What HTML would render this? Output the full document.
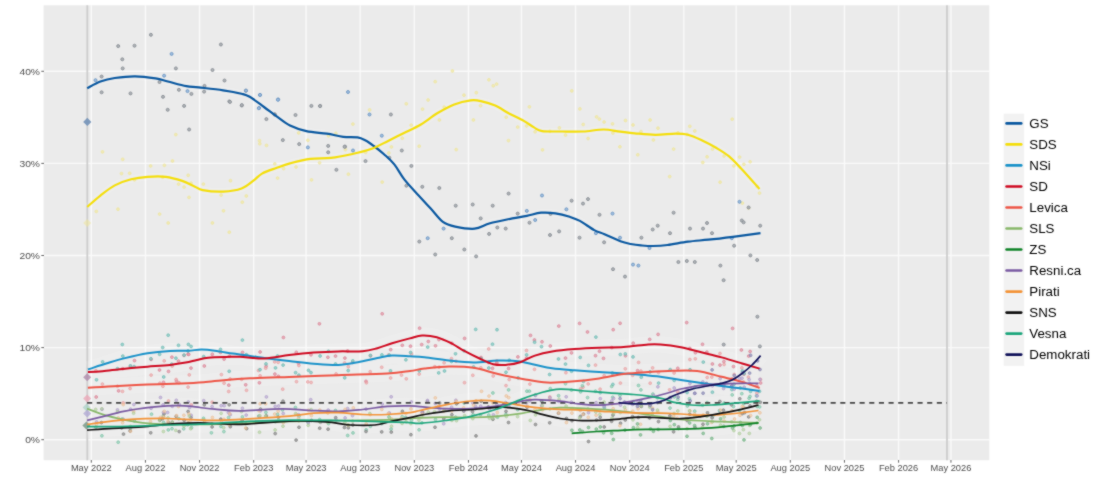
<!DOCTYPE html><html><head><meta charset="utf-8"><style>html,body{margin:0;padding:0;background:#fff;width:1100px;height:489px;overflow:hidden}svg{display:block}text{font-family:"Liberation Sans",sans-serif}</style></head><body>
<div id="w">
<svg width="1100" height="489" viewBox="0 0 1100 489">
<defs><filter id="bl" x="0" y="0" width="1" height="1" filterUnits="objectBoundingBox" color-interpolation-filters="sRGB"><feConvolveMatrix order="3" kernelMatrix="1 2 1 2 16 2 1 2 1" edgeMode="duplicate" preserveAlpha="true"/></filter></defs>
<g filter="url(#bl)">
<rect x="0" y="0" width="1100" height="489" fill="#fff"/>
<rect x="43.6" y="5.3" width="945.7" height="454.9" fill="#ebebeb"/>
<line x1="43.6" x2="989.3" y1="439.70" y2="439.70" stroke="#fafafa" stroke-width="1.4"/>
<line x1="43.6" x2="989.3" y1="347.60" y2="347.60" stroke="#fafafa" stroke-width="1.4"/>
<line x1="43.6" x2="989.3" y1="255.50" y2="255.50" stroke="#fafafa" stroke-width="1.4"/>
<line x1="43.6" x2="989.3" y1="163.40" y2="163.40" stroke="#fafafa" stroke-width="1.4"/>
<line x1="43.6" x2="989.3" y1="71.30" y2="71.30" stroke="#fafafa" stroke-width="1.4"/>
<line x1="91.30" x2="91.30" y1="5.3" y2="460.2" stroke="#fafafa" stroke-width="1.4"/>
<line x1="145.43" x2="145.43" y1="5.3" y2="460.2" stroke="#fafafa" stroke-width="1.4"/>
<line x1="199.57" x2="199.57" y1="5.3" y2="460.2" stroke="#fafafa" stroke-width="1.4"/>
<line x1="253.70" x2="253.70" y1="5.3" y2="460.2" stroke="#fafafa" stroke-width="1.4"/>
<line x1="306.07" x2="306.07" y1="5.3" y2="460.2" stroke="#fafafa" stroke-width="1.4"/>
<line x1="360.20" x2="360.20" y1="5.3" y2="460.2" stroke="#fafafa" stroke-width="1.4"/>
<line x1="414.33" x2="414.33" y1="5.3" y2="460.2" stroke="#fafafa" stroke-width="1.4"/>
<line x1="468.46" x2="468.46" y1="5.3" y2="460.2" stroke="#fafafa" stroke-width="1.4"/>
<line x1="521.42" x2="521.42" y1="5.3" y2="460.2" stroke="#fafafa" stroke-width="1.4"/>
<line x1="575.55" x2="575.55" y1="5.3" y2="460.2" stroke="#fafafa" stroke-width="1.4"/>
<line x1="629.69" x2="629.69" y1="5.3" y2="460.2" stroke="#fafafa" stroke-width="1.4"/>
<line x1="683.82" x2="683.82" y1="5.3" y2="460.2" stroke="#fafafa" stroke-width="1.4"/>
<line x1="736.19" x2="736.19" y1="5.3" y2="460.2" stroke="#fafafa" stroke-width="1.4"/>
<line x1="790.32" x2="790.32" y1="5.3" y2="460.2" stroke="#fafafa" stroke-width="1.4"/>
<line x1="844.45" x2="844.45" y1="5.3" y2="460.2" stroke="#fafafa" stroke-width="1.4"/>
<line x1="898.58" x2="898.58" y1="5.3" y2="460.2" stroke="#fafafa" stroke-width="1.4"/>
<line x1="950.95" x2="950.95" y1="5.3" y2="460.2" stroke="#fafafa" stroke-width="1.4"/>
<line x1="87.30" x2="87.30" y1="5.3" y2="460.2" stroke="#cdcdcd" stroke-width="1.8"/>
<line x1="947.00" x2="947.00" y1="5.3" y2="460.2" stroke="#cdcdcd" stroke-width="1.8"/>
<g opacity="0.13"><path d="M87.2,88.2 C89.4,87.1 95.8,83.2 100.4,81.5 C105.0,79.8 109.0,78.8 114.8,78.0 C120.6,77.2 128.4,76.3 135.2,76.4 C142.0,76.5 150.1,77.6 155.6,78.4 C161.1,79.2 162.8,80.2 167.9,81.5 C173.0,82.8 181.2,85.2 186.3,86.2 C191.4,87.2 192.5,86.7 198.6,87.4 C204.7,88.1 215.9,89.2 223.1,90.3 C230.2,91.3 237.1,92.6 241.5,93.7 C245.9,94.8 245.9,94.6 249.7,96.8 C253.4,99.0 259.6,103.8 264.0,107.0 C268.4,110.2 272.0,113.1 276.3,116.2 C280.6,119.3 285.0,123.1 290.0,125.6 C295.0,128.1 300.3,129.8 306.4,131.1 C312.5,132.4 320.7,132.8 326.8,133.7 C332.9,134.6 338.1,136.2 343.2,136.8 C348.3,137.4 353.8,136.8 357.5,137.4 C361.2,138.0 362.9,139.1 365.6,140.5 C368.3,141.9 370.7,143.7 373.8,146.0 C376.9,148.3 380.6,151.1 384.0,154.2 C387.4,157.3 390.9,160.2 394.3,164.4 C397.7,168.7 400.5,174.5 404.5,179.7 C408.5,184.8 414.0,190.5 418.4,195.3 C422.8,200.1 426.6,204.2 430.7,208.6 C434.8,213.0 438.8,218.9 442.9,221.9 C447.0,224.9 449.9,225.5 455.2,226.6 C460.5,227.7 468.8,229.2 474.6,228.7 C480.4,228.1 483.7,225.0 490.0,223.3 C496.3,221.6 506.3,219.7 512.4,218.4 C518.5,217.2 522.0,216.8 526.8,215.8 C531.6,214.9 536.3,213.1 541.1,212.7 C545.9,212.3 550.6,212.6 555.4,213.3 C560.2,214.0 565.6,215.5 569.7,216.8 C573.8,218.1 575.8,218.7 579.9,220.9 C584.0,223.1 590.1,227.9 594.2,230.1 C598.3,232.3 600.1,232.3 604.5,234.2 C608.9,236.1 616.0,239.7 620.4,241.3 C624.8,242.9 627.3,243.3 630.7,244.0 C634.1,244.7 637.1,245.1 640.9,245.4 C644.6,245.7 648.8,246.1 653.2,246.0 C657.6,245.9 661.7,245.7 667.5,245.0 C673.3,244.3 681.1,242.6 687.9,241.7 C694.7,240.8 700.9,240.5 708.4,239.7 C715.9,238.9 724.2,237.9 732.9,236.8 C741.6,235.7 755.9,233.8 760.5,233.2" fill="none" stroke="#ffffff" stroke-width="7" stroke-linecap="butt" stroke-linejoin="round"/><path d="M87.2,206.9 C89.4,205.0 95.8,199.2 100.4,195.6 C105.0,192.0 109.7,188.1 114.8,185.4 C119.9,182.7 125.6,180.7 131.1,179.3 C136.5,177.9 141.7,177.2 147.5,176.8 C153.3,176.4 160.1,176.1 165.9,176.8 C171.7,177.5 177.4,179.3 182.2,180.9 C187.0,182.5 191.1,184.9 194.5,186.4 C197.9,187.9 197.9,189.2 202.7,190.1 C207.5,191.0 216.6,191.9 223.1,191.6 C229.6,191.3 236.4,190.4 241.5,188.5 C246.6,186.6 250.4,182.8 253.8,180.3 C257.2,177.8 258.2,175.7 262.0,173.6 C265.8,171.5 271.6,169.7 276.3,168.0 C281.0,166.3 284.3,164.9 290.0,163.4 C295.7,161.9 303.6,159.8 310.4,158.9 C317.2,158.0 324.1,158.7 330.9,157.9 C337.7,157.1 344.5,155.7 351.3,154.2 C358.1,152.7 365.7,150.9 371.8,148.7 C377.9,146.5 382.7,143.6 388.1,140.9 C393.6,138.2 399.0,135.4 404.5,132.7 C410.0,130.0 415.4,127.7 420.9,124.5 C426.3,121.3 431.6,116.6 437.2,113.3 C442.8,110.0 448.7,106.7 454.3,104.5 C459.9,102.3 466.3,101.0 470.7,100.4 C475.1,99.8 476.8,100.2 480.9,101.1 C485.0,102.0 490.4,103.5 495.2,105.6 C500.0,107.7 504.7,111.2 509.5,113.7 C514.3,116.2 519.7,118.6 523.8,120.9 C527.9,123.2 530.9,125.7 534.0,127.4 C537.1,129.1 537.4,130.4 542.2,131.1 C547.0,131.8 555.9,131.4 562.7,131.5 C569.5,131.6 576.3,131.8 583.1,131.5 C589.9,131.2 597.4,129.5 603.6,129.5 C609.8,129.5 615.2,131.1 620.4,131.7 C625.6,132.3 629.0,132.8 634.8,133.3 C640.6,133.8 648.4,134.7 655.2,134.8 C662.0,134.9 670.2,133.7 675.6,133.7 C681.0,133.7 683.5,133.7 687.9,134.8 C692.3,135.9 697.4,138.3 702.2,140.5 C707.0,142.7 712.1,145.4 716.5,148.0 C720.9,150.6 724.7,152.8 728.8,156.2 C732.9,159.6 737.4,164.6 741.1,168.5 C744.9,172.4 748.2,176.3 751.3,179.7 C754.4,183.1 758.1,187.4 759.5,188.9" fill="none" stroke="#ffffff" stroke-width="7" stroke-linecap="butt" stroke-linejoin="round"/><path d="M87.9,369.4 C91.1,368.4 100.8,365.2 107.0,363.3 C113.2,361.4 118.2,359.8 125.0,358.1 C131.8,356.4 140.0,354.4 147.5,353.2 C155.0,352.0 163.2,351.3 170.0,350.9 C176.8,350.5 182.8,350.9 188.0,350.7 C193.2,350.5 196.9,349.6 201.4,349.6 C205.9,349.6 209.7,350.0 214.9,350.7 C220.2,351.4 227.1,352.7 232.9,353.6 C238.8,354.5 244.7,355.2 250.0,355.9 C255.3,356.6 258.0,357.1 264.5,358.0 C271.0,358.9 280.9,360.1 289.1,361.0 C297.3,361.9 305.4,363.1 313.6,363.7 C321.8,364.3 330.7,365.1 338.1,364.9 C345.5,364.6 351.2,363.3 357.8,362.2 C364.4,361.1 371.7,359.1 377.4,358.0 C383.1,356.9 386.7,355.9 392.1,355.6 C397.5,355.3 404.6,356.0 410.0,356.3 C415.4,356.6 418.0,356.6 424.5,357.3 C431.0,358.0 440.9,359.6 449.1,360.5 C457.3,361.4 465.4,362.4 473.6,362.4 C481.8,362.4 490.7,360.7 498.1,360.5 C505.5,360.3 511.7,360.5 517.8,361.2 C523.9,361.9 529.2,363.5 534.9,364.7 C540.6,365.9 545.5,367.4 552.1,368.3 C558.7,369.2 566.7,369.7 574.5,370.3 C582.3,370.9 590.9,371.5 599.1,372.0 C607.3,372.5 615.4,372.9 623.6,373.5 C631.8,374.1 642.0,374.8 648.1,375.4 C654.2,375.9 654.9,376.1 660.4,376.8 C665.9,377.6 674.1,378.9 680.9,379.9 C687.7,380.9 694.5,381.9 701.3,382.9 C708.1,383.9 714.9,385.1 721.7,386.0 C728.5,386.9 735.9,387.8 742.2,388.6 C748.5,389.5 756.7,390.7 759.6,391.1" fill="none" stroke="#ffffff" stroke-width="16" stroke-linecap="butt" stroke-linejoin="round"/><path d="M87.9,372.1 C90.3,372.0 96.3,371.8 102.5,371.2 C108.7,370.6 117.5,369.4 125.0,368.7 C132.5,367.9 140.0,367.3 147.5,366.7 C155.0,366.1 163.6,365.6 170.0,364.9 C176.4,364.2 181.2,363.4 185.7,362.6 C190.2,361.8 193.2,360.7 196.9,359.9 C200.7,359.1 203.3,358.2 208.2,357.7 C213.1,357.2 220.9,357.1 226.2,357.0 C231.5,356.9 233.6,356.6 240.0,356.8 C246.4,357.1 256.3,358.8 264.5,358.5 C272.7,358.2 280.9,356.1 289.1,355.1 C297.3,354.1 305.4,353.2 313.6,352.6 C321.8,352.0 329.9,351.6 338.1,351.4 C346.3,351.2 356.1,351.7 362.7,351.2 C369.2,350.7 372.5,349.5 377.4,348.2 C382.3,346.9 386.7,344.9 392.1,343.3 C397.5,341.7 404.8,339.7 409.8,338.4 C414.8,337.1 417.6,335.7 422.1,335.5 C426.6,335.3 431.9,335.9 436.8,337.2 C441.7,338.5 447.0,341.1 451.5,343.3 C456.0,345.6 459.3,348.2 463.8,350.7 C468.3,353.1 473.6,355.8 478.5,358.0 C483.4,360.2 488.7,363.1 493.2,364.2 C497.7,365.3 501.0,365.2 505.5,364.9 C510.0,364.6 515.3,363.8 520.2,362.2 C525.1,360.6 529.6,357.4 534.9,355.6 C540.2,353.8 545.5,352.5 552.1,351.4 C558.7,350.3 566.7,349.6 574.5,349.0 C582.3,348.4 590.9,348.0 599.1,347.7 C607.3,347.4 615.4,347.5 623.6,347.0 C631.8,346.5 642.0,344.9 648.1,344.5 C654.2,344.1 654.9,344.1 660.4,344.5 C665.9,344.9 674.1,345.9 680.9,347.2 C687.7,348.5 694.5,350.6 701.3,352.3 C708.1,354.0 714.9,355.5 721.7,357.4 C728.5,359.3 735.9,361.6 742.2,363.5 C748.5,365.4 756.7,367.8 759.6,368.6" fill="none" stroke="#ffffff" stroke-width="16" stroke-linecap="butt" stroke-linejoin="round"/><path d="M87.9,387.8 C92.2,387.5 103.8,386.7 113.7,386.2 C123.6,385.7 136.2,385.1 147.5,384.6 C158.8,384.2 171.8,383.9 181.2,383.5 C190.6,383.1 196.2,382.8 203.7,382.2 C211.2,381.6 218.5,380.5 226.2,379.9 C233.9,379.2 239.5,378.8 250.0,378.3 C260.5,377.8 274.4,377.4 289.1,376.9 C303.8,376.4 321.8,375.8 338.1,375.2 C354.5,374.6 375.2,374.2 387.2,373.5 C399.2,372.8 403.8,371.8 410.0,371.0 C416.2,370.2 418.0,369.3 424.5,368.6 C431.0,367.9 440.9,366.7 449.1,366.6 C457.3,366.5 465.4,366.6 473.6,367.8 C481.8,369.0 489.9,372.1 498.1,374.0 C506.3,375.9 514.5,377.5 522.7,378.9 C530.9,380.3 538.6,382.2 547.2,382.6 C555.8,383.0 565.9,382.0 574.5,381.3 C583.1,380.6 590.9,379.6 599.1,378.4 C607.3,377.2 615.4,375.1 623.6,374.0 C631.8,372.9 639.9,372.5 648.1,372.0 C656.3,371.5 664.5,371.0 672.7,370.8 C680.9,370.6 689.0,370.0 697.2,371.0 C705.4,372.0 714.2,375.0 721.7,376.8 C729.2,378.6 735.9,380.0 742.2,381.9 C748.5,383.8 756.7,387.0 759.6,388.0" fill="none" stroke="#ffffff" stroke-width="16" stroke-linecap="butt" stroke-linejoin="round"/><path d="M87.1,408.6 C89.5,409.5 96.6,412.5 101.8,414.1 C107.0,415.8 112.8,417.2 118.2,418.5 C123.7,419.8 129.1,420.8 134.5,421.7 C139.9,422.6 145.0,423.2 150.9,423.6 C156.8,424.0 161.8,424.2 170.0,424.3 C178.2,424.4 188.3,424.6 200.0,424.5 C211.7,424.4 225.2,424.0 240.0,423.5 C254.8,423.0 272.7,422.0 289.0,421.5 C305.3,421.0 321.7,420.8 338.0,420.5 C354.3,420.2 373.3,420.2 387.0,419.8 C400.7,419.4 410.2,418.3 420.0,417.9 C429.8,417.5 437.0,417.3 445.5,417.2 C454.0,417.1 462.4,417.6 470.9,417.5 C479.4,417.4 487.9,417.0 496.4,416.3 C504.9,415.6 514.4,414.4 521.8,413.3 C529.2,412.2 534.5,410.8 540.9,409.9 C547.3,408.9 552.7,407.9 560.0,407.6 C567.3,407.4 574.5,407.8 584.5,408.4 C594.5,409.0 609.1,409.9 620.0,411.0 C630.9,412.1 639.9,413.6 650.0,415.0 C660.1,416.4 668.9,418.4 680.9,419.5 C692.9,420.6 708.8,421.1 721.7,421.7 C734.6,422.2 752.4,422.6 758.5,422.8" fill="none" stroke="#ffffff" stroke-width="16" stroke-linecap="butt" stroke-linejoin="round"/><path d="M571.7,433.4 C575.9,433.1 588.5,432.0 596.8,431.5 C605.1,431.0 613.1,430.7 621.3,430.3 C629.5,429.9 636.1,429.6 645.9,429.4 C655.7,429.2 669.1,429.4 680.0,429.2 C690.9,428.9 702.8,428.5 711.5,427.9 C720.2,427.3 724.2,426.6 732.0,425.8 C739.8,425.0 754.1,423.3 758.5,422.8" fill="none" stroke="#ffffff" stroke-width="16" stroke-linecap="butt" stroke-linejoin="round"/><path d="M87.1,420.3 C89.5,419.7 95.7,418.3 101.8,416.8 C107.9,415.3 116.3,412.9 123.6,411.4 C130.9,409.9 138.2,408.8 145.5,407.9 C152.8,407.0 161.9,406.3 167.3,405.9 C172.8,405.5 174.6,405.6 178.2,405.7 C181.8,405.8 185.5,405.9 189.1,406.2 C192.7,406.5 195.7,407.0 200.0,407.5 C204.3,408.0 208.2,408.6 214.9,409.2 C221.6,409.8 228.9,410.9 240.0,410.8 C251.1,410.7 270.2,408.9 281.7,408.8 C293.1,408.7 299.3,409.9 308.7,410.3 C318.1,410.7 329.1,411.4 338.1,411.3 C347.1,411.2 354.5,410.3 362.7,409.5 C370.9,408.7 379.3,407.0 387.2,406.4 C395.1,405.8 404.5,405.8 410.0,405.9 C415.5,405.9 414.1,406.2 420.0,406.7 C425.9,407.1 437.0,408.3 445.5,408.6 C454.0,408.9 462.4,409.0 470.9,408.6 C479.4,408.2 489.0,407.2 496.4,406.1 C503.8,405.1 509.1,403.4 515.5,402.3 C521.9,401.2 527.1,399.9 534.5,399.7 C541.9,399.5 552.7,400.5 560.0,401.2 C567.3,401.9 572.3,403.2 578.4,403.9 C584.5,404.6 590.7,405.2 596.8,405.2 C602.9,405.2 609.1,404.6 615.2,403.9 C621.3,403.2 627.5,402.0 633.6,400.9 C639.7,399.8 645.9,398.6 652.0,397.2 C658.1,395.8 665.6,393.7 670.4,392.3 C675.2,390.9 675.8,390.1 680.9,389.0 C686.0,387.9 694.5,386.2 701.3,385.4 C708.1,384.5 714.9,384.2 721.7,383.9 C728.5,383.5 736.1,383.4 742.2,383.3 C748.3,383.2 755.8,383.3 758.5,383.3" fill="none" stroke="#ffffff" stroke-width="16" stroke-linecap="butt" stroke-linejoin="round"/><path d="M87.1,424.5 C89.5,424.1 95.7,423.1 101.8,422.3 C107.9,421.5 116.3,420.5 123.6,419.9 C130.9,419.3 138.2,418.9 145.5,418.7 C152.8,418.5 160.0,418.4 167.3,418.5 C174.6,418.6 181.2,419.2 189.1,419.5 C197.0,419.8 206.4,420.4 214.9,420.4 C223.4,420.4 227.6,420.1 240.0,419.4 C252.4,418.7 276.8,417.2 289.1,416.2 C301.4,415.2 305.4,413.8 313.6,413.2 C321.8,412.6 329.9,412.5 338.1,412.7 C346.3,412.9 354.5,414.2 362.7,414.5 C370.9,414.8 379.3,414.8 387.2,414.5 C395.1,414.2 404.5,413.4 410.0,412.7 C415.5,412.0 414.1,411.8 420.0,410.5 C425.9,409.2 437.0,406.4 445.5,404.8 C454.0,403.2 463.5,401.7 470.9,401.0 C478.3,400.3 483.6,400.3 490.0,400.7 C496.4,401.1 502.7,402.5 509.1,403.5 C515.5,404.5 521.8,405.8 528.2,406.7 C534.6,407.6 542.0,408.2 547.3,408.6 C552.6,409.0 553.8,409.1 560.0,409.3 C566.2,409.6 576.3,409.7 584.5,410.1 C592.7,410.5 600.9,411.2 609.1,411.7 C617.3,412.2 625.1,412.6 633.6,412.9 C642.1,413.1 652.5,413.0 660.4,413.2 C668.3,413.4 674.1,413.7 680.9,414.0 C687.7,414.3 694.5,415.1 701.3,415.2 C708.1,415.3 714.9,415.0 721.7,414.6 C728.5,414.2 736.1,413.3 742.2,412.6 C748.3,411.9 755.8,410.9 758.5,410.5" fill="none" stroke="#ffffff" stroke-width="16" stroke-linecap="butt" stroke-linejoin="round"/><path d="M87.1,430.1 C91.4,429.8 103.0,428.9 112.7,428.3 C122.4,427.7 135.5,427.3 145.5,426.6 C155.5,425.9 163.6,424.5 172.7,423.9 C181.8,423.3 188.8,422.7 200.0,422.8 C211.2,422.9 225.2,424.6 240.0,424.3 C254.8,424.0 274.8,421.5 289.1,421.1 C303.4,420.7 315.7,421.2 325.9,421.8 C336.1,422.4 342.2,424.5 350.4,425.0 C358.6,425.5 367.9,425.6 374.9,425.0 C381.8,424.4 386.2,422.3 392.1,421.1 C398.0,419.9 404.6,418.7 410.0,417.6 C415.4,416.5 418.0,415.6 424.5,414.5 C431.0,413.4 440.9,411.6 449.1,410.8 C457.3,410.0 465.4,410.1 473.6,409.5 C481.8,408.9 492.2,407.4 498.1,407.1 C504.0,406.8 504.1,407.1 509.1,407.7 C514.1,408.3 522.9,409.4 528.2,410.5 C533.5,411.6 535.6,412.8 540.9,414.1 C546.2,415.4 553.8,417.4 560.0,418.5 C566.2,419.6 572.3,420.2 578.4,420.5 C584.5,420.8 590.7,420.7 596.8,420.5 C602.9,420.3 609.1,419.8 615.2,419.3 C621.3,418.8 628.5,417.8 633.6,417.4 C638.7,417.0 641.4,417.0 645.9,417.1 C650.4,417.2 654.6,417.6 660.4,417.9 C666.2,418.2 674.1,418.9 680.9,418.7 C687.7,418.5 694.5,417.5 701.3,416.6 C708.1,415.7 714.9,414.4 721.7,413.2 C728.5,411.9 736.1,410.5 742.2,409.1 C748.3,407.7 755.8,405.7 758.5,405.0" fill="none" stroke="#ffffff" stroke-width="16" stroke-linecap="butt" stroke-linejoin="round"/><path d="M87.1,426.6 C91.4,426.6 103.0,426.7 112.7,426.6 C122.4,426.5 136.4,426.1 145.5,425.8 C154.6,425.5 158.2,425.3 167.3,425.0 C176.4,424.7 187.9,424.7 200.0,424.2 C212.1,423.7 225.2,422.5 240.0,421.8 C254.8,421.1 272.8,420.3 289.1,420.1 C305.5,419.9 321.8,420.3 338.1,420.6 C354.5,420.9 375.2,421.5 387.2,421.8 C399.2,422.1 404.5,422.4 410.0,422.6 C415.5,422.9 414.1,423.7 420.0,423.3 C425.9,422.9 437.0,421.7 445.5,420.5 C454.0,419.3 462.4,418.2 470.9,416.3 C479.4,414.4 487.9,412.2 496.4,409.3 C504.9,406.4 514.4,401.9 521.8,399.1 C529.2,396.3 534.5,394.4 540.9,392.7 C547.3,391.0 552.7,389.5 560.0,389.2 C567.3,388.9 576.3,390.4 584.5,391.0 C592.7,391.6 600.9,392.3 609.1,392.9 C617.3,393.5 626.5,393.9 633.6,394.5 C640.8,395.1 646.9,395.9 652.0,396.6 C657.1,397.4 660.8,398.1 664.3,399.0 C667.8,399.9 668.4,401.1 672.9,402.1 C677.4,403.1 684.7,404.5 691.1,405.0 C697.5,405.5 704.7,405.3 711.5,405.0 C718.3,404.7 724.0,404.1 732.0,403.4 C740.0,402.7 755.0,401.3 759.6,400.9" fill="none" stroke="#ffffff" stroke-width="16" stroke-linecap="butt" stroke-linejoin="round"/><path d="M618.9,402.7 C621.4,402.9 628.1,403.8 633.6,403.9 C639.1,404.0 646.9,403.9 652.0,403.3 C657.1,402.7 660.6,401.5 664.3,400.2 C668.0,398.9 669.5,397.3 674.0,395.5 C678.5,393.7 685.5,391.0 691.1,389.4 C696.7,387.8 702.3,387.0 707.4,386.0 C712.5,385.0 717.6,384.3 721.7,383.3 C725.8,382.3 728.6,381.6 732.0,380.0 C735.4,378.4 738.7,376.0 742.0,373.5 C745.3,371.0 748.9,368.0 752.0,365.0 C755.1,362.0 759.2,357.2 760.6,355.6" fill="none" stroke="#ffffff" stroke-width="16" stroke-linecap="butt" stroke-linejoin="round"/></g>
<g><circle cx="96.3" cy="211.4" r="1.4" fill="#f2eba8" stroke="#ede290" stroke-width="0.8" opacity="0.80"/><circle cx="102.5" cy="151.9" r="1.4" fill="#f2eba8" stroke="#ede290" stroke-width="0.8" opacity="0.80"/><circle cx="118.0" cy="209.2" r="1.4" fill="#f2eba8" stroke="#ede290" stroke-width="0.8" opacity="0.80"/><circle cx="121.5" cy="173.6" r="1.4" fill="#f2eba8" stroke="#ede290" stroke-width="0.8" opacity="0.80"/><circle cx="122.7" cy="159.3" r="1.4" fill="#f2eba8" stroke="#ede290" stroke-width="0.8" opacity="0.80"/><circle cx="129.7" cy="173.3" r="1.4" fill="#f2eba8" stroke="#ede290" stroke-width="0.8" opacity="0.80"/><circle cx="134.5" cy="179.9" r="1.4" fill="#f2eba8" stroke="#ede290" stroke-width="0.8" opacity="0.80"/><circle cx="150.6" cy="166.0" r="1.4" fill="#f2eba8" stroke="#ede290" stroke-width="0.8" opacity="0.80"/><circle cx="159.6" cy="214.1" r="1.4" fill="#f2eba8" stroke="#ede290" stroke-width="0.8" opacity="0.80"/><circle cx="162.7" cy="177.2" r="1.4" fill="#f2eba8" stroke="#ede290" stroke-width="0.8" opacity="0.80"/><circle cx="164.4" cy="165.3" r="1.4" fill="#f2eba8" stroke="#ede290" stroke-width="0.8" opacity="0.80"/><circle cx="168.2" cy="223.0" r="1.4" fill="#f2eba8" stroke="#ede290" stroke-width="0.8" opacity="0.80"/><circle cx="172.5" cy="161.0" r="1.4" fill="#f2eba8" stroke="#ede290" stroke-width="0.8" opacity="0.80"/><circle cx="175.8" cy="134.6" r="1.4" fill="#f2eba8" stroke="#ede290" stroke-width="0.8" opacity="0.80"/><circle cx="178.6" cy="184.1" r="1.4" fill="#f2eba8" stroke="#ede290" stroke-width="0.8" opacity="0.80"/><circle cx="184.1" cy="187.1" r="1.4" fill="#f2eba8" stroke="#ede290" stroke-width="0.8" opacity="0.80"/><circle cx="188.2" cy="175.3" r="1.4" fill="#f2eba8" stroke="#ede290" stroke-width="0.8" opacity="0.80"/><circle cx="189.0" cy="197.4" r="1.4" fill="#f2eba8" stroke="#ede290" stroke-width="0.8" opacity="0.80"/><circle cx="191.0" cy="183.1" r="1.4" fill="#f2eba8" stroke="#ede290" stroke-width="0.8" opacity="0.80"/><circle cx="203.4" cy="184.1" r="1.4" fill="#f2eba8" stroke="#ede290" stroke-width="0.8" opacity="0.80"/><circle cx="212.4" cy="223.0" r="1.4" fill="#f2eba8" stroke="#ede290" stroke-width="0.8" opacity="0.80"/><circle cx="221.1" cy="195.1" r="1.4" fill="#f2eba8" stroke="#ede290" stroke-width="0.8" opacity="0.80"/><circle cx="223.5" cy="210.8" r="1.4" fill="#f2eba8" stroke="#ede290" stroke-width="0.8" opacity="0.80"/><circle cx="229.3" cy="232.2" r="1.4" fill="#f2eba8" stroke="#ede290" stroke-width="0.8" opacity="0.80"/><circle cx="230.5" cy="180.7" r="1.4" fill="#f2eba8" stroke="#ede290" stroke-width="0.8" opacity="0.80"/><circle cx="242.3" cy="202.2" r="1.4" fill="#f2eba8" stroke="#ede290" stroke-width="0.8" opacity="0.80"/><circle cx="246.3" cy="196.0" r="1.4" fill="#f2eba8" stroke="#ede290" stroke-width="0.8" opacity="0.80"/><circle cx="259.5" cy="140.7" r="1.4" fill="#f2eba8" stroke="#ede290" stroke-width="0.8" opacity="0.80"/><circle cx="259.8" cy="143.8" r="1.4" fill="#f2eba8" stroke="#ede290" stroke-width="0.8" opacity="0.80"/><circle cx="266.5" cy="145.4" r="1.4" fill="#f2eba8" stroke="#ede290" stroke-width="0.8" opacity="0.80"/><circle cx="274.8" cy="163.9" r="1.4" fill="#f2eba8" stroke="#ede290" stroke-width="0.8" opacity="0.80"/><circle cx="277.6" cy="178.1" r="1.4" fill="#f2eba8" stroke="#ede290" stroke-width="0.8" opacity="0.80"/><circle cx="283.6" cy="168.6" r="1.4" fill="#f2eba8" stroke="#ede290" stroke-width="0.8" opacity="0.80"/><circle cx="296.0" cy="167.0" r="1.4" fill="#f2eba8" stroke="#ede290" stroke-width="0.8" opacity="0.80"/><circle cx="298.7" cy="132.9" r="1.4" fill="#f2eba8" stroke="#ede290" stroke-width="0.8" opacity="0.80"/><circle cx="307.9" cy="140.3" r="1.4" fill="#f2eba8" stroke="#ede290" stroke-width="0.8" opacity="0.80"/><circle cx="311.5" cy="179.9" r="1.4" fill="#f2eba8" stroke="#ede290" stroke-width="0.8" opacity="0.80"/><circle cx="319.6" cy="162.8" r="1.4" fill="#f2eba8" stroke="#ede290" stroke-width="0.8" opacity="0.80"/><circle cx="328.5" cy="135.9" r="1.4" fill="#f2eba8" stroke="#ede290" stroke-width="0.8" opacity="0.80"/><circle cx="335.9" cy="133.3" r="1.4" fill="#f2eba8" stroke="#ede290" stroke-width="0.8" opacity="0.80"/><circle cx="345.4" cy="149.6" r="1.4" fill="#f2eba8" stroke="#ede290" stroke-width="0.8" opacity="0.80"/><circle cx="348.4" cy="174.2" r="1.4" fill="#f2eba8" stroke="#ede290" stroke-width="0.8" opacity="0.80"/><circle cx="352.9" cy="124.1" r="1.4" fill="#f2eba8" stroke="#ede290" stroke-width="0.8" opacity="0.80"/><circle cx="365.7" cy="152.5" r="1.4" fill="#f2eba8" stroke="#ede290" stroke-width="0.8" opacity="0.80"/><circle cx="369.6" cy="109.9" r="1.4" fill="#f2eba8" stroke="#ede290" stroke-width="0.8" opacity="0.80"/><circle cx="382.2" cy="182.1" r="1.4" fill="#f2eba8" stroke="#ede290" stroke-width="0.8" opacity="0.80"/><circle cx="388.8" cy="153.0" r="1.4" fill="#f2eba8" stroke="#ede290" stroke-width="0.8" opacity="0.80"/><circle cx="391.4" cy="147.0" r="1.4" fill="#f2eba8" stroke="#ede290" stroke-width="0.8" opacity="0.80"/><circle cx="402.3" cy="138.2" r="1.4" fill="#f2eba8" stroke="#ede290" stroke-width="0.8" opacity="0.80"/><circle cx="406.3" cy="103.8" r="1.4" fill="#f2eba8" stroke="#ede290" stroke-width="0.8" opacity="0.80"/><circle cx="411.2" cy="125.2" r="1.4" fill="#f2eba8" stroke="#ede290" stroke-width="0.8" opacity="0.80"/><circle cx="419.2" cy="146.2" r="1.4" fill="#f2eba8" stroke="#ede290" stroke-width="0.8" opacity="0.80"/><circle cx="422.5" cy="109.1" r="1.4" fill="#f2eba8" stroke="#ede290" stroke-width="0.8" opacity="0.80"/><circle cx="428.1" cy="100.0" r="1.4" fill="#f2eba8" stroke="#ede290" stroke-width="0.8" opacity="0.80"/><circle cx="435.2" cy="81.7" r="1.4" fill="#f2eba8" stroke="#ede290" stroke-width="0.8" opacity="0.80"/><circle cx="439.4" cy="120.0" r="1.4" fill="#f2eba8" stroke="#ede290" stroke-width="0.8" opacity="0.80"/><circle cx="444.2" cy="107.1" r="1.4" fill="#f2eba8" stroke="#ede290" stroke-width="0.8" opacity="0.80"/><circle cx="452.4" cy="71.0" r="1.4" fill="#f2eba8" stroke="#ede290" stroke-width="0.8" opacity="0.80"/><circle cx="456.2" cy="149.6" r="1.4" fill="#f2eba8" stroke="#ede290" stroke-width="0.8" opacity="0.80"/><circle cx="464.0" cy="95.2" r="1.4" fill="#f2eba8" stroke="#ede290" stroke-width="0.8" opacity="0.80"/><circle cx="473.4" cy="120.0" r="1.4" fill="#f2eba8" stroke="#ede290" stroke-width="0.8" opacity="0.80"/><circle cx="476.3" cy="92.7" r="1.4" fill="#f2eba8" stroke="#ede290" stroke-width="0.8" opacity="0.80"/><circle cx="480.6" cy="105.7" r="1.4" fill="#f2eba8" stroke="#ede290" stroke-width="0.8" opacity="0.80"/><circle cx="488.9" cy="79.8" r="1.4" fill="#f2eba8" stroke="#ede290" stroke-width="0.8" opacity="0.80"/><circle cx="493.3" cy="85.8" r="1.4" fill="#f2eba8" stroke="#ede290" stroke-width="0.8" opacity="0.80"/><circle cx="496.6" cy="84.1" r="1.4" fill="#f2eba8" stroke="#ede290" stroke-width="0.8" opacity="0.80"/><circle cx="506.2" cy="117.2" r="1.4" fill="#f2eba8" stroke="#ede290" stroke-width="0.8" opacity="0.80"/><circle cx="508.5" cy="140.6" r="1.4" fill="#f2eba8" stroke="#ede290" stroke-width="0.8" opacity="0.80"/><circle cx="517.7" cy="127.1" r="1.4" fill="#f2eba8" stroke="#ede290" stroke-width="0.8" opacity="0.80"/><circle cx="526.6" cy="126.0" r="1.4" fill="#f2eba8" stroke="#ede290" stroke-width="0.8" opacity="0.80"/><circle cx="529.4" cy="106.9" r="1.4" fill="#f2eba8" stroke="#ede290" stroke-width="0.8" opacity="0.80"/><circle cx="535.1" cy="131.8" r="1.4" fill="#f2eba8" stroke="#ede290" stroke-width="0.8" opacity="0.80"/><circle cx="542.5" cy="149.9" r="1.4" fill="#f2eba8" stroke="#ede290" stroke-width="0.8" opacity="0.80"/><circle cx="549.9" cy="131.3" r="1.4" fill="#f2eba8" stroke="#ede290" stroke-width="0.8" opacity="0.80"/><circle cx="559.4" cy="127.9" r="1.4" fill="#f2eba8" stroke="#ede290" stroke-width="0.8" opacity="0.80"/><circle cx="565.5" cy="135.1" r="1.4" fill="#f2eba8" stroke="#ede290" stroke-width="0.8" opacity="0.80"/><circle cx="571.8" cy="90.9" r="1.4" fill="#f2eba8" stroke="#ede290" stroke-width="0.8" opacity="0.80"/><circle cx="579.9" cy="108.9" r="1.4" fill="#f2eba8" stroke="#ede290" stroke-width="0.8" opacity="0.80"/><circle cx="583.2" cy="124.5" r="1.4" fill="#f2eba8" stroke="#ede290" stroke-width="0.8" opacity="0.80"/><circle cx="588.1" cy="138.5" r="1.4" fill="#f2eba8" stroke="#ede290" stroke-width="0.8" opacity="0.80"/><circle cx="596.6" cy="116.9" r="1.4" fill="#f2eba8" stroke="#ede290" stroke-width="0.8" opacity="0.80"/><circle cx="599.4" cy="119.1" r="1.4" fill="#f2eba8" stroke="#ede290" stroke-width="0.8" opacity="0.80"/><circle cx="604.1" cy="122.0" r="1.4" fill="#f2eba8" stroke="#ede290" stroke-width="0.8" opacity="0.80"/><circle cx="612.5" cy="123.9" r="1.4" fill="#f2eba8" stroke="#ede290" stroke-width="0.8" opacity="0.80"/><circle cx="612.9" cy="133.0" r="1.4" fill="#f2eba8" stroke="#ede290" stroke-width="0.8" opacity="0.80"/><circle cx="619.9" cy="146.8" r="1.4" fill="#f2eba8" stroke="#ede290" stroke-width="0.8" opacity="0.80"/><circle cx="625.5" cy="120.5" r="1.4" fill="#f2eba8" stroke="#ede290" stroke-width="0.8" opacity="0.80"/><circle cx="633.0" cy="125.0" r="1.4" fill="#f2eba8" stroke="#ede290" stroke-width="0.8" opacity="0.80"/><circle cx="637.8" cy="154.8" r="1.4" fill="#f2eba8" stroke="#ede290" stroke-width="0.8" opacity="0.80"/><circle cx="641.0" cy="131.6" r="1.4" fill="#f2eba8" stroke="#ede290" stroke-width="0.8" opacity="0.80"/><circle cx="650.1" cy="120.0" r="1.4" fill="#f2eba8" stroke="#ede290" stroke-width="0.8" opacity="0.80"/><circle cx="653.4" cy="140.0" r="1.4" fill="#f2eba8" stroke="#ede290" stroke-width="0.8" opacity="0.80"/><circle cx="658.0" cy="128.2" r="1.4" fill="#f2eba8" stroke="#ede290" stroke-width="0.8" opacity="0.80"/><circle cx="669.7" cy="176.6" r="1.4" fill="#f2eba8" stroke="#ede290" stroke-width="0.8" opacity="0.80"/><circle cx="673.6" cy="149.1" r="1.4" fill="#f2eba8" stroke="#ede290" stroke-width="0.8" opacity="0.80"/><circle cx="678.0" cy="132.8" r="1.4" fill="#f2eba8" stroke="#ede290" stroke-width="0.8" opacity="0.80"/><circle cx="687.1" cy="134.4" r="1.4" fill="#f2eba8" stroke="#ede290" stroke-width="0.8" opacity="0.80"/><circle cx="689.8" cy="126.3" r="1.4" fill="#f2eba8" stroke="#ede290" stroke-width="0.8" opacity="0.80"/><circle cx="694.8" cy="131.0" r="1.4" fill="#f2eba8" stroke="#ede290" stroke-width="0.8" opacity="0.80"/><circle cx="702.8" cy="162.5" r="1.4" fill="#f2eba8" stroke="#ede290" stroke-width="0.8" opacity="0.80"/><circle cx="707.1" cy="156.8" r="1.4" fill="#f2eba8" stroke="#ede290" stroke-width="0.8" opacity="0.80"/><circle cx="712.5" cy="149.1" r="1.4" fill="#f2eba8" stroke="#ede290" stroke-width="0.8" opacity="0.80"/><circle cx="720.1" cy="182.2" r="1.4" fill="#f2eba8" stroke="#ede290" stroke-width="0.8" opacity="0.80"/><circle cx="724.1" cy="156.0" r="1.4" fill="#f2eba8" stroke="#ede290" stroke-width="0.8" opacity="0.80"/><circle cx="732.2" cy="119.2" r="1.4" fill="#f2eba8" stroke="#ede290" stroke-width="0.8" opacity="0.80"/><circle cx="733.9" cy="165.9" r="1.4" fill="#f2eba8" stroke="#ede290" stroke-width="0.8" opacity="0.80"/><circle cx="739.6" cy="157.1" r="1.4" fill="#f2eba8" stroke="#ede290" stroke-width="0.8" opacity="0.80"/><circle cx="742.4" cy="203.1" r="1.4" fill="#f2eba8" stroke="#ede290" stroke-width="0.8" opacity="0.80"/><circle cx="743.9" cy="164.3" r="1.4" fill="#f2eba8" stroke="#ede290" stroke-width="0.8" opacity="0.80"/><circle cx="748.6" cy="208.0" r="1.4" fill="#f2eba8" stroke="#ede290" stroke-width="0.8" opacity="0.80"/><circle cx="750.1" cy="161.8" r="1.4" fill="#f2eba8" stroke="#ede290" stroke-width="0.8" opacity="0.80"/><circle cx="757.1" cy="186.5" r="1.4" fill="#f2eba8" stroke="#ede290" stroke-width="0.8" opacity="0.80"/><circle cx="759.5" cy="193.1" r="1.4" fill="#f2eba8" stroke="#ede290" stroke-width="0.8" opacity="0.80"/><circle cx="96.2" cy="397.0" r="1.4" fill="#e7a3b0" stroke="#d67a8e" stroke-width="0.8" opacity="0.85"/><circle cx="118.6" cy="390.9" r="1.4" fill="#e7a3b0" stroke="#d67a8e" stroke-width="0.8" opacity="0.85"/><circle cx="122.7" cy="368.7" r="1.4" fill="#e7a3b0" stroke="#d67a8e" stroke-width="0.8" opacity="0.85"/><circle cx="130.5" cy="366.5" r="1.4" fill="#e7a3b0" stroke="#d67a8e" stroke-width="0.8" opacity="0.85"/><circle cx="134.5" cy="360.6" r="1.4" fill="#e7a3b0" stroke="#d67a8e" stroke-width="0.8" opacity="0.85"/><circle cx="151.1" cy="359.4" r="1.4" fill="#e7a3b0" stroke="#d67a8e" stroke-width="0.8" opacity="0.85"/><circle cx="159.5" cy="370.0" r="1.4" fill="#e7a3b0" stroke="#d67a8e" stroke-width="0.8" opacity="0.85"/><circle cx="163.5" cy="382.3" r="1.4" fill="#e7a3b0" stroke="#d67a8e" stroke-width="0.8" opacity="0.85"/><circle cx="168.5" cy="371.4" r="1.4" fill="#e7a3b0" stroke="#d67a8e" stroke-width="0.8" opacity="0.85"/><circle cx="171.9" cy="357.2" r="1.4" fill="#e7a3b0" stroke="#d67a8e" stroke-width="0.8" opacity="0.85"/><circle cx="176.5" cy="381.1" r="1.4" fill="#e7a3b0" stroke="#d67a8e" stroke-width="0.8" opacity="0.85"/><circle cx="178.5" cy="361.1" r="1.4" fill="#e7a3b0" stroke="#d67a8e" stroke-width="0.8" opacity="0.85"/><circle cx="184.0" cy="355.4" r="1.4" fill="#e7a3b0" stroke="#d67a8e" stroke-width="0.8" opacity="0.85"/><circle cx="188.1" cy="354.2" r="1.4" fill="#e7a3b0" stroke="#d67a8e" stroke-width="0.8" opacity="0.85"/><circle cx="188.7" cy="354.4" r="1.4" fill="#e7a3b0" stroke="#d67a8e" stroke-width="0.8" opacity="0.85"/><circle cx="191.0" cy="368.1" r="1.4" fill="#e7a3b0" stroke="#d67a8e" stroke-width="0.8" opacity="0.85"/><circle cx="204.3" cy="366.0" r="1.4" fill="#e7a3b0" stroke="#d67a8e" stroke-width="0.8" opacity="0.85"/><circle cx="212.3" cy="354.3" r="1.4" fill="#e7a3b0" stroke="#d67a8e" stroke-width="0.8" opacity="0.85"/><circle cx="220.5" cy="352.4" r="1.4" fill="#e7a3b0" stroke="#d67a8e" stroke-width="0.8" opacity="0.85"/><circle cx="224.1" cy="359.1" r="1.4" fill="#e7a3b0" stroke="#d67a8e" stroke-width="0.8" opacity="0.85"/><circle cx="228.8" cy="385.2" r="1.4" fill="#e7a3b0" stroke="#d67a8e" stroke-width="0.8" opacity="0.85"/><circle cx="229.4" cy="356.2" r="1.4" fill="#e7a3b0" stroke="#d67a8e" stroke-width="0.8" opacity="0.85"/><circle cx="242.5" cy="352.4" r="1.4" fill="#e7a3b0" stroke="#d67a8e" stroke-width="0.8" opacity="0.85"/><circle cx="245.7" cy="384.8" r="1.4" fill="#e7a3b0" stroke="#d67a8e" stroke-width="0.8" opacity="0.85"/><circle cx="259.4" cy="382.8" r="1.4" fill="#e7a3b0" stroke="#d67a8e" stroke-width="0.8" opacity="0.85"/><circle cx="260.1" cy="352.0" r="1.4" fill="#e7a3b0" stroke="#d67a8e" stroke-width="0.8" opacity="0.85"/><circle cx="266.1" cy="366.3" r="1.4" fill="#e7a3b0" stroke="#d67a8e" stroke-width="0.8" opacity="0.85"/><circle cx="274.9" cy="374.1" r="1.4" fill="#e7a3b0" stroke="#d67a8e" stroke-width="0.8" opacity="0.85"/><circle cx="278.4" cy="376.3" r="1.4" fill="#e7a3b0" stroke="#d67a8e" stroke-width="0.8" opacity="0.85"/><circle cx="283.4" cy="337.5" r="1.4" fill="#e7a3b0" stroke="#d67a8e" stroke-width="0.8" opacity="0.85"/><circle cx="296.3" cy="352.3" r="1.4" fill="#e7a3b0" stroke="#d67a8e" stroke-width="0.8" opacity="0.85"/><circle cx="298.5" cy="363.2" r="1.4" fill="#e7a3b0" stroke="#d67a8e" stroke-width="0.8" opacity="0.85"/><circle cx="311.0" cy="354.8" r="1.4" fill="#e7a3b0" stroke="#d67a8e" stroke-width="0.8" opacity="0.85"/><circle cx="319.4" cy="323.8" r="1.4" fill="#e7a3b0" stroke="#d67a8e" stroke-width="0.8" opacity="0.85"/><circle cx="327.9" cy="357.3" r="1.4" fill="#e7a3b0" stroke="#d67a8e" stroke-width="0.8" opacity="0.85"/><circle cx="335.5" cy="356.1" r="1.4" fill="#e7a3b0" stroke="#d67a8e" stroke-width="0.8" opacity="0.85"/><circle cx="344.9" cy="358.1" r="1.4" fill="#e7a3b0" stroke="#d67a8e" stroke-width="0.8" opacity="0.85"/><circle cx="347.6" cy="351.0" r="1.4" fill="#e7a3b0" stroke="#d67a8e" stroke-width="0.8" opacity="0.85"/><circle cx="352.7" cy="362.4" r="1.4" fill="#e7a3b0" stroke="#d67a8e" stroke-width="0.8" opacity="0.85"/><circle cx="366.0" cy="381.3" r="1.4" fill="#e7a3b0" stroke="#d67a8e" stroke-width="0.8" opacity="0.85"/><circle cx="370.5" cy="355.9" r="1.4" fill="#e7a3b0" stroke="#d67a8e" stroke-width="0.8" opacity="0.85"/><circle cx="382.2" cy="313.8" r="1.4" fill="#e7a3b0" stroke="#d67a8e" stroke-width="0.8" opacity="0.85"/><circle cx="390.7" cy="349.6" r="1.4" fill="#e7a3b0" stroke="#d67a8e" stroke-width="0.8" opacity="0.85"/><circle cx="402.3" cy="345.3" r="1.4" fill="#e7a3b0" stroke="#d67a8e" stroke-width="0.8" opacity="0.85"/><circle cx="410.5" cy="346.2" r="1.4" fill="#e7a3b0" stroke="#d67a8e" stroke-width="0.8" opacity="0.85"/><circle cx="419.6" cy="328.2" r="1.4" fill="#e7a3b0" stroke="#d67a8e" stroke-width="0.8" opacity="0.85"/><circle cx="421.7" cy="344.6" r="1.4" fill="#e7a3b0" stroke="#d67a8e" stroke-width="0.8" opacity="0.85"/><circle cx="428.3" cy="341.5" r="1.4" fill="#e7a3b0" stroke="#d67a8e" stroke-width="0.8" opacity="0.85"/><circle cx="435.5" cy="345.8" r="1.4" fill="#e7a3b0" stroke="#d67a8e" stroke-width="0.8" opacity="0.85"/><circle cx="438.9" cy="339.6" r="1.4" fill="#e7a3b0" stroke="#d67a8e" stroke-width="0.8" opacity="0.85"/><circle cx="451.9" cy="343.3" r="1.4" fill="#e7a3b0" stroke="#d67a8e" stroke-width="0.8" opacity="0.85"/><circle cx="464.6" cy="338.4" r="1.4" fill="#e7a3b0" stroke="#d67a8e" stroke-width="0.8" opacity="0.85"/><circle cx="481.0" cy="357.5" r="1.4" fill="#e7a3b0" stroke="#d67a8e" stroke-width="0.8" opacity="0.85"/><circle cx="488.5" cy="362.4" r="1.4" fill="#e7a3b0" stroke="#d67a8e" stroke-width="0.8" opacity="0.85"/><circle cx="492.5" cy="368.3" r="1.4" fill="#e7a3b0" stroke="#d67a8e" stroke-width="0.8" opacity="0.85"/><circle cx="496.9" cy="362.9" r="1.4" fill="#e7a3b0" stroke="#d67a8e" stroke-width="0.8" opacity="0.85"/><circle cx="508.6" cy="368.5" r="1.4" fill="#e7a3b0" stroke="#d67a8e" stroke-width="0.8" opacity="0.85"/><circle cx="517.9" cy="356.9" r="1.4" fill="#e7a3b0" stroke="#d67a8e" stroke-width="0.8" opacity="0.85"/><circle cx="526.5" cy="358.2" r="1.4" fill="#e7a3b0" stroke="#d67a8e" stroke-width="0.8" opacity="0.85"/><circle cx="530.5" cy="335.4" r="1.4" fill="#e7a3b0" stroke="#d67a8e" stroke-width="0.8" opacity="0.85"/><circle cx="534.4" cy="340.0" r="1.4" fill="#e7a3b0" stroke="#d67a8e" stroke-width="0.8" opacity="0.85"/><circle cx="542.0" cy="341.8" r="1.4" fill="#e7a3b0" stroke="#d67a8e" stroke-width="0.8" opacity="0.85"/><circle cx="550.3" cy="346.0" r="1.4" fill="#e7a3b0" stroke="#d67a8e" stroke-width="0.8" opacity="0.85"/><circle cx="558.8" cy="326.1" r="1.4" fill="#e7a3b0" stroke="#d67a8e" stroke-width="0.8" opacity="0.85"/><circle cx="565.5" cy="358.1" r="1.4" fill="#e7a3b0" stroke="#d67a8e" stroke-width="0.8" opacity="0.85"/><circle cx="571.5" cy="352.9" r="1.4" fill="#e7a3b0" stroke="#d67a8e" stroke-width="0.8" opacity="0.85"/><circle cx="579.6" cy="323.4" r="1.4" fill="#e7a3b0" stroke="#d67a8e" stroke-width="0.8" opacity="0.85"/><circle cx="587.5" cy="332.0" r="1.4" fill="#e7a3b0" stroke="#d67a8e" stroke-width="0.8" opacity="0.85"/><circle cx="595.5" cy="355.7" r="1.4" fill="#e7a3b0" stroke="#d67a8e" stroke-width="0.8" opacity="0.85"/><circle cx="599.5" cy="351.2" r="1.4" fill="#e7a3b0" stroke="#d67a8e" stroke-width="0.8" opacity="0.85"/><circle cx="603.5" cy="358.4" r="1.4" fill="#e7a3b0" stroke="#d67a8e" stroke-width="0.8" opacity="0.85"/><circle cx="611.8" cy="347.6" r="1.4" fill="#e7a3b0" stroke="#d67a8e" stroke-width="0.8" opacity="0.85"/><circle cx="613.2" cy="329.7" r="1.4" fill="#e7a3b0" stroke="#d67a8e" stroke-width="0.8" opacity="0.85"/><circle cx="620.1" cy="323.3" r="1.4" fill="#e7a3b0" stroke="#d67a8e" stroke-width="0.8" opacity="0.85"/><circle cx="625.5" cy="355.8" r="1.4" fill="#e7a3b0" stroke="#d67a8e" stroke-width="0.8" opacity="0.85"/><circle cx="633.2" cy="343.2" r="1.4" fill="#e7a3b0" stroke="#d67a8e" stroke-width="0.8" opacity="0.85"/><circle cx="637.6" cy="370.7" r="1.4" fill="#e7a3b0" stroke="#d67a8e" stroke-width="0.8" opacity="0.85"/><circle cx="649.7" cy="339.4" r="1.4" fill="#e7a3b0" stroke="#d67a8e" stroke-width="0.8" opacity="0.85"/><circle cx="658.1" cy="334.4" r="1.4" fill="#e7a3b0" stroke="#d67a8e" stroke-width="0.8" opacity="0.85"/><circle cx="677.8" cy="368.3" r="1.4" fill="#e7a3b0" stroke="#d67a8e" stroke-width="0.8" opacity="0.85"/><circle cx="686.7" cy="322.6" r="1.4" fill="#e7a3b0" stroke="#d67a8e" stroke-width="0.8" opacity="0.85"/><circle cx="689.8" cy="348.4" r="1.4" fill="#e7a3b0" stroke="#d67a8e" stroke-width="0.8" opacity="0.85"/><circle cx="695.4" cy="352.7" r="1.4" fill="#e7a3b0" stroke="#d67a8e" stroke-width="0.8" opacity="0.85"/><circle cx="702.5" cy="344.3" r="1.4" fill="#e7a3b0" stroke="#d67a8e" stroke-width="0.8" opacity="0.85"/><circle cx="706.9" cy="352.1" r="1.4" fill="#e7a3b0" stroke="#d67a8e" stroke-width="0.8" opacity="0.85"/><circle cx="712.4" cy="364.0" r="1.4" fill="#e7a3b0" stroke="#d67a8e" stroke-width="0.8" opacity="0.85"/><circle cx="720.0" cy="365.1" r="1.4" fill="#e7a3b0" stroke="#d67a8e" stroke-width="0.8" opacity="0.85"/><circle cx="723.9" cy="361.6" r="1.4" fill="#e7a3b0" stroke="#d67a8e" stroke-width="0.8" opacity="0.85"/><circle cx="732.6" cy="328.4" r="1.4" fill="#e7a3b0" stroke="#d67a8e" stroke-width="0.8" opacity="0.85"/><circle cx="733.5" cy="366.6" r="1.4" fill="#e7a3b0" stroke="#d67a8e" stroke-width="0.8" opacity="0.85"/><circle cx="741.4" cy="350.0" r="1.4" fill="#e7a3b0" stroke="#d67a8e" stroke-width="0.8" opacity="0.85"/><circle cx="744.0" cy="374.2" r="1.4" fill="#e7a3b0" stroke="#d67a8e" stroke-width="0.8" opacity="0.85"/><circle cx="748.7" cy="356.1" r="1.4" fill="#e7a3b0" stroke="#d67a8e" stroke-width="0.8" opacity="0.85"/><circle cx="750.1" cy="351.5" r="1.4" fill="#e7a3b0" stroke="#d67a8e" stroke-width="0.8" opacity="0.85"/><circle cx="756.8" cy="385.8" r="1.4" fill="#e7a3b0" stroke="#d67a8e" stroke-width="0.8" opacity="0.85"/><circle cx="760.6" cy="383.0" r="1.4" fill="#e7a3b0" stroke="#d67a8e" stroke-width="0.8" opacity="0.85"/><circle cx="95.9" cy="370.7" r="1.4" fill="#f0b0b0" stroke="#e48e92" stroke-width="0.8" opacity="0.75"/><circle cx="102.4" cy="384.1" r="1.4" fill="#f0b0b0" stroke="#e48e92" stroke-width="0.8" opacity="0.75"/><circle cx="117.5" cy="386.2" r="1.4" fill="#f0b0b0" stroke="#e48e92" stroke-width="0.8" opacity="0.75"/><circle cx="122.5" cy="391.4" r="1.4" fill="#f0b0b0" stroke="#e48e92" stroke-width="0.8" opacity="0.75"/><circle cx="123.2" cy="402.9" r="1.4" fill="#f0b0b0" stroke="#e48e92" stroke-width="0.8" opacity="0.75"/><circle cx="130.1" cy="388.5" r="1.4" fill="#f0b0b0" stroke="#e48e92" stroke-width="0.8" opacity="0.75"/><circle cx="151.1" cy="375.1" r="1.4" fill="#f0b0b0" stroke="#e48e92" stroke-width="0.8" opacity="0.75"/><circle cx="159.9" cy="383.2" r="1.4" fill="#f0b0b0" stroke="#e48e92" stroke-width="0.8" opacity="0.75"/><circle cx="162.9" cy="386.3" r="1.4" fill="#f0b0b0" stroke="#e48e92" stroke-width="0.8" opacity="0.75"/><circle cx="164.2" cy="360.9" r="1.4" fill="#f0b0b0" stroke="#e48e92" stroke-width="0.8" opacity="0.75"/><circle cx="168.5" cy="401.0" r="1.4" fill="#f0b0b0" stroke="#e48e92" stroke-width="0.8" opacity="0.75"/><circle cx="172.2" cy="366.1" r="1.4" fill="#f0b0b0" stroke="#e48e92" stroke-width="0.8" opacity="0.75"/><circle cx="176.1" cy="379.5" r="1.4" fill="#f0b0b0" stroke="#e48e92" stroke-width="0.8" opacity="0.75"/><circle cx="179.0" cy="382.7" r="1.4" fill="#f0b0b0" stroke="#e48e92" stroke-width="0.8" opacity="0.75"/><circle cx="188.1" cy="387.1" r="1.4" fill="#f0b0b0" stroke="#e48e92" stroke-width="0.8" opacity="0.75"/><circle cx="189.3" cy="374.9" r="1.4" fill="#f0b0b0" stroke="#e48e92" stroke-width="0.8" opacity="0.75"/><circle cx="191.3" cy="404.8" r="1.4" fill="#f0b0b0" stroke="#e48e92" stroke-width="0.8" opacity="0.75"/><circle cx="212.2" cy="402.2" r="1.4" fill="#f0b0b0" stroke="#e48e92" stroke-width="0.8" opacity="0.75"/><circle cx="221.4" cy="374.6" r="1.4" fill="#f0b0b0" stroke="#e48e92" stroke-width="0.8" opacity="0.75"/><circle cx="224.1" cy="383.2" r="1.4" fill="#f0b0b0" stroke="#e48e92" stroke-width="0.8" opacity="0.75"/><circle cx="228.7" cy="391.5" r="1.4" fill="#f0b0b0" stroke="#e48e92" stroke-width="0.8" opacity="0.75"/><circle cx="230.1" cy="379.0" r="1.4" fill="#f0b0b0" stroke="#e48e92" stroke-width="0.8" opacity="0.75"/><circle cx="241.6" cy="379.3" r="1.4" fill="#f0b0b0" stroke="#e48e92" stroke-width="0.8" opacity="0.75"/><circle cx="246.5" cy="390.3" r="1.4" fill="#f0b0b0" stroke="#e48e92" stroke-width="0.8" opacity="0.75"/><circle cx="258.5" cy="370.5" r="1.4" fill="#f0b0b0" stroke="#e48e92" stroke-width="0.8" opacity="0.75"/><circle cx="260.1" cy="375.8" r="1.4" fill="#f0b0b0" stroke="#e48e92" stroke-width="0.8" opacity="0.75"/><circle cx="265.7" cy="368.2" r="1.4" fill="#f0b0b0" stroke="#e48e92" stroke-width="0.8" opacity="0.75"/><circle cx="274.7" cy="361.9" r="1.4" fill="#f0b0b0" stroke="#e48e92" stroke-width="0.8" opacity="0.75"/><circle cx="278.2" cy="362.3" r="1.4" fill="#f0b0b0" stroke="#e48e92" stroke-width="0.8" opacity="0.75"/><circle cx="282.7" cy="389.2" r="1.4" fill="#f0b0b0" stroke="#e48e92" stroke-width="0.8" opacity="0.75"/><circle cx="296.5" cy="381.7" r="1.4" fill="#f0b0b0" stroke="#e48e92" stroke-width="0.8" opacity="0.75"/><circle cx="298.9" cy="365.5" r="1.4" fill="#f0b0b0" stroke="#e48e92" stroke-width="0.8" opacity="0.75"/><circle cx="307.8" cy="381.9" r="1.4" fill="#f0b0b0" stroke="#e48e92" stroke-width="0.8" opacity="0.75"/><circle cx="311.1" cy="382.5" r="1.4" fill="#f0b0b0" stroke="#e48e92" stroke-width="0.8" opacity="0.75"/><circle cx="336.1" cy="373.9" r="1.4" fill="#f0b0b0" stroke="#e48e92" stroke-width="0.8" opacity="0.75"/><circle cx="344.6" cy="362.9" r="1.4" fill="#f0b0b0" stroke="#e48e92" stroke-width="0.8" opacity="0.75"/><circle cx="348.3" cy="366.7" r="1.4" fill="#f0b0b0" stroke="#e48e92" stroke-width="0.8" opacity="0.75"/><circle cx="366.4" cy="382.8" r="1.4" fill="#f0b0b0" stroke="#e48e92" stroke-width="0.8" opacity="0.75"/><circle cx="370.2" cy="371.7" r="1.4" fill="#f0b0b0" stroke="#e48e92" stroke-width="0.8" opacity="0.75"/><circle cx="381.7" cy="367.3" r="1.4" fill="#f0b0b0" stroke="#e48e92" stroke-width="0.8" opacity="0.75"/><circle cx="388.5" cy="355.0" r="1.4" fill="#f0b0b0" stroke="#e48e92" stroke-width="0.8" opacity="0.75"/><circle cx="390.6" cy="378.0" r="1.4" fill="#f0b0b0" stroke="#e48e92" stroke-width="0.8" opacity="0.75"/><circle cx="401.5" cy="375.1" r="1.4" fill="#f0b0b0" stroke="#e48e92" stroke-width="0.8" opacity="0.75"/><circle cx="406.3" cy="378.8" r="1.4" fill="#f0b0b0" stroke="#e48e92" stroke-width="0.8" opacity="0.75"/><circle cx="411.5" cy="354.0" r="1.4" fill="#f0b0b0" stroke="#e48e92" stroke-width="0.8" opacity="0.75"/><circle cx="419.2" cy="374.1" r="1.4" fill="#f0b0b0" stroke="#e48e92" stroke-width="0.8" opacity="0.75"/><circle cx="434.8" cy="366.7" r="1.4" fill="#f0b0b0" stroke="#e48e92" stroke-width="0.8" opacity="0.75"/><circle cx="439.2" cy="367.2" r="1.4" fill="#f0b0b0" stroke="#e48e92" stroke-width="0.8" opacity="0.75"/><circle cx="444.1" cy="362.8" r="1.4" fill="#f0b0b0" stroke="#e48e92" stroke-width="0.8" opacity="0.75"/><circle cx="451.5" cy="358.7" r="1.4" fill="#f0b0b0" stroke="#e48e92" stroke-width="0.8" opacity="0.75"/><circle cx="456.0" cy="361.3" r="1.4" fill="#f0b0b0" stroke="#e48e92" stroke-width="0.8" opacity="0.75"/><circle cx="464.5" cy="382.7" r="1.4" fill="#f0b0b0" stroke="#e48e92" stroke-width="0.8" opacity="0.75"/><circle cx="472.8" cy="375.3" r="1.4" fill="#f0b0b0" stroke="#e48e92" stroke-width="0.8" opacity="0.75"/><circle cx="480.8" cy="367.8" r="1.4" fill="#f0b0b0" stroke="#e48e92" stroke-width="0.8" opacity="0.75"/><circle cx="488.7" cy="349.0" r="1.4" fill="#f0b0b0" stroke="#e48e92" stroke-width="0.8" opacity="0.75"/><circle cx="493.2" cy="376.0" r="1.4" fill="#f0b0b0" stroke="#e48e92" stroke-width="0.8" opacity="0.75"/><circle cx="496.8" cy="360.8" r="1.4" fill="#f0b0b0" stroke="#e48e92" stroke-width="0.8" opacity="0.75"/><circle cx="506.0" cy="385.6" r="1.4" fill="#f0b0b0" stroke="#e48e92" stroke-width="0.8" opacity="0.75"/><circle cx="509.2" cy="379.5" r="1.4" fill="#f0b0b0" stroke="#e48e92" stroke-width="0.8" opacity="0.75"/><circle cx="526.5" cy="350.5" r="1.4" fill="#f0b0b0" stroke="#e48e92" stroke-width="0.8" opacity="0.75"/><circle cx="529.9" cy="384.1" r="1.4" fill="#f0b0b0" stroke="#e48e92" stroke-width="0.8" opacity="0.75"/><circle cx="534.5" cy="369.3" r="1.4" fill="#f0b0b0" stroke="#e48e92" stroke-width="0.8" opacity="0.75"/><circle cx="549.8" cy="397.0" r="1.4" fill="#f0b0b0" stroke="#e48e92" stroke-width="0.8" opacity="0.75"/><circle cx="565.9" cy="372.7" r="1.4" fill="#f0b0b0" stroke="#e48e92" stroke-width="0.8" opacity="0.75"/><circle cx="580.6" cy="388.8" r="1.4" fill="#f0b0b0" stroke="#e48e92" stroke-width="0.8" opacity="0.75"/><circle cx="583.0" cy="387.3" r="1.4" fill="#f0b0b0" stroke="#e48e92" stroke-width="0.8" opacity="0.75"/><circle cx="588.2" cy="383.9" r="1.4" fill="#f0b0b0" stroke="#e48e92" stroke-width="0.8" opacity="0.75"/><circle cx="595.5" cy="365.1" r="1.4" fill="#f0b0b0" stroke="#e48e92" stroke-width="0.8" opacity="0.75"/><circle cx="600.1" cy="389.2" r="1.4" fill="#f0b0b0" stroke="#e48e92" stroke-width="0.8" opacity="0.75"/><circle cx="604.2" cy="375.7" r="1.4" fill="#f0b0b0" stroke="#e48e92" stroke-width="0.8" opacity="0.75"/><circle cx="612.9" cy="373.9" r="1.4" fill="#f0b0b0" stroke="#e48e92" stroke-width="0.8" opacity="0.75"/><circle cx="620.4" cy="383.1" r="1.4" fill="#f0b0b0" stroke="#e48e92" stroke-width="0.8" opacity="0.75"/><circle cx="625.3" cy="368.8" r="1.4" fill="#f0b0b0" stroke="#e48e92" stroke-width="0.8" opacity="0.75"/><circle cx="632.6" cy="375.3" r="1.4" fill="#f0b0b0" stroke="#e48e92" stroke-width="0.8" opacity="0.75"/><circle cx="638.6" cy="362.4" r="1.4" fill="#f0b0b0" stroke="#e48e92" stroke-width="0.8" opacity="0.75"/><circle cx="640.9" cy="371.1" r="1.4" fill="#f0b0b0" stroke="#e48e92" stroke-width="0.8" opacity="0.75"/><circle cx="650.2" cy="383.2" r="1.4" fill="#f0b0b0" stroke="#e48e92" stroke-width="0.8" opacity="0.75"/><circle cx="652.6" cy="367.9" r="1.4" fill="#f0b0b0" stroke="#e48e92" stroke-width="0.8" opacity="0.75"/><circle cx="658.5" cy="372.5" r="1.4" fill="#f0b0b0" stroke="#e48e92" stroke-width="0.8" opacity="0.75"/><circle cx="669.6" cy="389.8" r="1.4" fill="#f0b0b0" stroke="#e48e92" stroke-width="0.8" opacity="0.75"/><circle cx="674.1" cy="373.0" r="1.4" fill="#f0b0b0" stroke="#e48e92" stroke-width="0.8" opacity="0.75"/><circle cx="677.7" cy="391.8" r="1.4" fill="#f0b0b0" stroke="#e48e92" stroke-width="0.8" opacity="0.75"/><circle cx="689.9" cy="359.5" r="1.4" fill="#f0b0b0" stroke="#e48e92" stroke-width="0.8" opacity="0.75"/><circle cx="695.3" cy="358.8" r="1.4" fill="#f0b0b0" stroke="#e48e92" stroke-width="0.8" opacity="0.75"/><circle cx="703.0" cy="384.9" r="1.4" fill="#f0b0b0" stroke="#e48e92" stroke-width="0.8" opacity="0.75"/><circle cx="707.2" cy="377.5" r="1.4" fill="#f0b0b0" stroke="#e48e92" stroke-width="0.8" opacity="0.75"/><circle cx="711.8" cy="377.1" r="1.4" fill="#f0b0b0" stroke="#e48e92" stroke-width="0.8" opacity="0.75"/><circle cx="720.0" cy="353.5" r="1.4" fill="#f0b0b0" stroke="#e48e92" stroke-width="0.8" opacity="0.75"/><circle cx="724.1" cy="364.5" r="1.4" fill="#f0b0b0" stroke="#e48e92" stroke-width="0.8" opacity="0.75"/><circle cx="732.1" cy="378.7" r="1.4" fill="#f0b0b0" stroke="#e48e92" stroke-width="0.8" opacity="0.75"/><circle cx="734.2" cy="374.5" r="1.4" fill="#f0b0b0" stroke="#e48e92" stroke-width="0.8" opacity="0.75"/><circle cx="741.9" cy="367.9" r="1.4" fill="#f0b0b0" stroke="#e48e92" stroke-width="0.8" opacity="0.75"/><circle cx="743.5" cy="382.0" r="1.4" fill="#f0b0b0" stroke="#e48e92" stroke-width="0.8" opacity="0.75"/><circle cx="748.4" cy="377.1" r="1.4" fill="#f0b0b0" stroke="#e48e92" stroke-width="0.8" opacity="0.75"/><circle cx="756.9" cy="393.2" r="1.4" fill="#f0b0b0" stroke="#e48e92" stroke-width="0.8" opacity="0.75"/><circle cx="760.5" cy="379.5" r="1.4" fill="#f0b0b0" stroke="#e48e92" stroke-width="0.8" opacity="0.75"/><circle cx="96.5" cy="379.8" r="1.4" fill="#8fcfc8" stroke="#62b4ad" stroke-width="0.8" opacity="0.85"/><circle cx="102.6" cy="361.9" r="1.4" fill="#8fcfc8" stroke="#62b4ad" stroke-width="0.8" opacity="0.85"/><circle cx="117.5" cy="368.7" r="1.4" fill="#8fcfc8" stroke="#62b4ad" stroke-width="0.8" opacity="0.85"/><circle cx="122.3" cy="344.5" r="1.4" fill="#8fcfc8" stroke="#62b4ad" stroke-width="0.8" opacity="0.85"/><circle cx="122.8" cy="356.1" r="1.4" fill="#8fcfc8" stroke="#62b4ad" stroke-width="0.8" opacity="0.85"/><circle cx="130.4" cy="365.8" r="1.4" fill="#8fcfc8" stroke="#62b4ad" stroke-width="0.8" opacity="0.85"/><circle cx="134.1" cy="366.6" r="1.4" fill="#8fcfc8" stroke="#62b4ad" stroke-width="0.8" opacity="0.85"/><circle cx="150.9" cy="358.7" r="1.4" fill="#8fcfc8" stroke="#62b4ad" stroke-width="0.8" opacity="0.85"/><circle cx="159.6" cy="354.3" r="1.4" fill="#8fcfc8" stroke="#62b4ad" stroke-width="0.8" opacity="0.85"/><circle cx="162.7" cy="347.5" r="1.4" fill="#8fcfc8" stroke="#62b4ad" stroke-width="0.8" opacity="0.85"/><circle cx="163.7" cy="377.0" r="1.4" fill="#8fcfc8" stroke="#62b4ad" stroke-width="0.8" opacity="0.85"/><circle cx="168.2" cy="335.2" r="1.4" fill="#8fcfc8" stroke="#62b4ad" stroke-width="0.8" opacity="0.85"/><circle cx="171.7" cy="364.2" r="1.4" fill="#8fcfc8" stroke="#62b4ad" stroke-width="0.8" opacity="0.85"/><circle cx="175.9" cy="358.2" r="1.4" fill="#8fcfc8" stroke="#62b4ad" stroke-width="0.8" opacity="0.85"/><circle cx="178.5" cy="345.3" r="1.4" fill="#8fcfc8" stroke="#62b4ad" stroke-width="0.8" opacity="0.85"/><circle cx="184.1" cy="355.1" r="1.4" fill="#8fcfc8" stroke="#62b4ad" stroke-width="0.8" opacity="0.85"/><circle cx="188.0" cy="351.0" r="1.4" fill="#8fcfc8" stroke="#62b4ad" stroke-width="0.8" opacity="0.85"/><circle cx="188.4" cy="344.4" r="1.4" fill="#8fcfc8" stroke="#62b4ad" stroke-width="0.8" opacity="0.85"/><circle cx="191.1" cy="346.5" r="1.4" fill="#8fcfc8" stroke="#62b4ad" stroke-width="0.8" opacity="0.85"/><circle cx="203.7" cy="356.6" r="1.4" fill="#8fcfc8" stroke="#62b4ad" stroke-width="0.8" opacity="0.85"/><circle cx="220.5" cy="349.4" r="1.4" fill="#8fcfc8" stroke="#62b4ad" stroke-width="0.8" opacity="0.85"/><circle cx="229.2" cy="371.3" r="1.4" fill="#8fcfc8" stroke="#62b4ad" stroke-width="0.8" opacity="0.85"/><circle cx="242.4" cy="340.1" r="1.4" fill="#8fcfc8" stroke="#62b4ad" stroke-width="0.8" opacity="0.85"/><circle cx="246.3" cy="354.7" r="1.4" fill="#8fcfc8" stroke="#62b4ad" stroke-width="0.8" opacity="0.85"/><circle cx="260.0" cy="369.7" r="1.4" fill="#8fcfc8" stroke="#62b4ad" stroke-width="0.8" opacity="0.85"/><circle cx="266.0" cy="363.9" r="1.4" fill="#8fcfc8" stroke="#62b4ad" stroke-width="0.8" opacity="0.85"/><circle cx="275.5" cy="367.9" r="1.4" fill="#8fcfc8" stroke="#62b4ad" stroke-width="0.8" opacity="0.85"/><circle cx="277.5" cy="356.0" r="1.4" fill="#8fcfc8" stroke="#62b4ad" stroke-width="0.8" opacity="0.85"/><circle cx="283.1" cy="365.1" r="1.4" fill="#8fcfc8" stroke="#62b4ad" stroke-width="0.8" opacity="0.85"/><circle cx="295.6" cy="372.7" r="1.4" fill="#8fcfc8" stroke="#62b4ad" stroke-width="0.8" opacity="0.85"/><circle cx="298.9" cy="375.2" r="1.4" fill="#8fcfc8" stroke="#62b4ad" stroke-width="0.8" opacity="0.85"/><circle cx="308.5" cy="370.3" r="1.4" fill="#8fcfc8" stroke="#62b4ad" stroke-width="0.8" opacity="0.85"/><circle cx="311.0" cy="372.6" r="1.4" fill="#8fcfc8" stroke="#62b4ad" stroke-width="0.8" opacity="0.85"/><circle cx="320.1" cy="356.0" r="1.4" fill="#8fcfc8" stroke="#62b4ad" stroke-width="0.8" opacity="0.85"/><circle cx="328.4" cy="351.3" r="1.4" fill="#8fcfc8" stroke="#62b4ad" stroke-width="0.8" opacity="0.85"/><circle cx="335.5" cy="364.0" r="1.4" fill="#8fcfc8" stroke="#62b4ad" stroke-width="0.8" opacity="0.85"/><circle cx="344.7" cy="377.8" r="1.4" fill="#8fcfc8" stroke="#62b4ad" stroke-width="0.8" opacity="0.85"/><circle cx="348.2" cy="370.6" r="1.4" fill="#8fcfc8" stroke="#62b4ad" stroke-width="0.8" opacity="0.85"/><circle cx="352.8" cy="360.9" r="1.4" fill="#8fcfc8" stroke="#62b4ad" stroke-width="0.8" opacity="0.85"/><circle cx="370.4" cy="355.4" r="1.4" fill="#8fcfc8" stroke="#62b4ad" stroke-width="0.8" opacity="0.85"/><circle cx="381.9" cy="354.9" r="1.4" fill="#8fcfc8" stroke="#62b4ad" stroke-width="0.8" opacity="0.85"/><circle cx="389.3" cy="355.1" r="1.4" fill="#8fcfc8" stroke="#62b4ad" stroke-width="0.8" opacity="0.85"/><circle cx="390.5" cy="370.9" r="1.4" fill="#8fcfc8" stroke="#62b4ad" stroke-width="0.8" opacity="0.85"/><circle cx="405.9" cy="359.8" r="1.4" fill="#8fcfc8" stroke="#62b4ad" stroke-width="0.8" opacity="0.85"/><circle cx="410.6" cy="352.5" r="1.4" fill="#8fcfc8" stroke="#62b4ad" stroke-width="0.8" opacity="0.85"/><circle cx="419.3" cy="370.9" r="1.4" fill="#8fcfc8" stroke="#62b4ad" stroke-width="0.8" opacity="0.85"/><circle cx="427.7" cy="347.1" r="1.4" fill="#8fcfc8" stroke="#62b4ad" stroke-width="0.8" opacity="0.85"/><circle cx="438.7" cy="372.9" r="1.4" fill="#8fcfc8" stroke="#62b4ad" stroke-width="0.8" opacity="0.85"/><circle cx="444.5" cy="371.0" r="1.4" fill="#8fcfc8" stroke="#62b4ad" stroke-width="0.8" opacity="0.85"/><circle cx="451.5" cy="361.5" r="1.4" fill="#8fcfc8" stroke="#62b4ad" stroke-width="0.8" opacity="0.85"/><circle cx="455.5" cy="353.8" r="1.4" fill="#8fcfc8" stroke="#62b4ad" stroke-width="0.8" opacity="0.85"/><circle cx="464.1" cy="350.8" r="1.4" fill="#8fcfc8" stroke="#62b4ad" stroke-width="0.8" opacity="0.85"/><circle cx="473.6" cy="366.9" r="1.4" fill="#8fcfc8" stroke="#62b4ad" stroke-width="0.8" opacity="0.85"/><circle cx="475.7" cy="329.4" r="1.4" fill="#8fcfc8" stroke="#62b4ad" stroke-width="0.8" opacity="0.85"/><circle cx="481.2" cy="358.8" r="1.4" fill="#8fcfc8" stroke="#62b4ad" stroke-width="0.8" opacity="0.85"/><circle cx="488.8" cy="368.0" r="1.4" fill="#8fcfc8" stroke="#62b4ad" stroke-width="0.8" opacity="0.85"/><circle cx="492.5" cy="344.2" r="1.4" fill="#8fcfc8" stroke="#62b4ad" stroke-width="0.8" opacity="0.85"/><circle cx="497.0" cy="329.7" r="1.4" fill="#8fcfc8" stroke="#62b4ad" stroke-width="0.8" opacity="0.85"/><circle cx="506.0" cy="372.3" r="1.4" fill="#8fcfc8" stroke="#62b4ad" stroke-width="0.8" opacity="0.85"/><circle cx="509.3" cy="360.2" r="1.4" fill="#8fcfc8" stroke="#62b4ad" stroke-width="0.8" opacity="0.85"/><circle cx="518.1" cy="377.9" r="1.4" fill="#8fcfc8" stroke="#62b4ad" stroke-width="0.8" opacity="0.85"/><circle cx="526.6" cy="354.9" r="1.4" fill="#8fcfc8" stroke="#62b4ad" stroke-width="0.8" opacity="0.85"/><circle cx="534.6" cy="342.2" r="1.4" fill="#8fcfc8" stroke="#62b4ad" stroke-width="0.8" opacity="0.85"/><circle cx="541.5" cy="346.7" r="1.4" fill="#8fcfc8" stroke="#62b4ad" stroke-width="0.8" opacity="0.85"/><circle cx="549.6" cy="374.5" r="1.4" fill="#8fcfc8" stroke="#62b4ad" stroke-width="0.8" opacity="0.85"/><circle cx="558.5" cy="359.0" r="1.4" fill="#8fcfc8" stroke="#62b4ad" stroke-width="0.8" opacity="0.85"/><circle cx="565.5" cy="364.1" r="1.4" fill="#8fcfc8" stroke="#62b4ad" stroke-width="0.8" opacity="0.85"/><circle cx="571.5" cy="371.2" r="1.4" fill="#8fcfc8" stroke="#62b4ad" stroke-width="0.8" opacity="0.85"/><circle cx="580.2" cy="357.4" r="1.4" fill="#8fcfc8" stroke="#62b4ad" stroke-width="0.8" opacity="0.85"/><circle cx="583.4" cy="381.4" r="1.4" fill="#8fcfc8" stroke="#62b4ad" stroke-width="0.8" opacity="0.85"/><circle cx="588.5" cy="365.4" r="1.4" fill="#8fcfc8" stroke="#62b4ad" stroke-width="0.8" opacity="0.85"/><circle cx="595.9" cy="337.1" r="1.4" fill="#8fcfc8" stroke="#62b4ad" stroke-width="0.8" opacity="0.85"/><circle cx="600.2" cy="392.7" r="1.4" fill="#8fcfc8" stroke="#62b4ad" stroke-width="0.8" opacity="0.85"/><circle cx="604.3" cy="407.7" r="1.4" fill="#8fcfc8" stroke="#62b4ad" stroke-width="0.8" opacity="0.85"/><circle cx="612.4" cy="373.0" r="1.4" fill="#8fcfc8" stroke="#62b4ad" stroke-width="0.8" opacity="0.85"/><circle cx="612.9" cy="384.4" r="1.4" fill="#8fcfc8" stroke="#62b4ad" stroke-width="0.8" opacity="0.85"/><circle cx="620.3" cy="354.5" r="1.4" fill="#8fcfc8" stroke="#62b4ad" stroke-width="0.8" opacity="0.85"/><circle cx="625.3" cy="353.9" r="1.4" fill="#8fcfc8" stroke="#62b4ad" stroke-width="0.8" opacity="0.85"/><circle cx="633.0" cy="356.9" r="1.4" fill="#8fcfc8" stroke="#62b4ad" stroke-width="0.8" opacity="0.85"/><circle cx="641.3" cy="377.2" r="1.4" fill="#8fcfc8" stroke="#62b4ad" stroke-width="0.8" opacity="0.85"/><circle cx="650.0" cy="371.9" r="1.4" fill="#8fcfc8" stroke="#62b4ad" stroke-width="0.8" opacity="0.85"/><circle cx="658.6" cy="383.1" r="1.4" fill="#8fcfc8" stroke="#62b4ad" stroke-width="0.8" opacity="0.85"/><circle cx="670.2" cy="369.6" r="1.4" fill="#8fcfc8" stroke="#62b4ad" stroke-width="0.8" opacity="0.85"/><circle cx="674.2" cy="380.4" r="1.4" fill="#8fcfc8" stroke="#62b4ad" stroke-width="0.8" opacity="0.85"/><circle cx="687.1" cy="392.5" r="1.4" fill="#8fcfc8" stroke="#62b4ad" stroke-width="0.8" opacity="0.85"/><circle cx="690.0" cy="369.7" r="1.4" fill="#8fcfc8" stroke="#62b4ad" stroke-width="0.8" opacity="0.85"/><circle cx="694.8" cy="387.0" r="1.4" fill="#8fcfc8" stroke="#62b4ad" stroke-width="0.8" opacity="0.85"/><circle cx="703.3" cy="362.1" r="1.4" fill="#8fcfc8" stroke="#62b4ad" stroke-width="0.8" opacity="0.85"/><circle cx="712.4" cy="392.2" r="1.4" fill="#8fcfc8" stroke="#62b4ad" stroke-width="0.8" opacity="0.85"/><circle cx="719.5" cy="410.7" r="1.4" fill="#8fcfc8" stroke="#62b4ad" stroke-width="0.8" opacity="0.85"/><circle cx="731.9" cy="389.6" r="1.4" fill="#8fcfc8" stroke="#62b4ad" stroke-width="0.8" opacity="0.85"/><circle cx="734.0" cy="384.3" r="1.4" fill="#8fcfc8" stroke="#62b4ad" stroke-width="0.8" opacity="0.85"/><circle cx="740.3" cy="387.9" r="1.4" fill="#8fcfc8" stroke="#62b4ad" stroke-width="0.8" opacity="0.85"/><circle cx="742.4" cy="371.0" r="1.4" fill="#8fcfc8" stroke="#62b4ad" stroke-width="0.8" opacity="0.85"/><circle cx="744.1" cy="373.5" r="1.4" fill="#8fcfc8" stroke="#62b4ad" stroke-width="0.8" opacity="0.85"/><circle cx="750.6" cy="391.4" r="1.4" fill="#8fcfc8" stroke="#62b4ad" stroke-width="0.8" opacity="0.85"/><circle cx="756.5" cy="395.9" r="1.4" fill="#8fcfc8" stroke="#62b4ad" stroke-width="0.8" opacity="0.85"/><circle cx="759.5" cy="391.3" r="1.4" fill="#8fcfc8" stroke="#62b4ad" stroke-width="0.8" opacity="0.85"/><circle cx="95.8" cy="427.2" r="1.4" fill="#96d4bc" stroke="#62b896" stroke-width="0.8" opacity="0.75"/><circle cx="101.9" cy="435.8" r="1.4" fill="#96d4bc" stroke="#62b896" stroke-width="0.8" opacity="0.75"/><circle cx="118.2" cy="442.2" r="1.4" fill="#96d4bc" stroke="#62b896" stroke-width="0.8" opacity="0.75"/><circle cx="121.9" cy="419.2" r="1.4" fill="#96d4bc" stroke="#62b896" stroke-width="0.8" opacity="0.75"/><circle cx="130.3" cy="428.5" r="1.4" fill="#96d4bc" stroke="#62b896" stroke-width="0.8" opacity="0.75"/><circle cx="134.4" cy="421.0" r="1.4" fill="#96d4bc" stroke="#62b896" stroke-width="0.8" opacity="0.75"/><circle cx="151.5" cy="414.2" r="1.4" fill="#96d4bc" stroke="#62b896" stroke-width="0.8" opacity="0.75"/><circle cx="159.9" cy="419.5" r="1.4" fill="#96d4bc" stroke="#62b896" stroke-width="0.8" opacity="0.75"/><circle cx="163.3" cy="416.0" r="1.4" fill="#96d4bc" stroke="#62b896" stroke-width="0.8" opacity="0.75"/><circle cx="163.6" cy="422.5" r="1.4" fill="#96d4bc" stroke="#62b896" stroke-width="0.8" opacity="0.75"/><circle cx="168.3" cy="429.9" r="1.4" fill="#96d4bc" stroke="#62b896" stroke-width="0.8" opacity="0.75"/><circle cx="172.0" cy="428.7" r="1.4" fill="#96d4bc" stroke="#62b896" stroke-width="0.8" opacity="0.75"/><circle cx="178.8" cy="418.8" r="1.4" fill="#96d4bc" stroke="#62b896" stroke-width="0.8" opacity="0.75"/><circle cx="183.7" cy="428.8" r="1.4" fill="#96d4bc" stroke="#62b896" stroke-width="0.8" opacity="0.75"/><circle cx="187.5" cy="424.7" r="1.4" fill="#96d4bc" stroke="#62b896" stroke-width="0.8" opacity="0.75"/><circle cx="191.5" cy="427.7" r="1.4" fill="#96d4bc" stroke="#62b896" stroke-width="0.8" opacity="0.75"/><circle cx="203.5" cy="418.3" r="1.4" fill="#96d4bc" stroke="#62b896" stroke-width="0.8" opacity="0.75"/><circle cx="211.4" cy="432.8" r="1.4" fill="#96d4bc" stroke="#62b896" stroke-width="0.8" opacity="0.75"/><circle cx="221.0" cy="426.5" r="1.4" fill="#96d4bc" stroke="#62b896" stroke-width="0.8" opacity="0.75"/><circle cx="223.9" cy="431.6" r="1.4" fill="#96d4bc" stroke="#62b896" stroke-width="0.8" opacity="0.75"/><circle cx="228.6" cy="417.6" r="1.4" fill="#96d4bc" stroke="#62b896" stroke-width="0.8" opacity="0.75"/><circle cx="229.9" cy="424.8" r="1.4" fill="#96d4bc" stroke="#62b896" stroke-width="0.8" opacity="0.75"/><circle cx="242.4" cy="416.9" r="1.4" fill="#96d4bc" stroke="#62b896" stroke-width="0.8" opacity="0.75"/><circle cx="258.7" cy="416.1" r="1.4" fill="#96d4bc" stroke="#62b896" stroke-width="0.8" opacity="0.75"/><circle cx="265.9" cy="412.4" r="1.4" fill="#96d4bc" stroke="#62b896" stroke-width="0.8" opacity="0.75"/><circle cx="275.4" cy="421.7" r="1.4" fill="#96d4bc" stroke="#62b896" stroke-width="0.8" opacity="0.75"/><circle cx="277.5" cy="414.3" r="1.4" fill="#96d4bc" stroke="#62b896" stroke-width="0.8" opacity="0.75"/><circle cx="282.5" cy="409.9" r="1.4" fill="#96d4bc" stroke="#62b896" stroke-width="0.8" opacity="0.75"/><circle cx="295.4" cy="407.5" r="1.4" fill="#96d4bc" stroke="#62b896" stroke-width="0.8" opacity="0.75"/><circle cx="299.0" cy="416.2" r="1.4" fill="#96d4bc" stroke="#62b896" stroke-width="0.8" opacity="0.75"/><circle cx="307.9" cy="421.8" r="1.4" fill="#96d4bc" stroke="#62b896" stroke-width="0.8" opacity="0.75"/><circle cx="319.7" cy="419.6" r="1.4" fill="#96d4bc" stroke="#62b896" stroke-width="0.8" opacity="0.75"/><circle cx="328.5" cy="423.6" r="1.4" fill="#96d4bc" stroke="#62b896" stroke-width="0.8" opacity="0.75"/><circle cx="335.5" cy="410.5" r="1.4" fill="#96d4bc" stroke="#62b896" stroke-width="0.8" opacity="0.75"/><circle cx="347.7" cy="435.5" r="1.4" fill="#96d4bc" stroke="#62b896" stroke-width="0.8" opacity="0.75"/><circle cx="353.0" cy="432.9" r="1.4" fill="#96d4bc" stroke="#62b896" stroke-width="0.8" opacity="0.75"/><circle cx="366.2" cy="429.8" r="1.4" fill="#96d4bc" stroke="#62b896" stroke-width="0.8" opacity="0.75"/><circle cx="370.4" cy="426.3" r="1.4" fill="#96d4bc" stroke="#62b896" stroke-width="0.8" opacity="0.75"/><circle cx="381.7" cy="423.6" r="1.4" fill="#96d4bc" stroke="#62b896" stroke-width="0.8" opacity="0.75"/><circle cx="389.0" cy="416.9" r="1.4" fill="#96d4bc" stroke="#62b896" stroke-width="0.8" opacity="0.75"/><circle cx="391.1" cy="429.1" r="1.4" fill="#96d4bc" stroke="#62b896" stroke-width="0.8" opacity="0.75"/><circle cx="402.2" cy="416.7" r="1.4" fill="#96d4bc" stroke="#62b896" stroke-width="0.8" opacity="0.75"/><circle cx="405.6" cy="417.5" r="1.4" fill="#96d4bc" stroke="#62b896" stroke-width="0.8" opacity="0.75"/><circle cx="411.5" cy="420.3" r="1.4" fill="#96d4bc" stroke="#62b896" stroke-width="0.8" opacity="0.75"/><circle cx="419.1" cy="429.8" r="1.4" fill="#96d4bc" stroke="#62b896" stroke-width="0.8" opacity="0.75"/><circle cx="421.9" cy="422.9" r="1.4" fill="#96d4bc" stroke="#62b896" stroke-width="0.8" opacity="0.75"/><circle cx="435.5" cy="419.5" r="1.4" fill="#96d4bc" stroke="#62b896" stroke-width="0.8" opacity="0.75"/><circle cx="451.7" cy="418.4" r="1.4" fill="#96d4bc" stroke="#62b896" stroke-width="0.8" opacity="0.75"/><circle cx="455.6" cy="417.2" r="1.4" fill="#96d4bc" stroke="#62b896" stroke-width="0.8" opacity="0.75"/><circle cx="464.2" cy="403.0" r="1.4" fill="#96d4bc" stroke="#62b896" stroke-width="0.8" opacity="0.75"/><circle cx="473.1" cy="414.8" r="1.4" fill="#96d4bc" stroke="#62b896" stroke-width="0.8" opacity="0.75"/><circle cx="475.6" cy="408.6" r="1.4" fill="#96d4bc" stroke="#62b896" stroke-width="0.8" opacity="0.75"/><circle cx="480.5" cy="414.7" r="1.4" fill="#96d4bc" stroke="#62b896" stroke-width="0.8" opacity="0.75"/><circle cx="488.8" cy="415.1" r="1.4" fill="#96d4bc" stroke="#62b896" stroke-width="0.8" opacity="0.75"/><circle cx="492.9" cy="393.0" r="1.4" fill="#96d4bc" stroke="#62b896" stroke-width="0.8" opacity="0.75"/><circle cx="497.6" cy="417.2" r="1.4" fill="#96d4bc" stroke="#62b896" stroke-width="0.8" opacity="0.75"/><circle cx="505.9" cy="414.4" r="1.4" fill="#96d4bc" stroke="#62b896" stroke-width="0.8" opacity="0.75"/><circle cx="508.6" cy="389.9" r="1.4" fill="#96d4bc" stroke="#62b896" stroke-width="0.8" opacity="0.75"/><circle cx="517.7" cy="409.7" r="1.4" fill="#96d4bc" stroke="#62b896" stroke-width="0.8" opacity="0.75"/><circle cx="526.9" cy="391.2" r="1.4" fill="#96d4bc" stroke="#62b896" stroke-width="0.8" opacity="0.75"/><circle cx="529.4" cy="391.2" r="1.4" fill="#96d4bc" stroke="#62b896" stroke-width="0.8" opacity="0.75"/><circle cx="535.2" cy="395.0" r="1.4" fill="#96d4bc" stroke="#62b896" stroke-width="0.8" opacity="0.75"/><circle cx="542.0" cy="401.2" r="1.4" fill="#96d4bc" stroke="#62b896" stroke-width="0.8" opacity="0.75"/><circle cx="550.3" cy="388.6" r="1.4" fill="#96d4bc" stroke="#62b896" stroke-width="0.8" opacity="0.75"/><circle cx="558.6" cy="395.7" r="1.4" fill="#96d4bc" stroke="#62b896" stroke-width="0.8" opacity="0.75"/><circle cx="565.5" cy="383.7" r="1.4" fill="#96d4bc" stroke="#62b896" stroke-width="0.8" opacity="0.75"/><circle cx="571.5" cy="390.1" r="1.4" fill="#96d4bc" stroke="#62b896" stroke-width="0.8" opacity="0.75"/><circle cx="580.6" cy="391.9" r="1.4" fill="#96d4bc" stroke="#62b896" stroke-width="0.8" opacity="0.75"/><circle cx="582.4" cy="385.8" r="1.4" fill="#96d4bc" stroke="#62b896" stroke-width="0.8" opacity="0.75"/><circle cx="587.6" cy="397.6" r="1.4" fill="#96d4bc" stroke="#62b896" stroke-width="0.8" opacity="0.75"/><circle cx="595.5" cy="391.2" r="1.4" fill="#96d4bc" stroke="#62b896" stroke-width="0.8" opacity="0.75"/><circle cx="604.3" cy="404.8" r="1.4" fill="#96d4bc" stroke="#62b896" stroke-width="0.8" opacity="0.75"/><circle cx="611.7" cy="386.4" r="1.4" fill="#96d4bc" stroke="#62b896" stroke-width="0.8" opacity="0.75"/><circle cx="612.7" cy="397.3" r="1.4" fill="#96d4bc" stroke="#62b896" stroke-width="0.8" opacity="0.75"/><circle cx="620.0" cy="395.4" r="1.4" fill="#96d4bc" stroke="#62b896" stroke-width="0.8" opacity="0.75"/><circle cx="633.4" cy="401.5" r="1.4" fill="#96d4bc" stroke="#62b896" stroke-width="0.8" opacity="0.75"/><circle cx="638.5" cy="385.5" r="1.4" fill="#96d4bc" stroke="#62b896" stroke-width="0.8" opacity="0.75"/><circle cx="640.9" cy="389.9" r="1.4" fill="#96d4bc" stroke="#62b896" stroke-width="0.8" opacity="0.75"/><circle cx="652.9" cy="394.1" r="1.4" fill="#96d4bc" stroke="#62b896" stroke-width="0.8" opacity="0.75"/><circle cx="657.5" cy="397.8" r="1.4" fill="#96d4bc" stroke="#62b896" stroke-width="0.8" opacity="0.75"/><circle cx="670.0" cy="408.1" r="1.4" fill="#96d4bc" stroke="#62b896" stroke-width="0.8" opacity="0.75"/><circle cx="674.3" cy="396.9" r="1.4" fill="#96d4bc" stroke="#62b896" stroke-width="0.8" opacity="0.75"/><circle cx="677.8" cy="399.3" r="1.4" fill="#96d4bc" stroke="#62b896" stroke-width="0.8" opacity="0.75"/><circle cx="687.4" cy="406.0" r="1.4" fill="#96d4bc" stroke="#62b896" stroke-width="0.8" opacity="0.75"/><circle cx="689.4" cy="398.8" r="1.4" fill="#96d4bc" stroke="#62b896" stroke-width="0.8" opacity="0.75"/><circle cx="694.7" cy="411.2" r="1.4" fill="#96d4bc" stroke="#62b896" stroke-width="0.8" opacity="0.75"/><circle cx="702.6" cy="405.2" r="1.4" fill="#96d4bc" stroke="#62b896" stroke-width="0.8" opacity="0.75"/><circle cx="707.1" cy="402.6" r="1.4" fill="#96d4bc" stroke="#62b896" stroke-width="0.8" opacity="0.75"/><circle cx="712.5" cy="416.6" r="1.4" fill="#96d4bc" stroke="#62b896" stroke-width="0.8" opacity="0.75"/><circle cx="724.2" cy="403.1" r="1.4" fill="#96d4bc" stroke="#62b896" stroke-width="0.8" opacity="0.75"/><circle cx="732.2" cy="394.9" r="1.4" fill="#96d4bc" stroke="#62b896" stroke-width="0.8" opacity="0.75"/><circle cx="733.5" cy="406.5" r="1.4" fill="#96d4bc" stroke="#62b896" stroke-width="0.8" opacity="0.75"/><circle cx="739.5" cy="410.3" r="1.4" fill="#96d4bc" stroke="#62b896" stroke-width="0.8" opacity="0.75"/><circle cx="741.8" cy="393.7" r="1.4" fill="#96d4bc" stroke="#62b896" stroke-width="0.8" opacity="0.75"/><circle cx="743.8" cy="403.7" r="1.4" fill="#96d4bc" stroke="#62b896" stroke-width="0.8" opacity="0.75"/><circle cx="749.1" cy="398.3" r="1.4" fill="#96d4bc" stroke="#62b896" stroke-width="0.8" opacity="0.75"/><circle cx="750.0" cy="396.5" r="1.4" fill="#96d4bc" stroke="#62b896" stroke-width="0.8" opacity="0.75"/><circle cx="757.2" cy="406.5" r="1.4" fill="#96d4bc" stroke="#62b896" stroke-width="0.8" opacity="0.75"/><circle cx="759.6" cy="406.9" r="1.4" fill="#96d4bc" stroke="#62b896" stroke-width="0.8" opacity="0.75"/><circle cx="101.4" cy="422.6" r="1.4" fill="#a0a0a0" stroke="#7e7e7e" stroke-width="0.8" opacity="0.90"/><circle cx="121.6" cy="427.9" r="1.4" fill="#a0a0a0" stroke="#7e7e7e" stroke-width="0.8" opacity="0.90"/><circle cx="123.5" cy="434.1" r="1.4" fill="#a0a0a0" stroke="#7e7e7e" stroke-width="0.8" opacity="0.90"/><circle cx="130.1" cy="430.9" r="1.4" fill="#a0a0a0" stroke="#7e7e7e" stroke-width="0.8" opacity="0.90"/><circle cx="150.7" cy="432.8" r="1.4" fill="#a0a0a0" stroke="#7e7e7e" stroke-width="0.8" opacity="0.90"/><circle cx="160.0" cy="420.0" r="1.4" fill="#a0a0a0" stroke="#7e7e7e" stroke-width="0.8" opacity="0.90"/><circle cx="162.6" cy="418.7" r="1.4" fill="#a0a0a0" stroke="#7e7e7e" stroke-width="0.8" opacity="0.90"/><circle cx="164.0" cy="413.9" r="1.4" fill="#a0a0a0" stroke="#7e7e7e" stroke-width="0.8" opacity="0.90"/><circle cx="168.5" cy="422.5" r="1.4" fill="#a0a0a0" stroke="#7e7e7e" stroke-width="0.8" opacity="0.90"/><circle cx="172.2" cy="422.4" r="1.4" fill="#a0a0a0" stroke="#7e7e7e" stroke-width="0.8" opacity="0.90"/><circle cx="176.2" cy="416.4" r="1.4" fill="#a0a0a0" stroke="#7e7e7e" stroke-width="0.8" opacity="0.90"/><circle cx="179.2" cy="431.6" r="1.4" fill="#a0a0a0" stroke="#7e7e7e" stroke-width="0.8" opacity="0.90"/><circle cx="184.2" cy="420.3" r="1.4" fill="#a0a0a0" stroke="#7e7e7e" stroke-width="0.8" opacity="0.90"/><circle cx="188.1" cy="411.5" r="1.4" fill="#a0a0a0" stroke="#7e7e7e" stroke-width="0.8" opacity="0.90"/><circle cx="188.5" cy="423.4" r="1.4" fill="#a0a0a0" stroke="#7e7e7e" stroke-width="0.8" opacity="0.90"/><circle cx="191.0" cy="417.5" r="1.4" fill="#a0a0a0" stroke="#7e7e7e" stroke-width="0.8" opacity="0.90"/><circle cx="204.3" cy="404.8" r="1.4" fill="#a0a0a0" stroke="#7e7e7e" stroke-width="0.8" opacity="0.90"/><circle cx="212.1" cy="426.9" r="1.4" fill="#a0a0a0" stroke="#7e7e7e" stroke-width="0.8" opacity="0.90"/><circle cx="220.8" cy="419.2" r="1.4" fill="#a0a0a0" stroke="#7e7e7e" stroke-width="0.8" opacity="0.90"/><circle cx="229.2" cy="404.8" r="1.4" fill="#a0a0a0" stroke="#7e7e7e" stroke-width="0.8" opacity="0.90"/><circle cx="230.3" cy="426.7" r="1.4" fill="#a0a0a0" stroke="#7e7e7e" stroke-width="0.8" opacity="0.90"/><circle cx="242.1" cy="420.8" r="1.4" fill="#a0a0a0" stroke="#7e7e7e" stroke-width="0.8" opacity="0.90"/><circle cx="246.6" cy="428.7" r="1.4" fill="#a0a0a0" stroke="#7e7e7e" stroke-width="0.8" opacity="0.90"/><circle cx="260.5" cy="409.1" r="1.4" fill="#a0a0a0" stroke="#7e7e7e" stroke-width="0.8" opacity="0.90"/><circle cx="266.3" cy="415.9" r="1.4" fill="#a0a0a0" stroke="#7e7e7e" stroke-width="0.8" opacity="0.90"/><circle cx="275.2" cy="433.6" r="1.4" fill="#a0a0a0" stroke="#7e7e7e" stroke-width="0.8" opacity="0.90"/><circle cx="278.4" cy="417.2" r="1.4" fill="#a0a0a0" stroke="#7e7e7e" stroke-width="0.8" opacity="0.90"/><circle cx="283.0" cy="401.2" r="1.4" fill="#a0a0a0" stroke="#7e7e7e" stroke-width="0.8" opacity="0.90"/><circle cx="296.1" cy="440.1" r="1.4" fill="#a0a0a0" stroke="#7e7e7e" stroke-width="0.8" opacity="0.90"/><circle cx="299.0" cy="427.3" r="1.4" fill="#a0a0a0" stroke="#7e7e7e" stroke-width="0.8" opacity="0.90"/><circle cx="311.5" cy="420.4" r="1.4" fill="#a0a0a0" stroke="#7e7e7e" stroke-width="0.8" opacity="0.90"/><circle cx="319.7" cy="428.2" r="1.4" fill="#a0a0a0" stroke="#7e7e7e" stroke-width="0.8" opacity="0.90"/><circle cx="328.1" cy="429.2" r="1.4" fill="#a0a0a0" stroke="#7e7e7e" stroke-width="0.8" opacity="0.90"/><circle cx="335.7" cy="417.7" r="1.4" fill="#a0a0a0" stroke="#7e7e7e" stroke-width="0.8" opacity="0.90"/><circle cx="344.4" cy="427.5" r="1.4" fill="#a0a0a0" stroke="#7e7e7e" stroke-width="0.8" opacity="0.90"/><circle cx="348.3" cy="427.8" r="1.4" fill="#a0a0a0" stroke="#7e7e7e" stroke-width="0.8" opacity="0.90"/><circle cx="352.8" cy="425.0" r="1.4" fill="#a0a0a0" stroke="#7e7e7e" stroke-width="0.8" opacity="0.90"/><circle cx="366.0" cy="431.5" r="1.4" fill="#a0a0a0" stroke="#7e7e7e" stroke-width="0.8" opacity="0.90"/><circle cx="381.7" cy="431.9" r="1.4" fill="#a0a0a0" stroke="#7e7e7e" stroke-width="0.8" opacity="0.90"/><circle cx="391.3" cy="432.1" r="1.4" fill="#a0a0a0" stroke="#7e7e7e" stroke-width="0.8" opacity="0.90"/><circle cx="402.4" cy="411.3" r="1.4" fill="#a0a0a0" stroke="#7e7e7e" stroke-width="0.8" opacity="0.90"/><circle cx="410.9" cy="434.7" r="1.4" fill="#a0a0a0" stroke="#7e7e7e" stroke-width="0.8" opacity="0.90"/><circle cx="422.6" cy="412.2" r="1.4" fill="#a0a0a0" stroke="#7e7e7e" stroke-width="0.8" opacity="0.90"/><circle cx="427.4" cy="401.5" r="1.4" fill="#a0a0a0" stroke="#7e7e7e" stroke-width="0.8" opacity="0.90"/><circle cx="435.0" cy="427.3" r="1.4" fill="#a0a0a0" stroke="#7e7e7e" stroke-width="0.8" opacity="0.90"/><circle cx="439.6" cy="403.0" r="1.4" fill="#a0a0a0" stroke="#7e7e7e" stroke-width="0.8" opacity="0.90"/><circle cx="443.8" cy="418.8" r="1.4" fill="#a0a0a0" stroke="#7e7e7e" stroke-width="0.8" opacity="0.90"/><circle cx="451.9" cy="414.7" r="1.4" fill="#a0a0a0" stroke="#7e7e7e" stroke-width="0.8" opacity="0.90"/><circle cx="456.5" cy="403.8" r="1.4" fill="#a0a0a0" stroke="#7e7e7e" stroke-width="0.8" opacity="0.90"/><circle cx="463.7" cy="411.1" r="1.4" fill="#a0a0a0" stroke="#7e7e7e" stroke-width="0.8" opacity="0.90"/><circle cx="472.5" cy="411.6" r="1.4" fill="#a0a0a0" stroke="#7e7e7e" stroke-width="0.8" opacity="0.90"/><circle cx="476.0" cy="435.9" r="1.4" fill="#a0a0a0" stroke="#7e7e7e" stroke-width="0.8" opacity="0.90"/><circle cx="481.2" cy="401.3" r="1.4" fill="#a0a0a0" stroke="#7e7e7e" stroke-width="0.8" opacity="0.90"/><circle cx="488.4" cy="407.0" r="1.4" fill="#a0a0a0" stroke="#7e7e7e" stroke-width="0.8" opacity="0.90"/><circle cx="492.9" cy="419.3" r="1.4" fill="#a0a0a0" stroke="#7e7e7e" stroke-width="0.8" opacity="0.90"/><circle cx="496.7" cy="408.0" r="1.4" fill="#a0a0a0" stroke="#7e7e7e" stroke-width="0.8" opacity="0.90"/><circle cx="506.0" cy="411.4" r="1.4" fill="#a0a0a0" stroke="#7e7e7e" stroke-width="0.8" opacity="0.90"/><circle cx="508.5" cy="422.5" r="1.4" fill="#a0a0a0" stroke="#7e7e7e" stroke-width="0.8" opacity="0.90"/><circle cx="527.1" cy="407.2" r="1.4" fill="#a0a0a0" stroke="#7e7e7e" stroke-width="0.8" opacity="0.90"/><circle cx="535.5" cy="424.5" r="1.4" fill="#a0a0a0" stroke="#7e7e7e" stroke-width="0.8" opacity="0.90"/><circle cx="541.5" cy="400.9" r="1.4" fill="#a0a0a0" stroke="#7e7e7e" stroke-width="0.8" opacity="0.90"/><circle cx="549.7" cy="422.8" r="1.4" fill="#a0a0a0" stroke="#7e7e7e" stroke-width="0.8" opacity="0.90"/><circle cx="558.5" cy="413.2" r="1.4" fill="#a0a0a0" stroke="#7e7e7e" stroke-width="0.8" opacity="0.90"/><circle cx="566.5" cy="418.5" r="1.4" fill="#a0a0a0" stroke="#7e7e7e" stroke-width="0.8" opacity="0.90"/><circle cx="572.0" cy="420.7" r="1.4" fill="#a0a0a0" stroke="#7e7e7e" stroke-width="0.8" opacity="0.90"/><circle cx="580.4" cy="416.4" r="1.4" fill="#a0a0a0" stroke="#7e7e7e" stroke-width="0.8" opacity="0.90"/><circle cx="583.5" cy="414.1" r="1.4" fill="#a0a0a0" stroke="#7e7e7e" stroke-width="0.8" opacity="0.90"/><circle cx="588.5" cy="441.5" r="1.4" fill="#a0a0a0" stroke="#7e7e7e" stroke-width="0.8" opacity="0.90"/><circle cx="596.5" cy="420.1" r="1.4" fill="#a0a0a0" stroke="#7e7e7e" stroke-width="0.8" opacity="0.90"/><circle cx="600.2" cy="417.3" r="1.4" fill="#a0a0a0" stroke="#7e7e7e" stroke-width="0.8" opacity="0.90"/><circle cx="604.2" cy="427.0" r="1.4" fill="#a0a0a0" stroke="#7e7e7e" stroke-width="0.8" opacity="0.90"/><circle cx="611.6" cy="421.3" r="1.4" fill="#a0a0a0" stroke="#7e7e7e" stroke-width="0.8" opacity="0.90"/><circle cx="613.0" cy="415.1" r="1.4" fill="#a0a0a0" stroke="#7e7e7e" stroke-width="0.8" opacity="0.90"/><circle cx="620.5" cy="423.2" r="1.4" fill="#a0a0a0" stroke="#7e7e7e" stroke-width="0.8" opacity="0.90"/><circle cx="625.3" cy="420.0" r="1.4" fill="#a0a0a0" stroke="#7e7e7e" stroke-width="0.8" opacity="0.90"/><circle cx="632.5" cy="416.7" r="1.4" fill="#a0a0a0" stroke="#7e7e7e" stroke-width="0.8" opacity="0.90"/><circle cx="638.3" cy="417.5" r="1.4" fill="#a0a0a0" stroke="#7e7e7e" stroke-width="0.8" opacity="0.90"/><circle cx="641.3" cy="406.4" r="1.4" fill="#a0a0a0" stroke="#7e7e7e" stroke-width="0.8" opacity="0.90"/><circle cx="649.6" cy="418.0" r="1.4" fill="#a0a0a0" stroke="#7e7e7e" stroke-width="0.8" opacity="0.90"/><circle cx="658.5" cy="421.6" r="1.4" fill="#a0a0a0" stroke="#7e7e7e" stroke-width="0.8" opacity="0.90"/><circle cx="669.9" cy="415.8" r="1.4" fill="#a0a0a0" stroke="#7e7e7e" stroke-width="0.8" opacity="0.90"/><circle cx="673.6" cy="431.8" r="1.4" fill="#a0a0a0" stroke="#7e7e7e" stroke-width="0.8" opacity="0.90"/><circle cx="678.5" cy="426.9" r="1.4" fill="#a0a0a0" stroke="#7e7e7e" stroke-width="0.8" opacity="0.90"/><circle cx="687.2" cy="420.6" r="1.4" fill="#a0a0a0" stroke="#7e7e7e" stroke-width="0.8" opacity="0.90"/><circle cx="689.8" cy="414.3" r="1.4" fill="#a0a0a0" stroke="#7e7e7e" stroke-width="0.8" opacity="0.90"/><circle cx="695.0" cy="427.4" r="1.4" fill="#a0a0a0" stroke="#7e7e7e" stroke-width="0.8" opacity="0.90"/><circle cx="703.0" cy="424.3" r="1.4" fill="#a0a0a0" stroke="#7e7e7e" stroke-width="0.8" opacity="0.90"/><circle cx="707.5" cy="412.8" r="1.4" fill="#a0a0a0" stroke="#7e7e7e" stroke-width="0.8" opacity="0.90"/><circle cx="712.1" cy="417.8" r="1.4" fill="#a0a0a0" stroke="#7e7e7e" stroke-width="0.8" opacity="0.90"/><circle cx="719.9" cy="401.5" r="1.4" fill="#a0a0a0" stroke="#7e7e7e" stroke-width="0.8" opacity="0.90"/><circle cx="723.4" cy="410.2" r="1.4" fill="#a0a0a0" stroke="#7e7e7e" stroke-width="0.8" opacity="0.90"/><circle cx="731.4" cy="404.8" r="1.4" fill="#a0a0a0" stroke="#7e7e7e" stroke-width="0.8" opacity="0.90"/><circle cx="739.8" cy="398.8" r="1.4" fill="#a0a0a0" stroke="#7e7e7e" stroke-width="0.8" opacity="0.90"/><circle cx="742.2" cy="413.7" r="1.4" fill="#a0a0a0" stroke="#7e7e7e" stroke-width="0.8" opacity="0.90"/><circle cx="744.6" cy="412.7" r="1.4" fill="#a0a0a0" stroke="#7e7e7e" stroke-width="0.8" opacity="0.90"/><circle cx="748.7" cy="416.9" r="1.4" fill="#a0a0a0" stroke="#7e7e7e" stroke-width="0.8" opacity="0.90"/><circle cx="750.1" cy="406.0" r="1.4" fill="#a0a0a0" stroke="#7e7e7e" stroke-width="0.8" opacity="0.90"/><circle cx="756.7" cy="401.3" r="1.4" fill="#a0a0a0" stroke="#7e7e7e" stroke-width="0.8" opacity="0.90"/><circle cx="760.3" cy="402.3" r="1.4" fill="#a0a0a0" stroke="#7e7e7e" stroke-width="0.8" opacity="0.90"/><circle cx="96.6" cy="421.9" r="1.4" fill="#c0b0d8" stroke="#a08cbf" stroke-width="0.8" opacity="0.75"/><circle cx="102.0" cy="409.3" r="1.4" fill="#c0b0d8" stroke="#a08cbf" stroke-width="0.8" opacity="0.75"/><circle cx="117.5" cy="409.9" r="1.4" fill="#c0b0d8" stroke="#a08cbf" stroke-width="0.8" opacity="0.75"/><circle cx="123.1" cy="419.1" r="1.4" fill="#c0b0d8" stroke="#a08cbf" stroke-width="0.8" opacity="0.75"/><circle cx="130.6" cy="409.2" r="1.4" fill="#c0b0d8" stroke="#a08cbf" stroke-width="0.8" opacity="0.75"/><circle cx="133.9" cy="404.5" r="1.4" fill="#c0b0d8" stroke="#a08cbf" stroke-width="0.8" opacity="0.75"/><circle cx="151.1" cy="408.3" r="1.4" fill="#c0b0d8" stroke="#a08cbf" stroke-width="0.8" opacity="0.75"/><circle cx="160.5" cy="397.5" r="1.4" fill="#c0b0d8" stroke="#a08cbf" stroke-width="0.8" opacity="0.75"/><circle cx="163.1" cy="404.8" r="1.4" fill="#c0b0d8" stroke="#a08cbf" stroke-width="0.8" opacity="0.75"/><circle cx="163.5" cy="412.3" r="1.4" fill="#c0b0d8" stroke="#a08cbf" stroke-width="0.8" opacity="0.75"/><circle cx="167.6" cy="412.5" r="1.4" fill="#c0b0d8" stroke="#a08cbf" stroke-width="0.8" opacity="0.75"/><circle cx="172.3" cy="406.3" r="1.4" fill="#c0b0d8" stroke="#a08cbf" stroke-width="0.8" opacity="0.75"/><circle cx="176.3" cy="400.3" r="1.4" fill="#c0b0d8" stroke="#a08cbf" stroke-width="0.8" opacity="0.75"/><circle cx="179.2" cy="404.3" r="1.4" fill="#c0b0d8" stroke="#a08cbf" stroke-width="0.8" opacity="0.75"/><circle cx="188.3" cy="402.0" r="1.4" fill="#c0b0d8" stroke="#a08cbf" stroke-width="0.8" opacity="0.75"/><circle cx="189.6" cy="407.5" r="1.4" fill="#c0b0d8" stroke="#a08cbf" stroke-width="0.8" opacity="0.75"/><circle cx="191.1" cy="415.3" r="1.4" fill="#c0b0d8" stroke="#a08cbf" stroke-width="0.8" opacity="0.75"/><circle cx="203.7" cy="400.7" r="1.4" fill="#c0b0d8" stroke="#a08cbf" stroke-width="0.8" opacity="0.75"/><circle cx="212.1" cy="406.6" r="1.4" fill="#c0b0d8" stroke="#a08cbf" stroke-width="0.8" opacity="0.75"/><circle cx="221.2" cy="405.7" r="1.4" fill="#c0b0d8" stroke="#a08cbf" stroke-width="0.8" opacity="0.75"/><circle cx="224.2" cy="405.7" r="1.4" fill="#c0b0d8" stroke="#a08cbf" stroke-width="0.8" opacity="0.75"/><circle cx="228.4" cy="412.6" r="1.4" fill="#c0b0d8" stroke="#a08cbf" stroke-width="0.8" opacity="0.75"/><circle cx="230.2" cy="414.7" r="1.4" fill="#c0b0d8" stroke="#a08cbf" stroke-width="0.8" opacity="0.75"/><circle cx="242.4" cy="408.3" r="1.4" fill="#c0b0d8" stroke="#a08cbf" stroke-width="0.8" opacity="0.75"/><circle cx="246.2" cy="415.1" r="1.4" fill="#c0b0d8" stroke="#a08cbf" stroke-width="0.8" opacity="0.75"/><circle cx="259.5" cy="416.6" r="1.4" fill="#c0b0d8" stroke="#a08cbf" stroke-width="0.8" opacity="0.75"/><circle cx="260.5" cy="410.9" r="1.4" fill="#c0b0d8" stroke="#a08cbf" stroke-width="0.8" opacity="0.75"/><circle cx="266.4" cy="396.9" r="1.4" fill="#c0b0d8" stroke="#a08cbf" stroke-width="0.8" opacity="0.75"/><circle cx="275.2" cy="406.4" r="1.4" fill="#c0b0d8" stroke="#a08cbf" stroke-width="0.8" opacity="0.75"/><circle cx="278.6" cy="406.0" r="1.4" fill="#c0b0d8" stroke="#a08cbf" stroke-width="0.8" opacity="0.75"/><circle cx="283.2" cy="413.5" r="1.4" fill="#c0b0d8" stroke="#a08cbf" stroke-width="0.8" opacity="0.75"/><circle cx="298.6" cy="414.7" r="1.4" fill="#c0b0d8" stroke="#a08cbf" stroke-width="0.8" opacity="0.75"/><circle cx="308.3" cy="422.9" r="1.4" fill="#c0b0d8" stroke="#a08cbf" stroke-width="0.8" opacity="0.75"/><circle cx="310.7" cy="399.7" r="1.4" fill="#c0b0d8" stroke="#a08cbf" stroke-width="0.8" opacity="0.75"/><circle cx="320.5" cy="422.3" r="1.4" fill="#c0b0d8" stroke="#a08cbf" stroke-width="0.8" opacity="0.75"/><circle cx="328.2" cy="410.1" r="1.4" fill="#c0b0d8" stroke="#a08cbf" stroke-width="0.8" opacity="0.75"/><circle cx="336.1" cy="420.1" r="1.4" fill="#c0b0d8" stroke="#a08cbf" stroke-width="0.8" opacity="0.75"/><circle cx="345.1" cy="417.9" r="1.4" fill="#c0b0d8" stroke="#a08cbf" stroke-width="0.8" opacity="0.75"/><circle cx="347.6" cy="408.6" r="1.4" fill="#c0b0d8" stroke="#a08cbf" stroke-width="0.8" opacity="0.75"/><circle cx="352.5" cy="415.6" r="1.4" fill="#c0b0d8" stroke="#a08cbf" stroke-width="0.8" opacity="0.75"/><circle cx="366.0" cy="409.1" r="1.4" fill="#c0b0d8" stroke="#a08cbf" stroke-width="0.8" opacity="0.75"/><circle cx="382.2" cy="404.0" r="1.4" fill="#c0b0d8" stroke="#a08cbf" stroke-width="0.8" opacity="0.75"/><circle cx="389.3" cy="413.0" r="1.4" fill="#c0b0d8" stroke="#a08cbf" stroke-width="0.8" opacity="0.75"/><circle cx="391.2" cy="396.8" r="1.4" fill="#c0b0d8" stroke="#a08cbf" stroke-width="0.8" opacity="0.75"/><circle cx="411.4" cy="402.0" r="1.4" fill="#c0b0d8" stroke="#a08cbf" stroke-width="0.8" opacity="0.75"/><circle cx="422.1" cy="412.2" r="1.4" fill="#c0b0d8" stroke="#a08cbf" stroke-width="0.8" opacity="0.75"/><circle cx="427.5" cy="400.5" r="1.4" fill="#c0b0d8" stroke="#a08cbf" stroke-width="0.8" opacity="0.75"/><circle cx="435.3" cy="403.5" r="1.4" fill="#c0b0d8" stroke="#a08cbf" stroke-width="0.8" opacity="0.75"/><circle cx="439.5" cy="409.0" r="1.4" fill="#c0b0d8" stroke="#a08cbf" stroke-width="0.8" opacity="0.75"/><circle cx="443.7" cy="423.7" r="1.4" fill="#c0b0d8" stroke="#a08cbf" stroke-width="0.8" opacity="0.75"/><circle cx="451.6" cy="407.3" r="1.4" fill="#c0b0d8" stroke="#a08cbf" stroke-width="0.8" opacity="0.75"/><circle cx="455.9" cy="400.3" r="1.4" fill="#c0b0d8" stroke="#a08cbf" stroke-width="0.8" opacity="0.75"/><circle cx="464.1" cy="410.0" r="1.4" fill="#c0b0d8" stroke="#a08cbf" stroke-width="0.8" opacity="0.75"/><circle cx="472.7" cy="402.8" r="1.4" fill="#c0b0d8" stroke="#a08cbf" stroke-width="0.8" opacity="0.75"/><circle cx="475.6" cy="406.5" r="1.4" fill="#c0b0d8" stroke="#a08cbf" stroke-width="0.8" opacity="0.75"/><circle cx="480.7" cy="406.2" r="1.4" fill="#c0b0d8" stroke="#a08cbf" stroke-width="0.8" opacity="0.75"/><circle cx="489.6" cy="409.0" r="1.4" fill="#c0b0d8" stroke="#a08cbf" stroke-width="0.8" opacity="0.75"/><circle cx="493.4" cy="414.8" r="1.4" fill="#c0b0d8" stroke="#a08cbf" stroke-width="0.8" opacity="0.75"/><circle cx="496.9" cy="404.7" r="1.4" fill="#c0b0d8" stroke="#a08cbf" stroke-width="0.8" opacity="0.75"/><circle cx="505.7" cy="402.6" r="1.4" fill="#c0b0d8" stroke="#a08cbf" stroke-width="0.8" opacity="0.75"/><circle cx="509.0" cy="406.5" r="1.4" fill="#c0b0d8" stroke="#a08cbf" stroke-width="0.8" opacity="0.75"/><circle cx="517.7" cy="403.7" r="1.4" fill="#c0b0d8" stroke="#a08cbf" stroke-width="0.8" opacity="0.75"/><circle cx="526.5" cy="402.9" r="1.4" fill="#c0b0d8" stroke="#a08cbf" stroke-width="0.8" opacity="0.75"/><circle cx="529.7" cy="401.0" r="1.4" fill="#c0b0d8" stroke="#a08cbf" stroke-width="0.8" opacity="0.75"/><circle cx="535.5" cy="395.4" r="1.4" fill="#c0b0d8" stroke="#a08cbf" stroke-width="0.8" opacity="0.75"/><circle cx="541.7" cy="405.8" r="1.4" fill="#c0b0d8" stroke="#a08cbf" stroke-width="0.8" opacity="0.75"/><circle cx="550.0" cy="397.9" r="1.4" fill="#c0b0d8" stroke="#a08cbf" stroke-width="0.8" opacity="0.75"/><circle cx="558.7" cy="401.4" r="1.4" fill="#c0b0d8" stroke="#a08cbf" stroke-width="0.8" opacity="0.75"/><circle cx="566.2" cy="396.8" r="1.4" fill="#c0b0d8" stroke="#a08cbf" stroke-width="0.8" opacity="0.75"/><circle cx="571.4" cy="402.2" r="1.4" fill="#c0b0d8" stroke="#a08cbf" stroke-width="0.8" opacity="0.75"/><circle cx="580.1" cy="409.7" r="1.4" fill="#c0b0d8" stroke="#a08cbf" stroke-width="0.8" opacity="0.75"/><circle cx="588.5" cy="412.7" r="1.4" fill="#c0b0d8" stroke="#a08cbf" stroke-width="0.8" opacity="0.75"/><circle cx="596.1" cy="402.7" r="1.4" fill="#c0b0d8" stroke="#a08cbf" stroke-width="0.8" opacity="0.75"/><circle cx="600.3" cy="398.7" r="1.4" fill="#c0b0d8" stroke="#a08cbf" stroke-width="0.8" opacity="0.75"/><circle cx="604.1" cy="406.3" r="1.4" fill="#c0b0d8" stroke="#a08cbf" stroke-width="0.8" opacity="0.75"/><circle cx="611.8" cy="400.9" r="1.4" fill="#c0b0d8" stroke="#a08cbf" stroke-width="0.8" opacity="0.75"/><circle cx="613.6" cy="398.5" r="1.4" fill="#c0b0d8" stroke="#a08cbf" stroke-width="0.8" opacity="0.75"/><circle cx="620.5" cy="405.1" r="1.4" fill="#c0b0d8" stroke="#a08cbf" stroke-width="0.8" opacity="0.75"/><circle cx="625.4" cy="402.8" r="1.4" fill="#c0b0d8" stroke="#a08cbf" stroke-width="0.8" opacity="0.75"/><circle cx="632.7" cy="404.4" r="1.4" fill="#c0b0d8" stroke="#a08cbf" stroke-width="0.8" opacity="0.75"/><circle cx="637.6" cy="402.6" r="1.4" fill="#c0b0d8" stroke="#a08cbf" stroke-width="0.8" opacity="0.75"/><circle cx="640.6" cy="403.3" r="1.4" fill="#c0b0d8" stroke="#a08cbf" stroke-width="0.8" opacity="0.75"/><circle cx="650.4" cy="404.2" r="1.4" fill="#c0b0d8" stroke="#a08cbf" stroke-width="0.8" opacity="0.75"/><circle cx="653.5" cy="395.5" r="1.4" fill="#c0b0d8" stroke="#a08cbf" stroke-width="0.8" opacity="0.75"/><circle cx="657.9" cy="386.8" r="1.4" fill="#c0b0d8" stroke="#a08cbf" stroke-width="0.8" opacity="0.75"/><circle cx="669.9" cy="397.5" r="1.4" fill="#c0b0d8" stroke="#a08cbf" stroke-width="0.8" opacity="0.75"/><circle cx="674.2" cy="388.0" r="1.4" fill="#c0b0d8" stroke="#a08cbf" stroke-width="0.8" opacity="0.75"/><circle cx="687.1" cy="388.9" r="1.4" fill="#c0b0d8" stroke="#a08cbf" stroke-width="0.8" opacity="0.75"/><circle cx="689.9" cy="383.5" r="1.4" fill="#c0b0d8" stroke="#a08cbf" stroke-width="0.8" opacity="0.75"/><circle cx="694.9" cy="393.3" r="1.4" fill="#c0b0d8" stroke="#a08cbf" stroke-width="0.8" opacity="0.75"/><circle cx="702.8" cy="381.9" r="1.4" fill="#c0b0d8" stroke="#a08cbf" stroke-width="0.8" opacity="0.75"/><circle cx="706.6" cy="383.4" r="1.4" fill="#c0b0d8" stroke="#a08cbf" stroke-width="0.8" opacity="0.75"/><circle cx="712.4" cy="385.9" r="1.4" fill="#c0b0d8" stroke="#a08cbf" stroke-width="0.8" opacity="0.75"/><circle cx="720.1" cy="378.7" r="1.4" fill="#c0b0d8" stroke="#a08cbf" stroke-width="0.8" opacity="0.75"/><circle cx="723.6" cy="388.5" r="1.4" fill="#c0b0d8" stroke="#a08cbf" stroke-width="0.8" opacity="0.75"/><circle cx="732.0" cy="385.5" r="1.4" fill="#c0b0d8" stroke="#a08cbf" stroke-width="0.8" opacity="0.75"/><circle cx="734.2" cy="389.2" r="1.4" fill="#c0b0d8" stroke="#a08cbf" stroke-width="0.8" opacity="0.75"/><circle cx="739.7" cy="378.6" r="1.4" fill="#c0b0d8" stroke="#a08cbf" stroke-width="0.8" opacity="0.75"/><circle cx="742.0" cy="378.2" r="1.4" fill="#c0b0d8" stroke="#a08cbf" stroke-width="0.8" opacity="0.75"/><circle cx="744.2" cy="387.2" r="1.4" fill="#c0b0d8" stroke="#a08cbf" stroke-width="0.8" opacity="0.75"/><circle cx="749.1" cy="379.6" r="1.4" fill="#c0b0d8" stroke="#a08cbf" stroke-width="0.8" opacity="0.75"/><circle cx="749.7" cy="383.5" r="1.4" fill="#c0b0d8" stroke="#a08cbf" stroke-width="0.8" opacity="0.75"/><circle cx="757.2" cy="395.8" r="1.4" fill="#c0b0d8" stroke="#a08cbf" stroke-width="0.8" opacity="0.75"/><circle cx="760.0" cy="379.4" r="1.4" fill="#c0b0d8" stroke="#a08cbf" stroke-width="0.8" opacity="0.75"/><circle cx="96.5" cy="424.3" r="1.4" fill="#f2cfaa" stroke="#e8b080" stroke-width="0.8" opacity="0.70"/><circle cx="118.3" cy="418.0" r="1.4" fill="#f2cfaa" stroke="#e8b080" stroke-width="0.8" opacity="0.70"/><circle cx="122.6" cy="422.6" r="1.4" fill="#f2cfaa" stroke="#e8b080" stroke-width="0.8" opacity="0.70"/><circle cx="123.2" cy="404.6" r="1.4" fill="#f2cfaa" stroke="#e8b080" stroke-width="0.8" opacity="0.70"/><circle cx="130.5" cy="431.2" r="1.4" fill="#f2cfaa" stroke="#e8b080" stroke-width="0.8" opacity="0.70"/><circle cx="133.6" cy="411.3" r="1.4" fill="#f2cfaa" stroke="#e8b080" stroke-width="0.8" opacity="0.70"/><circle cx="150.5" cy="421.7" r="1.4" fill="#f2cfaa" stroke="#e8b080" stroke-width="0.8" opacity="0.70"/><circle cx="160.5" cy="417.4" r="1.4" fill="#f2cfaa" stroke="#e8b080" stroke-width="0.8" opacity="0.70"/><circle cx="163.6" cy="416.9" r="1.4" fill="#f2cfaa" stroke="#e8b080" stroke-width="0.8" opacity="0.70"/><circle cx="164.3" cy="411.3" r="1.4" fill="#f2cfaa" stroke="#e8b080" stroke-width="0.8" opacity="0.70"/><circle cx="168.0" cy="421.4" r="1.4" fill="#f2cfaa" stroke="#e8b080" stroke-width="0.8" opacity="0.70"/><circle cx="176.5" cy="415.7" r="1.4" fill="#f2cfaa" stroke="#e8b080" stroke-width="0.8" opacity="0.70"/><circle cx="178.5" cy="406.5" r="1.4" fill="#f2cfaa" stroke="#e8b080" stroke-width="0.8" opacity="0.70"/><circle cx="183.9" cy="415.3" r="1.4" fill="#f2cfaa" stroke="#e8b080" stroke-width="0.8" opacity="0.70"/><circle cx="188.3" cy="420.4" r="1.4" fill="#f2cfaa" stroke="#e8b080" stroke-width="0.8" opacity="0.70"/><circle cx="188.9" cy="414.0" r="1.4" fill="#f2cfaa" stroke="#e8b080" stroke-width="0.8" opacity="0.70"/><circle cx="190.8" cy="419.9" r="1.4" fill="#f2cfaa" stroke="#e8b080" stroke-width="0.8" opacity="0.70"/><circle cx="204.6" cy="421.0" r="1.4" fill="#f2cfaa" stroke="#e8b080" stroke-width="0.8" opacity="0.70"/><circle cx="212.4" cy="417.5" r="1.4" fill="#f2cfaa" stroke="#e8b080" stroke-width="0.8" opacity="0.70"/><circle cx="221.5" cy="422.1" r="1.4" fill="#f2cfaa" stroke="#e8b080" stroke-width="0.8" opacity="0.70"/><circle cx="223.9" cy="419.3" r="1.4" fill="#f2cfaa" stroke="#e8b080" stroke-width="0.8" opacity="0.70"/><circle cx="229.1" cy="424.8" r="1.4" fill="#f2cfaa" stroke="#e8b080" stroke-width="0.8" opacity="0.70"/><circle cx="229.7" cy="413.8" r="1.4" fill="#f2cfaa" stroke="#e8b080" stroke-width="0.8" opacity="0.70"/><circle cx="241.9" cy="423.4" r="1.4" fill="#f2cfaa" stroke="#e8b080" stroke-width="0.8" opacity="0.70"/><circle cx="245.7" cy="428.1" r="1.4" fill="#f2cfaa" stroke="#e8b080" stroke-width="0.8" opacity="0.70"/><circle cx="259.0" cy="410.8" r="1.4" fill="#f2cfaa" stroke="#e8b080" stroke-width="0.8" opacity="0.70"/><circle cx="260.1" cy="403.8" r="1.4" fill="#f2cfaa" stroke="#e8b080" stroke-width="0.8" opacity="0.70"/><circle cx="265.7" cy="403.7" r="1.4" fill="#f2cfaa" stroke="#e8b080" stroke-width="0.8" opacity="0.70"/><circle cx="274.7" cy="414.1" r="1.4" fill="#f2cfaa" stroke="#e8b080" stroke-width="0.8" opacity="0.70"/><circle cx="278.1" cy="411.3" r="1.4" fill="#f2cfaa" stroke="#e8b080" stroke-width="0.8" opacity="0.70"/><circle cx="283.3" cy="422.6" r="1.4" fill="#f2cfaa" stroke="#e8b080" stroke-width="0.8" opacity="0.70"/><circle cx="296.4" cy="414.3" r="1.4" fill="#f2cfaa" stroke="#e8b080" stroke-width="0.8" opacity="0.70"/><circle cx="298.6" cy="418.3" r="1.4" fill="#f2cfaa" stroke="#e8b080" stroke-width="0.8" opacity="0.70"/><circle cx="308.6" cy="410.3" r="1.4" fill="#f2cfaa" stroke="#e8b080" stroke-width="0.8" opacity="0.70"/><circle cx="311.4" cy="415.5" r="1.4" fill="#f2cfaa" stroke="#e8b080" stroke-width="0.8" opacity="0.70"/><circle cx="319.8" cy="410.1" r="1.4" fill="#f2cfaa" stroke="#e8b080" stroke-width="0.8" opacity="0.70"/><circle cx="327.9" cy="413.0" r="1.4" fill="#f2cfaa" stroke="#e8b080" stroke-width="0.8" opacity="0.70"/><circle cx="345.1" cy="409.4" r="1.4" fill="#f2cfaa" stroke="#e8b080" stroke-width="0.8" opacity="0.70"/><circle cx="348.2" cy="425.1" r="1.4" fill="#f2cfaa" stroke="#e8b080" stroke-width="0.8" opacity="0.70"/><circle cx="353.3" cy="407.9" r="1.4" fill="#f2cfaa" stroke="#e8b080" stroke-width="0.8" opacity="0.70"/><circle cx="366.2" cy="424.0" r="1.4" fill="#f2cfaa" stroke="#e8b080" stroke-width="0.8" opacity="0.70"/><circle cx="370.2" cy="414.6" r="1.4" fill="#f2cfaa" stroke="#e8b080" stroke-width="0.8" opacity="0.70"/><circle cx="381.8" cy="409.4" r="1.4" fill="#f2cfaa" stroke="#e8b080" stroke-width="0.8" opacity="0.70"/><circle cx="388.4" cy="413.4" r="1.4" fill="#f2cfaa" stroke="#e8b080" stroke-width="0.8" opacity="0.70"/><circle cx="391.4" cy="418.8" r="1.4" fill="#f2cfaa" stroke="#e8b080" stroke-width="0.8" opacity="0.70"/><circle cx="401.5" cy="418.4" r="1.4" fill="#f2cfaa" stroke="#e8b080" stroke-width="0.8" opacity="0.70"/><circle cx="405.9" cy="413.6" r="1.4" fill="#f2cfaa" stroke="#e8b080" stroke-width="0.8" opacity="0.70"/><circle cx="411.0" cy="408.9" r="1.4" fill="#f2cfaa" stroke="#e8b080" stroke-width="0.8" opacity="0.70"/><circle cx="422.3" cy="414.3" r="1.4" fill="#f2cfaa" stroke="#e8b080" stroke-width="0.8" opacity="0.70"/><circle cx="435.3" cy="397.9" r="1.4" fill="#f2cfaa" stroke="#e8b080" stroke-width="0.8" opacity="0.70"/><circle cx="438.6" cy="405.9" r="1.4" fill="#f2cfaa" stroke="#e8b080" stroke-width="0.8" opacity="0.70"/><circle cx="443.6" cy="411.1" r="1.4" fill="#f2cfaa" stroke="#e8b080" stroke-width="0.8" opacity="0.70"/><circle cx="451.8" cy="410.9" r="1.4" fill="#f2cfaa" stroke="#e8b080" stroke-width="0.8" opacity="0.70"/><circle cx="456.3" cy="401.5" r="1.4" fill="#f2cfaa" stroke="#e8b080" stroke-width="0.8" opacity="0.70"/><circle cx="463.6" cy="407.9" r="1.4" fill="#f2cfaa" stroke="#e8b080" stroke-width="0.8" opacity="0.70"/><circle cx="473.5" cy="405.1" r="1.4" fill="#f2cfaa" stroke="#e8b080" stroke-width="0.8" opacity="0.70"/><circle cx="475.9" cy="400.8" r="1.4" fill="#f2cfaa" stroke="#e8b080" stroke-width="0.8" opacity="0.70"/><circle cx="481.5" cy="391.3" r="1.4" fill="#f2cfaa" stroke="#e8b080" stroke-width="0.8" opacity="0.70"/><circle cx="489.0" cy="396.1" r="1.4" fill="#f2cfaa" stroke="#e8b080" stroke-width="0.8" opacity="0.70"/><circle cx="492.6" cy="402.7" r="1.4" fill="#f2cfaa" stroke="#e8b080" stroke-width="0.8" opacity="0.70"/><circle cx="497.3" cy="412.5" r="1.4" fill="#f2cfaa" stroke="#e8b080" stroke-width="0.8" opacity="0.70"/><circle cx="506.3" cy="396.0" r="1.4" fill="#f2cfaa" stroke="#e8b080" stroke-width="0.8" opacity="0.70"/><circle cx="508.7" cy="397.6" r="1.4" fill="#f2cfaa" stroke="#e8b080" stroke-width="0.8" opacity="0.70"/><circle cx="518.5" cy="403.7" r="1.4" fill="#f2cfaa" stroke="#e8b080" stroke-width="0.8" opacity="0.70"/><circle cx="527.6" cy="406.4" r="1.4" fill="#f2cfaa" stroke="#e8b080" stroke-width="0.8" opacity="0.70"/><circle cx="530.0" cy="399.4" r="1.4" fill="#f2cfaa" stroke="#e8b080" stroke-width="0.8" opacity="0.70"/><circle cx="535.0" cy="409.5" r="1.4" fill="#f2cfaa" stroke="#e8b080" stroke-width="0.8" opacity="0.70"/><circle cx="542.5" cy="409.9" r="1.4" fill="#f2cfaa" stroke="#e8b080" stroke-width="0.8" opacity="0.70"/><circle cx="549.6" cy="400.0" r="1.4" fill="#f2cfaa" stroke="#e8b080" stroke-width="0.8" opacity="0.70"/><circle cx="558.7" cy="413.0" r="1.4" fill="#f2cfaa" stroke="#e8b080" stroke-width="0.8" opacity="0.70"/><circle cx="566.4" cy="422.5" r="1.4" fill="#f2cfaa" stroke="#e8b080" stroke-width="0.8" opacity="0.70"/><circle cx="571.9" cy="413.1" r="1.4" fill="#f2cfaa" stroke="#e8b080" stroke-width="0.8" opacity="0.70"/><circle cx="580.3" cy="410.5" r="1.4" fill="#f2cfaa" stroke="#e8b080" stroke-width="0.8" opacity="0.70"/><circle cx="583.1" cy="414.3" r="1.4" fill="#f2cfaa" stroke="#e8b080" stroke-width="0.8" opacity="0.70"/><circle cx="588.3" cy="417.3" r="1.4" fill="#f2cfaa" stroke="#e8b080" stroke-width="0.8" opacity="0.70"/><circle cx="596.1" cy="415.2" r="1.4" fill="#f2cfaa" stroke="#e8b080" stroke-width="0.8" opacity="0.70"/><circle cx="599.5" cy="411.1" r="1.4" fill="#f2cfaa" stroke="#e8b080" stroke-width="0.8" opacity="0.70"/><circle cx="612.2" cy="404.0" r="1.4" fill="#f2cfaa" stroke="#e8b080" stroke-width="0.8" opacity="0.70"/><circle cx="613.2" cy="408.7" r="1.4" fill="#f2cfaa" stroke="#e8b080" stroke-width="0.8" opacity="0.70"/><circle cx="619.9" cy="425.7" r="1.4" fill="#f2cfaa" stroke="#e8b080" stroke-width="0.8" opacity="0.70"/><circle cx="625.4" cy="410.0" r="1.4" fill="#f2cfaa" stroke="#e8b080" stroke-width="0.8" opacity="0.70"/><circle cx="632.8" cy="411.3" r="1.4" fill="#f2cfaa" stroke="#e8b080" stroke-width="0.8" opacity="0.70"/><circle cx="638.1" cy="408.8" r="1.4" fill="#f2cfaa" stroke="#e8b080" stroke-width="0.8" opacity="0.70"/><circle cx="640.5" cy="424.3" r="1.4" fill="#f2cfaa" stroke="#e8b080" stroke-width="0.8" opacity="0.70"/><circle cx="649.8" cy="405.2" r="1.4" fill="#f2cfaa" stroke="#e8b080" stroke-width="0.8" opacity="0.70"/><circle cx="652.5" cy="408.2" r="1.4" fill="#f2cfaa" stroke="#e8b080" stroke-width="0.8" opacity="0.70"/><circle cx="657.7" cy="411.7" r="1.4" fill="#f2cfaa" stroke="#e8b080" stroke-width="0.8" opacity="0.70"/><circle cx="673.7" cy="416.0" r="1.4" fill="#f2cfaa" stroke="#e8b080" stroke-width="0.8" opacity="0.70"/><circle cx="677.4" cy="418.3" r="1.4" fill="#f2cfaa" stroke="#e8b080" stroke-width="0.8" opacity="0.70"/><circle cx="686.5" cy="418.8" r="1.4" fill="#f2cfaa" stroke="#e8b080" stroke-width="0.8" opacity="0.70"/><circle cx="689.9" cy="410.9" r="1.4" fill="#f2cfaa" stroke="#e8b080" stroke-width="0.8" opacity="0.70"/><circle cx="694.5" cy="414.2" r="1.4" fill="#f2cfaa" stroke="#e8b080" stroke-width="0.8" opacity="0.70"/><circle cx="703.3" cy="415.0" r="1.4" fill="#f2cfaa" stroke="#e8b080" stroke-width="0.8" opacity="0.70"/><circle cx="706.6" cy="403.9" r="1.4" fill="#f2cfaa" stroke="#e8b080" stroke-width="0.8" opacity="0.70"/><circle cx="711.5" cy="422.3" r="1.4" fill="#f2cfaa" stroke="#e8b080" stroke-width="0.8" opacity="0.70"/><circle cx="720.4" cy="410.1" r="1.4" fill="#f2cfaa" stroke="#e8b080" stroke-width="0.8" opacity="0.70"/><circle cx="724.1" cy="421.1" r="1.4" fill="#f2cfaa" stroke="#e8b080" stroke-width="0.8" opacity="0.70"/><circle cx="732.0" cy="410.7" r="1.4" fill="#f2cfaa" stroke="#e8b080" stroke-width="0.8" opacity="0.70"/><circle cx="734.6" cy="419.0" r="1.4" fill="#f2cfaa" stroke="#e8b080" stroke-width="0.8" opacity="0.70"/><circle cx="740.0" cy="415.3" r="1.4" fill="#f2cfaa" stroke="#e8b080" stroke-width="0.8" opacity="0.70"/><circle cx="742.2" cy="406.5" r="1.4" fill="#f2cfaa" stroke="#e8b080" stroke-width="0.8" opacity="0.70"/><circle cx="743.7" cy="407.5" r="1.4" fill="#f2cfaa" stroke="#e8b080" stroke-width="0.8" opacity="0.70"/><circle cx="750.6" cy="415.6" r="1.4" fill="#f2cfaa" stroke="#e8b080" stroke-width="0.8" opacity="0.70"/><circle cx="756.8" cy="402.5" r="1.4" fill="#f2cfaa" stroke="#e8b080" stroke-width="0.8" opacity="0.70"/><circle cx="759.9" cy="412.8" r="1.4" fill="#f2cfaa" stroke="#e8b080" stroke-width="0.8" opacity="0.70"/><circle cx="95.7" cy="409.4" r="1.4" fill="#bcd6aa" stroke="#9cc284" stroke-width="0.8" opacity="0.70"/><circle cx="101.8" cy="408.8" r="1.4" fill="#bcd6aa" stroke="#9cc284" stroke-width="0.8" opacity="0.70"/><circle cx="117.6" cy="411.9" r="1.4" fill="#bcd6aa" stroke="#9cc284" stroke-width="0.8" opacity="0.70"/><circle cx="123.0" cy="420.0" r="1.4" fill="#bcd6aa" stroke="#9cc284" stroke-width="0.8" opacity="0.70"/><circle cx="130.4" cy="426.5" r="1.4" fill="#bcd6aa" stroke="#9cc284" stroke-width="0.8" opacity="0.70"/><circle cx="133.6" cy="413.2" r="1.4" fill="#bcd6aa" stroke="#9cc284" stroke-width="0.8" opacity="0.70"/><circle cx="150.6" cy="424.5" r="1.4" fill="#bcd6aa" stroke="#9cc284" stroke-width="0.8" opacity="0.70"/><circle cx="159.6" cy="420.5" r="1.4" fill="#bcd6aa" stroke="#9cc284" stroke-width="0.8" opacity="0.70"/><circle cx="162.7" cy="424.7" r="1.4" fill="#bcd6aa" stroke="#9cc284" stroke-width="0.8" opacity="0.70"/><circle cx="163.4" cy="431.5" r="1.4" fill="#bcd6aa" stroke="#9cc284" stroke-width="0.8" opacity="0.70"/><circle cx="168.0" cy="418.0" r="1.4" fill="#bcd6aa" stroke="#9cc284" stroke-width="0.8" opacity="0.70"/><circle cx="172.4" cy="422.1" r="1.4" fill="#bcd6aa" stroke="#9cc284" stroke-width="0.8" opacity="0.70"/><circle cx="175.8" cy="430.4" r="1.4" fill="#bcd6aa" stroke="#9cc284" stroke-width="0.8" opacity="0.70"/><circle cx="184.0" cy="426.0" r="1.4" fill="#bcd6aa" stroke="#9cc284" stroke-width="0.8" opacity="0.70"/><circle cx="188.4" cy="423.5" r="1.4" fill="#bcd6aa" stroke="#9cc284" stroke-width="0.8" opacity="0.70"/><circle cx="189.3" cy="416.0" r="1.4" fill="#bcd6aa" stroke="#9cc284" stroke-width="0.8" opacity="0.70"/><circle cx="190.7" cy="428.7" r="1.4" fill="#bcd6aa" stroke="#9cc284" stroke-width="0.8" opacity="0.70"/><circle cx="203.6" cy="419.8" r="1.4" fill="#bcd6aa" stroke="#9cc284" stroke-width="0.8" opacity="0.70"/><circle cx="212.0" cy="423.7" r="1.4" fill="#bcd6aa" stroke="#9cc284" stroke-width="0.8" opacity="0.70"/><circle cx="221.1" cy="413.4" r="1.4" fill="#bcd6aa" stroke="#9cc284" stroke-width="0.8" opacity="0.70"/><circle cx="223.7" cy="427.7" r="1.4" fill="#bcd6aa" stroke="#9cc284" stroke-width="0.8" opacity="0.70"/><circle cx="241.5" cy="411.6" r="1.4" fill="#bcd6aa" stroke="#9cc284" stroke-width="0.8" opacity="0.70"/><circle cx="245.8" cy="423.8" r="1.4" fill="#bcd6aa" stroke="#9cc284" stroke-width="0.8" opacity="0.70"/><circle cx="259.5" cy="432.2" r="1.4" fill="#bcd6aa" stroke="#9cc284" stroke-width="0.8" opacity="0.70"/><circle cx="259.9" cy="415.6" r="1.4" fill="#bcd6aa" stroke="#9cc284" stroke-width="0.8" opacity="0.70"/><circle cx="265.6" cy="416.1" r="1.4" fill="#bcd6aa" stroke="#9cc284" stroke-width="0.8" opacity="0.70"/><circle cx="275.1" cy="429.9" r="1.4" fill="#bcd6aa" stroke="#9cc284" stroke-width="0.8" opacity="0.70"/><circle cx="278.4" cy="420.3" r="1.4" fill="#bcd6aa" stroke="#9cc284" stroke-width="0.8" opacity="0.70"/><circle cx="283.0" cy="426.2" r="1.4" fill="#bcd6aa" stroke="#9cc284" stroke-width="0.8" opacity="0.70"/><circle cx="295.6" cy="413.7" r="1.4" fill="#bcd6aa" stroke="#9cc284" stroke-width="0.8" opacity="0.70"/><circle cx="298.8" cy="420.9" r="1.4" fill="#bcd6aa" stroke="#9cc284" stroke-width="0.8" opacity="0.70"/><circle cx="308.2" cy="425.3" r="1.4" fill="#bcd6aa" stroke="#9cc284" stroke-width="0.8" opacity="0.70"/><circle cx="311.1" cy="409.6" r="1.4" fill="#bcd6aa" stroke="#9cc284" stroke-width="0.8" opacity="0.70"/><circle cx="320.1" cy="422.1" r="1.4" fill="#bcd6aa" stroke="#9cc284" stroke-width="0.8" opacity="0.70"/><circle cx="327.8" cy="422.3" r="1.4" fill="#bcd6aa" stroke="#9cc284" stroke-width="0.8" opacity="0.70"/><circle cx="344.9" cy="422.6" r="1.4" fill="#bcd6aa" stroke="#9cc284" stroke-width="0.8" opacity="0.70"/><circle cx="348.4" cy="425.0" r="1.4" fill="#bcd6aa" stroke="#9cc284" stroke-width="0.8" opacity="0.70"/><circle cx="352.7" cy="421.1" r="1.4" fill="#bcd6aa" stroke="#9cc284" stroke-width="0.8" opacity="0.70"/><circle cx="369.8" cy="413.5" r="1.4" fill="#bcd6aa" stroke="#9cc284" stroke-width="0.8" opacity="0.70"/><circle cx="381.5" cy="421.9" r="1.4" fill="#bcd6aa" stroke="#9cc284" stroke-width="0.8" opacity="0.70"/><circle cx="389.5" cy="418.0" r="1.4" fill="#bcd6aa" stroke="#9cc284" stroke-width="0.8" opacity="0.70"/><circle cx="391.5" cy="426.2" r="1.4" fill="#bcd6aa" stroke="#9cc284" stroke-width="0.8" opacity="0.70"/><circle cx="402.1" cy="423.4" r="1.4" fill="#bcd6aa" stroke="#9cc284" stroke-width="0.8" opacity="0.70"/><circle cx="406.1" cy="421.7" r="1.4" fill="#bcd6aa" stroke="#9cc284" stroke-width="0.8" opacity="0.70"/><circle cx="410.9" cy="423.6" r="1.4" fill="#bcd6aa" stroke="#9cc284" stroke-width="0.8" opacity="0.70"/><circle cx="418.9" cy="420.1" r="1.4" fill="#bcd6aa" stroke="#9cc284" stroke-width="0.8" opacity="0.70"/><circle cx="421.6" cy="416.5" r="1.4" fill="#bcd6aa" stroke="#9cc284" stroke-width="0.8" opacity="0.70"/><circle cx="428.3" cy="412.1" r="1.4" fill="#bcd6aa" stroke="#9cc284" stroke-width="0.8" opacity="0.70"/><circle cx="434.5" cy="411.8" r="1.4" fill="#bcd6aa" stroke="#9cc284" stroke-width="0.8" opacity="0.70"/><circle cx="444.5" cy="410.2" r="1.4" fill="#bcd6aa" stroke="#9cc284" stroke-width="0.8" opacity="0.70"/><circle cx="451.9" cy="420.4" r="1.4" fill="#bcd6aa" stroke="#9cc284" stroke-width="0.8" opacity="0.70"/><circle cx="456.5" cy="420.7" r="1.4" fill="#bcd6aa" stroke="#9cc284" stroke-width="0.8" opacity="0.70"/><circle cx="464.6" cy="415.7" r="1.4" fill="#bcd6aa" stroke="#9cc284" stroke-width="0.8" opacity="0.70"/><circle cx="472.8" cy="418.6" r="1.4" fill="#bcd6aa" stroke="#9cc284" stroke-width="0.8" opacity="0.70"/><circle cx="489.5" cy="418.2" r="1.4" fill="#bcd6aa" stroke="#9cc284" stroke-width="0.8" opacity="0.70"/><circle cx="492.6" cy="418.2" r="1.4" fill="#bcd6aa" stroke="#9cc284" stroke-width="0.8" opacity="0.70"/><circle cx="496.7" cy="416.6" r="1.4" fill="#bcd6aa" stroke="#9cc284" stroke-width="0.8" opacity="0.70"/><circle cx="506.3" cy="416.5" r="1.4" fill="#bcd6aa" stroke="#9cc284" stroke-width="0.8" opacity="0.70"/><circle cx="517.6" cy="416.6" r="1.4" fill="#bcd6aa" stroke="#9cc284" stroke-width="0.8" opacity="0.70"/><circle cx="527.0" cy="400.7" r="1.4" fill="#bcd6aa" stroke="#9cc284" stroke-width="0.8" opacity="0.70"/><circle cx="530.3" cy="420.4" r="1.4" fill="#bcd6aa" stroke="#9cc284" stroke-width="0.8" opacity="0.70"/><circle cx="535.5" cy="414.9" r="1.4" fill="#bcd6aa" stroke="#9cc284" stroke-width="0.8" opacity="0.70"/><circle cx="542.3" cy="405.6" r="1.4" fill="#bcd6aa" stroke="#9cc284" stroke-width="0.8" opacity="0.70"/><circle cx="549.9" cy="408.9" r="1.4" fill="#bcd6aa" stroke="#9cc284" stroke-width="0.8" opacity="0.70"/><circle cx="559.1" cy="399.3" r="1.4" fill="#bcd6aa" stroke="#9cc284" stroke-width="0.8" opacity="0.70"/><circle cx="566.1" cy="406.1" r="1.4" fill="#bcd6aa" stroke="#9cc284" stroke-width="0.8" opacity="0.70"/><circle cx="572.0" cy="408.6" r="1.4" fill="#bcd6aa" stroke="#9cc284" stroke-width="0.8" opacity="0.70"/><circle cx="579.7" cy="417.9" r="1.4" fill="#bcd6aa" stroke="#9cc284" stroke-width="0.8" opacity="0.70"/><circle cx="588.0" cy="409.0" r="1.4" fill="#bcd6aa" stroke="#9cc284" stroke-width="0.8" opacity="0.70"/><circle cx="595.8" cy="412.0" r="1.4" fill="#bcd6aa" stroke="#9cc284" stroke-width="0.8" opacity="0.70"/><circle cx="599.9" cy="414.5" r="1.4" fill="#bcd6aa" stroke="#9cc284" stroke-width="0.8" opacity="0.70"/><circle cx="604.1" cy="402.1" r="1.4" fill="#bcd6aa" stroke="#9cc284" stroke-width="0.8" opacity="0.70"/><circle cx="612.0" cy="418.2" r="1.4" fill="#bcd6aa" stroke="#9cc284" stroke-width="0.8" opacity="0.70"/><circle cx="613.5" cy="413.5" r="1.4" fill="#bcd6aa" stroke="#9cc284" stroke-width="0.8" opacity="0.70"/><circle cx="620.2" cy="412.6" r="1.4" fill="#bcd6aa" stroke="#9cc284" stroke-width="0.8" opacity="0.70"/><circle cx="624.6" cy="407.3" r="1.4" fill="#bcd6aa" stroke="#9cc284" stroke-width="0.8" opacity="0.70"/><circle cx="633.0" cy="419.8" r="1.4" fill="#bcd6aa" stroke="#9cc284" stroke-width="0.8" opacity="0.70"/><circle cx="637.7" cy="427.6" r="1.4" fill="#bcd6aa" stroke="#9cc284" stroke-width="0.8" opacity="0.70"/><circle cx="641.2" cy="405.7" r="1.4" fill="#bcd6aa" stroke="#9cc284" stroke-width="0.8" opacity="0.70"/><circle cx="649.7" cy="407.1" r="1.4" fill="#bcd6aa" stroke="#9cc284" stroke-width="0.8" opacity="0.70"/><circle cx="652.6" cy="413.4" r="1.4" fill="#bcd6aa" stroke="#9cc284" stroke-width="0.8" opacity="0.70"/><circle cx="657.5" cy="410.1" r="1.4" fill="#bcd6aa" stroke="#9cc284" stroke-width="0.8" opacity="0.70"/><circle cx="670.1" cy="426.4" r="1.4" fill="#bcd6aa" stroke="#9cc284" stroke-width="0.8" opacity="0.70"/><circle cx="674.1" cy="413.5" r="1.4" fill="#bcd6aa" stroke="#9cc284" stroke-width="0.8" opacity="0.70"/><circle cx="677.8" cy="411.0" r="1.4" fill="#bcd6aa" stroke="#9cc284" stroke-width="0.8" opacity="0.70"/><circle cx="687.1" cy="428.7" r="1.4" fill="#bcd6aa" stroke="#9cc284" stroke-width="0.8" opacity="0.70"/><circle cx="689.5" cy="410.9" r="1.4" fill="#bcd6aa" stroke="#9cc284" stroke-width="0.8" opacity="0.70"/><circle cx="694.9" cy="416.3" r="1.4" fill="#bcd6aa" stroke="#9cc284" stroke-width="0.8" opacity="0.70"/><circle cx="702.4" cy="427.6" r="1.4" fill="#bcd6aa" stroke="#9cc284" stroke-width="0.8" opacity="0.70"/><circle cx="706.9" cy="416.3" r="1.4" fill="#bcd6aa" stroke="#9cc284" stroke-width="0.8" opacity="0.70"/><circle cx="712.4" cy="421.8" r="1.4" fill="#bcd6aa" stroke="#9cc284" stroke-width="0.8" opacity="0.70"/><circle cx="720.5" cy="425.1" r="1.4" fill="#bcd6aa" stroke="#9cc284" stroke-width="0.8" opacity="0.70"/><circle cx="724.1" cy="417.0" r="1.4" fill="#bcd6aa" stroke="#9cc284" stroke-width="0.8" opacity="0.70"/><circle cx="731.7" cy="421.8" r="1.4" fill="#bcd6aa" stroke="#9cc284" stroke-width="0.8" opacity="0.70"/><circle cx="733.9" cy="430.6" r="1.4" fill="#bcd6aa" stroke="#9cc284" stroke-width="0.8" opacity="0.70"/><circle cx="739.5" cy="433.5" r="1.4" fill="#bcd6aa" stroke="#9cc284" stroke-width="0.8" opacity="0.70"/><circle cx="743.4" cy="429.7" r="1.4" fill="#bcd6aa" stroke="#9cc284" stroke-width="0.8" opacity="0.70"/><circle cx="749.3" cy="433.4" r="1.4" fill="#bcd6aa" stroke="#9cc284" stroke-width="0.8" opacity="0.70"/><circle cx="749.4" cy="425.3" r="1.4" fill="#bcd6aa" stroke="#9cc284" stroke-width="0.8" opacity="0.70"/><circle cx="756.9" cy="422.9" r="1.4" fill="#bcd6aa" stroke="#9cc284" stroke-width="0.8" opacity="0.70"/><circle cx="759.5" cy="419.8" r="1.4" fill="#bcd6aa" stroke="#9cc284" stroke-width="0.8" opacity="0.70"/><circle cx="571.9" cy="430.3" r="1.4" fill="#8cc29a" stroke="#5ea872" stroke-width="0.8" opacity="0.80"/><circle cx="579.8" cy="430.0" r="1.4" fill="#8cc29a" stroke="#5ea872" stroke-width="0.8" opacity="0.80"/><circle cx="582.5" cy="431.5" r="1.4" fill="#8cc29a" stroke="#5ea872" stroke-width="0.8" opacity="0.80"/><circle cx="588.5" cy="427.5" r="1.4" fill="#8cc29a" stroke="#5ea872" stroke-width="0.8" opacity="0.80"/><circle cx="596.3" cy="429.1" r="1.4" fill="#8cc29a" stroke="#5ea872" stroke-width="0.8" opacity="0.80"/><circle cx="600.3" cy="427.0" r="1.4" fill="#8cc29a" stroke="#5ea872" stroke-width="0.8" opacity="0.80"/><circle cx="603.6" cy="432.8" r="1.4" fill="#8cc29a" stroke="#5ea872" stroke-width="0.8" opacity="0.80"/><circle cx="611.7" cy="433.3" r="1.4" fill="#8cc29a" stroke="#5ea872" stroke-width="0.8" opacity="0.80"/><circle cx="613.3" cy="439.5" r="1.4" fill="#8cc29a" stroke="#5ea872" stroke-width="0.8" opacity="0.80"/><circle cx="625.0" cy="430.1" r="1.4" fill="#8cc29a" stroke="#5ea872" stroke-width="0.8" opacity="0.80"/><circle cx="633.4" cy="427.7" r="1.4" fill="#8cc29a" stroke="#5ea872" stroke-width="0.8" opacity="0.80"/><circle cx="637.5" cy="423.9" r="1.4" fill="#8cc29a" stroke="#5ea872" stroke-width="0.8" opacity="0.80"/><circle cx="640.5" cy="434.9" r="1.4" fill="#8cc29a" stroke="#5ea872" stroke-width="0.8" opacity="0.80"/><circle cx="650.5" cy="428.9" r="1.4" fill="#8cc29a" stroke="#5ea872" stroke-width="0.8" opacity="0.80"/><circle cx="653.4" cy="431.3" r="1.4" fill="#8cc29a" stroke="#5ea872" stroke-width="0.8" opacity="0.80"/><circle cx="658.2" cy="429.4" r="1.4" fill="#8cc29a" stroke="#5ea872" stroke-width="0.8" opacity="0.80"/><circle cx="670.3" cy="420.5" r="1.4" fill="#8cc29a" stroke="#5ea872" stroke-width="0.8" opacity="0.80"/><circle cx="674.3" cy="424.7" r="1.4" fill="#8cc29a" stroke="#5ea872" stroke-width="0.8" opacity="0.80"/><circle cx="678.6" cy="428.6" r="1.4" fill="#8cc29a" stroke="#5ea872" stroke-width="0.8" opacity="0.80"/><circle cx="687.0" cy="436.3" r="1.4" fill="#8cc29a" stroke="#5ea872" stroke-width="0.8" opacity="0.80"/><circle cx="689.6" cy="423.0" r="1.4" fill="#8cc29a" stroke="#5ea872" stroke-width="0.8" opacity="0.80"/><circle cx="694.6" cy="425.6" r="1.4" fill="#8cc29a" stroke="#5ea872" stroke-width="0.8" opacity="0.80"/><circle cx="703.2" cy="433.4" r="1.4" fill="#8cc29a" stroke="#5ea872" stroke-width="0.8" opacity="0.80"/><circle cx="707.5" cy="423.8" r="1.4" fill="#8cc29a" stroke="#5ea872" stroke-width="0.8" opacity="0.80"/><circle cx="711.8" cy="438.5" r="1.4" fill="#8cc29a" stroke="#5ea872" stroke-width="0.8" opacity="0.80"/><circle cx="720.6" cy="418.8" r="1.4" fill="#8cc29a" stroke="#5ea872" stroke-width="0.8" opacity="0.80"/><circle cx="723.8" cy="426.3" r="1.4" fill="#8cc29a" stroke="#5ea872" stroke-width="0.8" opacity="0.80"/><circle cx="732.5" cy="428.1" r="1.4" fill="#8cc29a" stroke="#5ea872" stroke-width="0.8" opacity="0.80"/><circle cx="734.1" cy="425.9" r="1.4" fill="#8cc29a" stroke="#5ea872" stroke-width="0.8" opacity="0.80"/><circle cx="740.4" cy="422.5" r="1.4" fill="#8cc29a" stroke="#5ea872" stroke-width="0.8" opacity="0.80"/><circle cx="742.3" cy="425.5" r="1.4" fill="#8cc29a" stroke="#5ea872" stroke-width="0.8" opacity="0.80"/><circle cx="744.0" cy="439.9" r="1.4" fill="#8cc29a" stroke="#5ea872" stroke-width="0.8" opacity="0.80"/><circle cx="750.3" cy="424.8" r="1.4" fill="#8cc29a" stroke="#5ea872" stroke-width="0.8" opacity="0.80"/><circle cx="757.2" cy="417.3" r="1.4" fill="#8cc29a" stroke="#5ea872" stroke-width="0.8" opacity="0.80"/><circle cx="760.1" cy="428.0" r="1.4" fill="#8cc29a" stroke="#5ea872" stroke-width="0.8" opacity="0.80"/><circle cx="620.1" cy="398.6" r="1.4" fill="#9a9ac0" stroke="#7474a4" stroke-width="0.8" opacity="0.80"/><circle cx="624.5" cy="402.1" r="1.4" fill="#9a9ac0" stroke="#7474a4" stroke-width="0.8" opacity="0.80"/><circle cx="637.5" cy="406.3" r="1.4" fill="#9a9ac0" stroke="#7474a4" stroke-width="0.8" opacity="0.80"/><circle cx="640.7" cy="401.1" r="1.4" fill="#9a9ac0" stroke="#7474a4" stroke-width="0.8" opacity="0.80"/><circle cx="650.1" cy="405.6" r="1.4" fill="#9a9ac0" stroke="#7474a4" stroke-width="0.8" opacity="0.80"/><circle cx="652.6" cy="409.7" r="1.4" fill="#9a9ac0" stroke="#7474a4" stroke-width="0.8" opacity="0.80"/><circle cx="657.6" cy="402.6" r="1.4" fill="#9a9ac0" stroke="#7474a4" stroke-width="0.8" opacity="0.80"/><circle cx="670.6" cy="397.7" r="1.4" fill="#9a9ac0" stroke="#7474a4" stroke-width="0.8" opacity="0.80"/><circle cx="678.1" cy="397.1" r="1.4" fill="#9a9ac0" stroke="#7474a4" stroke-width="0.8" opacity="0.80"/><circle cx="690.2" cy="400.8" r="1.4" fill="#9a9ac0" stroke="#7474a4" stroke-width="0.8" opacity="0.80"/><circle cx="694.7" cy="393.3" r="1.4" fill="#9a9ac0" stroke="#7474a4" stroke-width="0.8" opacity="0.80"/><circle cx="703.1" cy="393.2" r="1.4" fill="#9a9ac0" stroke="#7474a4" stroke-width="0.8" opacity="0.80"/><circle cx="706.4" cy="383.8" r="1.4" fill="#9a9ac0" stroke="#7474a4" stroke-width="0.8" opacity="0.80"/><circle cx="712.1" cy="369.9" r="1.4" fill="#9a9ac0" stroke="#7474a4" stroke-width="0.8" opacity="0.80"/><circle cx="720.5" cy="384.0" r="1.4" fill="#9a9ac0" stroke="#7474a4" stroke-width="0.8" opacity="0.80"/><circle cx="723.9" cy="385.1" r="1.4" fill="#9a9ac0" stroke="#7474a4" stroke-width="0.8" opacity="0.80"/><circle cx="731.6" cy="386.3" r="1.4" fill="#9a9ac0" stroke="#7474a4" stroke-width="0.8" opacity="0.80"/><circle cx="734.3" cy="375.5" r="1.4" fill="#9a9ac0" stroke="#7474a4" stroke-width="0.8" opacity="0.80"/><circle cx="742.4" cy="372.9" r="1.4" fill="#9a9ac0" stroke="#7474a4" stroke-width="0.8" opacity="0.80"/><circle cx="749.6" cy="373.1" r="1.4" fill="#9a9ac0" stroke="#7474a4" stroke-width="0.8" opacity="0.80"/><circle cx="750.6" cy="355.3" r="1.4" fill="#9a9ac0" stroke="#7474a4" stroke-width="0.8" opacity="0.80"/><circle cx="757.5" cy="360.9" r="1.4" fill="#9a9ac0" stroke="#7474a4" stroke-width="0.8" opacity="0.80"/><circle cx="760.0" cy="369.5" r="1.4" fill="#9a9ac0" stroke="#7474a4" stroke-width="0.8" opacity="0.80"/><circle cx="150.9" cy="34.8" r="1.5" fill="#aeb2b6" stroke="#8a9096" stroke-width="0.9" opacity="1.00"/><circle cx="118.2" cy="46.1" r="1.5" fill="#aeb2b6" stroke="#8a9096" stroke-width="0.9" opacity="1.00"/><circle cx="134.5" cy="45.7" r="1.5" fill="#aeb2b6" stroke="#8a9096" stroke-width="0.9" opacity="1.00"/><circle cx="220.9" cy="44.5" r="1.5" fill="#aeb2b6" stroke="#8a9096" stroke-width="0.9" opacity="1.00"/><circle cx="171.6" cy="53.9" r="1.5" fill="#9dbde0" stroke="#6f97c2" stroke-width="0.9" opacity="1.00"/><circle cx="122.3" cy="59.3" r="1.5" fill="#aeb2b6" stroke="#8a9096" stroke-width="0.9" opacity="1.00"/><circle cx="122.7" cy="68.4" r="1.5" fill="#aeb2b6" stroke="#8a9096" stroke-width="0.9" opacity="1.00"/><circle cx="175.9" cy="68.4" r="1.5" fill="#aeb2b6" stroke="#8a9096" stroke-width="0.9" opacity="1.00"/><circle cx="212.5" cy="70.0" r="1.5" fill="#aeb2b6" stroke="#8a9096" stroke-width="0.9" opacity="1.00"/><circle cx="101.6" cy="76.6" r="1.5" fill="#aeb2b6" stroke="#8a9096" stroke-width="0.9" opacity="1.00"/><circle cx="95.5" cy="80.2" r="1.5" fill="#9dbde0" stroke="#6f97c2" stroke-width="0.9" opacity="1.00"/><circle cx="164.1" cy="75.7" r="1.5" fill="#9dbde0" stroke="#6f97c2" stroke-width="0.9" opacity="1.00"/><circle cx="159.5" cy="82.0" r="1.5" fill="#aeb2b6" stroke="#8a9096" stroke-width="0.9" opacity="1.00"/><circle cx="224.5" cy="80.5" r="1.5" fill="#aeb2b6" stroke="#8a9096" stroke-width="0.9" opacity="1.00"/><circle cx="101.6" cy="92.3" r="1.5" fill="#aeb2b6" stroke="#8a9096" stroke-width="0.9" opacity="1.00"/><circle cx="130.5" cy="93.4" r="1.5" fill="#aeb2b6" stroke="#8a9096" stroke-width="0.9" opacity="1.00"/><circle cx="163.0" cy="96.8" r="1.5" fill="#aeb2b6" stroke="#8a9096" stroke-width="0.9" opacity="1.00"/><circle cx="178.9" cy="89.8" r="1.5" fill="#aeb2b6" stroke="#8a9096" stroke-width="0.9" opacity="1.00"/><circle cx="187.5" cy="91.1" r="1.5" fill="#9dbde0" stroke="#6f97c2" stroke-width="0.9" opacity="1.00"/><circle cx="191.4" cy="93.9" r="1.5" fill="#aeb2b6" stroke="#8a9096" stroke-width="0.9" opacity="1.00"/><circle cx="204.5" cy="85.9" r="1.5" fill="#aeb2b6" stroke="#8a9096" stroke-width="0.9" opacity="1.00"/><circle cx="204.1" cy="91.6" r="1.5" fill="#aeb2b6" stroke="#8a9096" stroke-width="0.9" opacity="1.00"/><circle cx="229.3" cy="101.4" r="1.5" fill="#aeb2b6" stroke="#8a9096" stroke-width="0.9" opacity="1.00"/><circle cx="241.8" cy="105.5" r="1.5" fill="#aeb2b6" stroke="#8a9096" stroke-width="0.9" opacity="1.00"/><circle cx="245.9" cy="90.7" r="1.5" fill="#aeb2b6" stroke="#8a9096" stroke-width="0.9" opacity="1.00"/><circle cx="260.0" cy="95.0" r="1.5" fill="#9dbde0" stroke="#6f97c2" stroke-width="0.9" opacity="1.00"/><circle cx="278.2" cy="99.5" r="1.5" fill="#9dbde0" stroke="#6f97c2" stroke-width="0.9" opacity="1.00"/><circle cx="184.1" cy="105.9" r="1.5" fill="#aeb2b6" stroke="#8a9096" stroke-width="0.9" opacity="1.00"/><circle cx="167.7" cy="109.8" r="1.5" fill="#aeb2b6" stroke="#8a9096" stroke-width="0.9" opacity="1.00"/><circle cx="259.1" cy="108.0" r="1.5" fill="#9dbde0" stroke="#6f97c2" stroke-width="0.9" opacity="1.00"/><circle cx="266.4" cy="119.1" r="1.5" fill="#aeb2b6" stroke="#8a9096" stroke-width="0.9" opacity="1.00"/><circle cx="274.8" cy="114.3" r="1.5" fill="#aeb2b6" stroke="#8a9096" stroke-width="0.9" opacity="1.00"/><circle cx="295.5" cy="115.0" r="1.5" fill="#aeb2b6" stroke="#8a9096" stroke-width="0.9" opacity="1.00"/><circle cx="311.4" cy="105.9" r="1.5" fill="#aeb2b6" stroke="#8a9096" stroke-width="0.9" opacity="1.00"/><circle cx="320.2" cy="105.9" r="1.5" fill="#aeb2b6" stroke="#8a9096" stroke-width="0.9" opacity="1.00"/><circle cx="189.1" cy="129.5" r="1.5" fill="#aeb2b6" stroke="#8a9096" stroke-width="0.9" opacity="1.00"/><circle cx="348.0" cy="92.0" r="1.5" fill="#9dbde0" stroke="#6f97c2" stroke-width="0.9" opacity="1.00"/><circle cx="320.0" cy="106.1" r="1.5" fill="#aeb2b6" stroke="#8a9096" stroke-width="0.9" opacity="1.00"/><circle cx="369.5" cy="114.5" r="1.5" fill="#9dbde0" stroke="#6f97c2" stroke-width="0.9" opacity="1.00"/><circle cx="390.9" cy="114.5" r="1.5" fill="#aeb2b6" stroke="#8a9096" stroke-width="0.9" opacity="1.00"/><circle cx="381.8" cy="135.7" r="1.5" fill="#9dbde0" stroke="#6f97c2" stroke-width="0.9" opacity="1.00"/><circle cx="328.2" cy="145.9" r="1.5" fill="#aeb2b6" stroke="#8a9096" stroke-width="0.9" opacity="1.00"/><circle cx="328.2" cy="152.3" r="1.5" fill="#aeb2b6" stroke="#8a9096" stroke-width="0.9" opacity="1.00"/><circle cx="345.0" cy="146.6" r="1.5" fill="#aeb2b6" stroke="#8a9096" stroke-width="0.9" opacity="1.00"/><circle cx="353.0" cy="150.5" r="1.5" fill="#9dbde0" stroke="#6f97c2" stroke-width="0.9" opacity="1.00"/><circle cx="365.5" cy="161.1" r="1.5" fill="#aeb2b6" stroke="#8a9096" stroke-width="0.9" opacity="1.00"/><circle cx="336.4" cy="169.8" r="1.5" fill="#aeb2b6" stroke="#8a9096" stroke-width="0.9" opacity="1.00"/><circle cx="401.8" cy="150.5" r="1.5" fill="#aeb2b6" stroke="#8a9096" stroke-width="0.9" opacity="1.00"/><circle cx="389.3" cy="157.7" r="1.5" fill="#aeb2b6" stroke="#8a9096" stroke-width="0.9" opacity="1.00"/><circle cx="411.4" cy="165.9" r="1.5" fill="#aeb2b6" stroke="#8a9096" stroke-width="0.9" opacity="1.00"/><circle cx="406.4" cy="185.7" r="1.5" fill="#aeb2b6" stroke="#8a9096" stroke-width="0.9" opacity="1.00"/><circle cx="422.3" cy="186.8" r="1.5" fill="#aeb2b6" stroke="#8a9096" stroke-width="0.9" opacity="1.00"/><circle cx="439.3" cy="188.0" r="1.5" fill="#aeb2b6" stroke="#8a9096" stroke-width="0.9" opacity="1.00"/><circle cx="508.6" cy="193.6" r="1.5" fill="#aeb2b6" stroke="#8a9096" stroke-width="0.9" opacity="1.00"/><circle cx="542.0" cy="195.5" r="1.5" fill="#9dbde0" stroke="#6f97c2" stroke-width="0.9" opacity="1.00"/><circle cx="455.7" cy="205.7" r="1.5" fill="#aeb2b6" stroke="#8a9096" stroke-width="0.9" opacity="1.00"/><circle cx="472.7" cy="204.5" r="1.5" fill="#aeb2b6" stroke="#8a9096" stroke-width="0.9" opacity="1.00"/><circle cx="492.7" cy="205.7" r="1.5" fill="#aeb2b6" stroke="#8a9096" stroke-width="0.9" opacity="1.00"/><circle cx="571.6" cy="200.7" r="1.5" fill="#aeb2b6" stroke="#8a9096" stroke-width="0.9" opacity="1.00"/><circle cx="583.0" cy="203.6" r="1.5" fill="#aeb2b6" stroke="#8a9096" stroke-width="0.9" opacity="1.00"/><circle cx="588.0" cy="199.1" r="1.5" fill="#aeb2b6" stroke="#8a9096" stroke-width="0.9" opacity="1.00"/><circle cx="480.7" cy="218.4" r="1.5" fill="#aeb2b6" stroke="#8a9096" stroke-width="0.9" opacity="1.00"/><circle cx="517.7" cy="213.6" r="1.5" fill="#aeb2b6" stroke="#8a9096" stroke-width="0.9" opacity="1.00"/><circle cx="526.8" cy="210.9" r="1.5" fill="#9dbde0" stroke="#6f97c2" stroke-width="0.9" opacity="1.00"/><circle cx="529.5" cy="222.7" r="1.5" fill="#aeb2b6" stroke="#8a9096" stroke-width="0.9" opacity="1.00"/><circle cx="535.2" cy="220.0" r="1.5" fill="#9dbde0" stroke="#6f97c2" stroke-width="0.9" opacity="1.00"/><circle cx="550.5" cy="213.9" r="1.5" fill="#aeb2b6" stroke="#8a9096" stroke-width="0.9" opacity="1.00"/><circle cx="566.4" cy="209.3" r="1.5" fill="#9dbde0" stroke="#6f97c2" stroke-width="0.9" opacity="1.00"/><circle cx="599.5" cy="214.8" r="1.5" fill="#aeb2b6" stroke="#8a9096" stroke-width="0.9" opacity="1.00"/><circle cx="612.5" cy="213.6" r="1.5" fill="#9dbde0" stroke="#6f97c2" stroke-width="0.9" opacity="1.00"/><circle cx="443.6" cy="228.6" r="1.5" fill="#9dbde0" stroke="#6f97c2" stroke-width="0.9" opacity="1.00"/><circle cx="489.1" cy="233.9" r="1.5" fill="#aeb2b6" stroke="#8a9096" stroke-width="0.9" opacity="1.00"/><circle cx="497.3" cy="227.5" r="1.5" fill="#aeb2b6" stroke="#8a9096" stroke-width="0.9" opacity="1.00"/><circle cx="505.7" cy="228.6" r="1.5" fill="#aeb2b6" stroke="#8a9096" stroke-width="0.9" opacity="1.00"/><circle cx="550.0" cy="235.0" r="1.5" fill="#aeb2b6" stroke="#8a9096" stroke-width="0.9" opacity="1.00"/><circle cx="559.1" cy="231.4" r="1.5" fill="#aeb2b6" stroke="#8a9096" stroke-width="0.9" opacity="1.00"/><circle cx="579.5" cy="237.7" r="1.5" fill="#aeb2b6" stroke="#8a9096" stroke-width="0.9" opacity="1.00"/><circle cx="595.9" cy="233.2" r="1.5" fill="#9dbde0" stroke="#6f97c2" stroke-width="0.9" opacity="1.00"/><circle cx="604.1" cy="242.3" r="1.5" fill="#aeb2b6" stroke="#8a9096" stroke-width="0.9" opacity="1.00"/><circle cx="620.0" cy="237.7" r="1.5" fill="#9dbde0" stroke="#6f97c2" stroke-width="0.9" opacity="1.00"/><circle cx="641.4" cy="237.7" r="1.5" fill="#aeb2b6" stroke="#8a9096" stroke-width="0.9" opacity="1.00"/><circle cx="649.5" cy="248.0" r="1.5" fill="#9dbde0" stroke="#6f97c2" stroke-width="0.9" opacity="1.00"/><circle cx="419.3" cy="241.6" r="1.5" fill="#aeb2b6" stroke="#8a9096" stroke-width="0.9" opacity="1.00"/><circle cx="427.7" cy="238.2" r="1.5" fill="#9dbde0" stroke="#6f97c2" stroke-width="0.9" opacity="1.00"/><circle cx="451.8" cy="238.2" r="1.5" fill="#aeb2b6" stroke="#8a9096" stroke-width="0.9" opacity="1.00"/><circle cx="464.3" cy="249.5" r="1.5" fill="#aeb2b6" stroke="#8a9096" stroke-width="0.9" opacity="1.00"/><circle cx="435.2" cy="254.5" r="1.5" fill="#aeb2b6" stroke="#8a9096" stroke-width="0.9" opacity="1.00"/><circle cx="476.1" cy="256.4" r="1.5" fill="#aeb2b6" stroke="#8a9096" stroke-width="0.9" opacity="1.00"/><circle cx="613.0" cy="269.2" r="1.5" fill="#aeb2b6" stroke="#8a9096" stroke-width="0.9" opacity="1.00"/><circle cx="625.0" cy="276.6" r="1.5" fill="#aeb2b6" stroke="#8a9096" stroke-width="0.9" opacity="1.00"/><circle cx="633.0" cy="264.6" r="1.5" fill="#9dbde0" stroke="#6f97c2" stroke-width="0.9" opacity="1.00"/><circle cx="638.4" cy="265.6" r="1.5" fill="#9dbde0" stroke="#6f97c2" stroke-width="0.9" opacity="1.00"/><circle cx="678.4" cy="262.0" r="1.5" fill="#aeb2b6" stroke="#8a9096" stroke-width="0.9" opacity="1.00"/><circle cx="686.8" cy="261.0" r="1.5" fill="#aeb2b6" stroke="#8a9096" stroke-width="0.9" opacity="1.00"/><circle cx="694.8" cy="262.0" r="1.5" fill="#aeb2b6" stroke="#8a9096" stroke-width="0.9" opacity="1.00"/><circle cx="720.4" cy="265.6" r="1.5" fill="#aeb2b6" stroke="#8a9096" stroke-width="0.9" opacity="1.00"/><circle cx="723.6" cy="280.2" r="1.5" fill="#aeb2b6" stroke="#8a9096" stroke-width="0.9" opacity="1.00"/><circle cx="750.4" cy="255.4" r="1.5" fill="#aeb2b6" stroke="#8a9096" stroke-width="0.9" opacity="1.00"/><circle cx="757.2" cy="260.0" r="1.5" fill="#aeb2b6" stroke="#8a9096" stroke-width="0.9" opacity="1.00"/><circle cx="673.6" cy="212.7" r="1.5" fill="#aeb2b6" stroke="#8a9096" stroke-width="0.9" opacity="1.00"/><circle cx="739.5" cy="201.8" r="1.5" fill="#9dbde0" stroke="#6f97c2" stroke-width="0.9" opacity="1.00"/><circle cx="748.6" cy="207.5" r="1.5" fill="#aeb2b6" stroke="#8a9096" stroke-width="0.9" opacity="1.00"/><circle cx="741.8" cy="220.5" r="1.5" fill="#aeb2b6" stroke="#8a9096" stroke-width="0.9" opacity="1.00"/><circle cx="743.6" cy="222.3" r="1.5" fill="#aeb2b6" stroke="#8a9096" stroke-width="0.9" opacity="1.00"/><circle cx="760.2" cy="225.7" r="1.5" fill="#aeb2b6" stroke="#8a9096" stroke-width="0.9" opacity="1.00"/><circle cx="652.7" cy="229.5" r="1.5" fill="#aeb2b6" stroke="#8a9096" stroke-width="0.9" opacity="1.00"/><circle cx="657.7" cy="225.7" r="1.5" fill="#aeb2b6" stroke="#8a9096" stroke-width="0.9" opacity="1.00"/><circle cx="670.0" cy="233.2" r="1.5" fill="#aeb2b6" stroke="#8a9096" stroke-width="0.9" opacity="1.00"/><circle cx="690.0" cy="228.6" r="1.5" fill="#aeb2b6" stroke="#8a9096" stroke-width="0.9" opacity="1.00"/><circle cx="703.0" cy="228.6" r="1.5" fill="#aeb2b6" stroke="#8a9096" stroke-width="0.9" opacity="1.00"/><circle cx="707.0" cy="223.0" r="1.5" fill="#aeb2b6" stroke="#8a9096" stroke-width="0.9" opacity="1.00"/><circle cx="712.0" cy="233.2" r="1.5" fill="#aeb2b6" stroke="#8a9096" stroke-width="0.9" opacity="1.00"/><circle cx="731.8" cy="238.2" r="1.5" fill="#9dbde0" stroke="#6f97c2" stroke-width="0.9" opacity="1.00"/><circle cx="734.1" cy="245.7" r="1.5" fill="#aeb2b6" stroke="#8a9096" stroke-width="0.9" opacity="1.00"/><circle cx="757.4" cy="316.7" r="1.5" fill="#aeb2b6" stroke="#8a9096" stroke-width="0.9" opacity="1.00"/><circle cx="723.7" cy="344.6" r="1.5" fill="#aeb2b6" stroke="#8a9096" stroke-width="0.9" opacity="1.00"/><circle cx="759.9" cy="346.4" r="1.5" fill="#aeb2b6" stroke="#8a9096" stroke-width="0.9" opacity="1.00"/><circle cx="246.0" cy="90.6" r="1.5" fill="#9dbde0" stroke="#6f97c2" stroke-width="0.9" opacity="1.00"/><circle cx="260.0" cy="94.9" r="1.5" fill="#9dbde0" stroke="#6f97c2" stroke-width="0.9" opacity="1.00"/><circle cx="277.9" cy="99.7" r="1.5" fill="#9dbde0" stroke="#6f97c2" stroke-width="0.9" opacity="1.00"/><circle cx="230.0" cy="101.9" r="1.5" fill="#aeb2b6" stroke="#8a9096" stroke-width="0.9" opacity="1.00"/><circle cx="241.8" cy="105.1" r="1.5" fill="#aeb2b6" stroke="#8a9096" stroke-width="0.9" opacity="1.00"/><circle cx="258.8" cy="108.2" r="1.5" fill="#9dbde0" stroke="#6f97c2" stroke-width="0.9" opacity="1.00"/><circle cx="274.6" cy="114.6" r="1.5" fill="#aeb2b6" stroke="#8a9096" stroke-width="0.9" opacity="1.00"/><circle cx="282.8" cy="140.1" r="1.5" fill="#aeb2b6" stroke="#8a9096" stroke-width="0.9" opacity="1.00"/><circle cx="299.2" cy="144.1" r="1.5" fill="#aeb2b6" stroke="#8a9096" stroke-width="0.9" opacity="1.00"/><circle cx="307.9" cy="147.4" r="1.5" fill="#9dbde0" stroke="#6f97c2" stroke-width="0.9" opacity="1.00"/><circle cx="344.6" cy="146.8" r="1.5" fill="#aeb2b6" stroke="#8a9096" stroke-width="0.9" opacity="1.00"/></g>
<path d="M87.3,117.8 L91.4,121.9 L87.3,126.0 L83.2,121.9 Z" fill="#7896b9" fill-opacity="0.95"/>
<path d="M87.2,219.0 L91.2,223.0 L87.2,227.0 L83.2,223.0 Z" fill="#efe6a0" fill-opacity="0.60"/>
<path d="M87.2,373.2 L91.2,377.2 L87.2,381.2 L83.2,377.2 Z" fill="#ae8aaa" fill-opacity="0.80"/>
<path d="M87.2,394.6 L91.2,398.6 L87.2,402.6 L83.2,398.6 Z" fill="#eba8b8" fill-opacity="0.80"/>
<path d="M86.6,403.6 L90.6,407.6 L86.6,411.6 L82.6,407.6 Z" fill="#a6d2c6" fill-opacity="0.70"/>
<path d="M87.2,409.6 L91.2,413.6 L87.2,417.6 L83.2,413.6 Z" fill="#aca4d2" fill-opacity="0.75"/>
<path d="M86.4,421.6 L90.4,425.6 L86.4,429.6 L82.4,425.6 Z" fill="#7a9a88" fill-opacity="0.85"/>
<line x1="87.1" x2="947" y1="402.86" y2="402.86" stroke="#474747" stroke-width="1.7" stroke-dasharray="5.1,4.556"/>
<path d="M87.2,88.2 C89.4,87.1 95.8,83.2 100.4,81.5 C105.0,79.8 109.0,78.8 114.8,78.0 C120.6,77.2 128.4,76.3 135.2,76.4 C142.0,76.5 150.1,77.6 155.6,78.4 C161.1,79.2 162.8,80.2 167.9,81.5 C173.0,82.8 181.2,85.2 186.3,86.2 C191.4,87.2 192.5,86.7 198.6,87.4 C204.7,88.1 215.9,89.2 223.1,90.3 C230.2,91.3 237.1,92.6 241.5,93.7 C245.9,94.8 245.9,94.6 249.7,96.8 C253.4,99.0 259.6,103.8 264.0,107.0 C268.4,110.2 272.0,113.1 276.3,116.2 C280.6,119.3 285.0,123.1 290.0,125.6 C295.0,128.1 300.3,129.8 306.4,131.1 C312.5,132.4 320.7,132.8 326.8,133.7 C332.9,134.6 338.1,136.2 343.2,136.8 C348.3,137.4 353.8,136.8 357.5,137.4 C361.2,138.0 362.9,139.1 365.6,140.5 C368.3,141.9 370.7,143.7 373.8,146.0 C376.9,148.3 380.6,151.1 384.0,154.2 C387.4,157.3 390.9,160.2 394.3,164.4 C397.7,168.7 400.5,174.5 404.5,179.7 C408.5,184.8 414.0,190.5 418.4,195.3 C422.8,200.1 426.6,204.2 430.7,208.6 C434.8,213.0 438.8,218.9 442.9,221.9 C447.0,224.9 449.9,225.5 455.2,226.6 C460.5,227.7 468.8,229.2 474.6,228.7 C480.4,228.1 483.7,225.0 490.0,223.3 C496.3,221.6 506.3,219.7 512.4,218.4 C518.5,217.2 522.0,216.8 526.8,215.8 C531.6,214.9 536.3,213.1 541.1,212.7 C545.9,212.3 550.6,212.6 555.4,213.3 C560.2,214.0 565.6,215.5 569.7,216.8 C573.8,218.1 575.8,218.7 579.9,220.9 C584.0,223.1 590.1,227.9 594.2,230.1 C598.3,232.3 600.1,232.3 604.5,234.2 C608.9,236.1 616.0,239.7 620.4,241.3 C624.8,242.9 627.3,243.3 630.7,244.0 C634.1,244.7 637.1,245.1 640.9,245.4 C644.6,245.7 648.8,246.1 653.2,246.0 C657.6,245.9 661.7,245.7 667.5,245.0 C673.3,244.3 681.1,242.6 687.9,241.7 C694.7,240.8 700.9,240.5 708.4,239.7 C715.9,238.9 724.2,237.9 732.9,236.8 C741.6,235.7 755.9,233.8 760.5,233.2" fill="none" stroke="#0a58a0" stroke-width="2.2" stroke-linecap="butt" stroke-linejoin="round"/>
<path d="M87.2,206.9 C89.4,205.0 95.8,199.2 100.4,195.6 C105.0,192.0 109.7,188.1 114.8,185.4 C119.9,182.7 125.6,180.7 131.1,179.3 C136.5,177.9 141.7,177.2 147.5,176.8 C153.3,176.4 160.1,176.1 165.9,176.8 C171.7,177.5 177.4,179.3 182.2,180.9 C187.0,182.5 191.1,184.9 194.5,186.4 C197.9,187.9 197.9,189.2 202.7,190.1 C207.5,191.0 216.6,191.9 223.1,191.6 C229.6,191.3 236.4,190.4 241.5,188.5 C246.6,186.6 250.4,182.8 253.8,180.3 C257.2,177.8 258.2,175.7 262.0,173.6 C265.8,171.5 271.6,169.7 276.3,168.0 C281.0,166.3 284.3,164.9 290.0,163.4 C295.7,161.9 303.6,159.8 310.4,158.9 C317.2,158.0 324.1,158.7 330.9,157.9 C337.7,157.1 344.5,155.7 351.3,154.2 C358.1,152.7 365.7,150.9 371.8,148.7 C377.9,146.5 382.7,143.6 388.1,140.9 C393.6,138.2 399.0,135.4 404.5,132.7 C410.0,130.0 415.4,127.7 420.9,124.5 C426.3,121.3 431.6,116.6 437.2,113.3 C442.8,110.0 448.7,106.7 454.3,104.5 C459.9,102.3 466.3,101.0 470.7,100.4 C475.1,99.8 476.8,100.2 480.9,101.1 C485.0,102.0 490.4,103.5 495.2,105.6 C500.0,107.7 504.7,111.2 509.5,113.7 C514.3,116.2 519.7,118.6 523.8,120.9 C527.9,123.2 530.9,125.7 534.0,127.4 C537.1,129.1 537.4,130.4 542.2,131.1 C547.0,131.8 555.9,131.4 562.7,131.5 C569.5,131.6 576.3,131.8 583.1,131.5 C589.9,131.2 597.4,129.5 603.6,129.5 C609.8,129.5 615.2,131.1 620.4,131.7 C625.6,132.3 629.0,132.8 634.8,133.3 C640.6,133.8 648.4,134.7 655.2,134.8 C662.0,134.9 670.2,133.7 675.6,133.7 C681.0,133.7 683.5,133.7 687.9,134.8 C692.3,135.9 697.4,138.3 702.2,140.5 C707.0,142.7 712.1,145.4 716.5,148.0 C720.9,150.6 724.7,152.8 728.8,156.2 C732.9,159.6 737.4,164.6 741.1,168.5 C744.9,172.4 748.2,176.3 751.3,179.7 C754.4,183.1 758.1,187.4 759.5,188.9" fill="none" stroke="#f4de0c" stroke-width="2.2" stroke-linecap="butt" stroke-linejoin="round"/>
<path d="M87.9,369.4 C91.1,368.4 100.8,365.2 107.0,363.3 C113.2,361.4 118.2,359.8 125.0,358.1 C131.8,356.4 140.0,354.4 147.5,353.2 C155.0,352.0 163.2,351.3 170.0,350.9 C176.8,350.5 182.8,350.9 188.0,350.7 C193.2,350.5 196.9,349.6 201.4,349.6 C205.9,349.6 209.7,350.0 214.9,350.7 C220.2,351.4 227.1,352.7 232.9,353.6 C238.8,354.5 244.7,355.2 250.0,355.9 C255.3,356.6 258.0,357.1 264.5,358.0 C271.0,358.9 280.9,360.1 289.1,361.0 C297.3,361.9 305.4,363.1 313.6,363.7 C321.8,364.3 330.7,365.1 338.1,364.9 C345.5,364.6 351.2,363.3 357.8,362.2 C364.4,361.1 371.7,359.1 377.4,358.0 C383.1,356.9 386.7,355.9 392.1,355.6 C397.5,355.3 404.6,356.0 410.0,356.3 C415.4,356.6 418.0,356.6 424.5,357.3 C431.0,358.0 440.9,359.6 449.1,360.5 C457.3,361.4 465.4,362.4 473.6,362.4 C481.8,362.4 490.7,360.7 498.1,360.5 C505.5,360.3 511.7,360.5 517.8,361.2 C523.9,361.9 529.2,363.5 534.9,364.7 C540.6,365.9 545.5,367.4 552.1,368.3 C558.7,369.2 566.7,369.7 574.5,370.3 C582.3,370.9 590.9,371.5 599.1,372.0 C607.3,372.5 615.4,372.9 623.6,373.5 C631.8,374.1 642.0,374.8 648.1,375.4 C654.2,375.9 654.9,376.1 660.4,376.8 C665.9,377.6 674.1,378.9 680.9,379.9 C687.7,380.9 694.5,381.9 701.3,382.9 C708.1,383.9 714.9,385.1 721.7,386.0 C728.5,386.9 735.9,387.8 742.2,388.6 C748.5,389.5 756.7,390.7 759.6,391.1" fill="none" stroke="#1a92c9" stroke-width="2.0" stroke-linecap="butt" stroke-linejoin="round"/>
<path d="M87.9,372.1 C90.3,372.0 96.3,371.8 102.5,371.2 C108.7,370.6 117.5,369.4 125.0,368.7 C132.5,367.9 140.0,367.3 147.5,366.7 C155.0,366.1 163.6,365.6 170.0,364.9 C176.4,364.2 181.2,363.4 185.7,362.6 C190.2,361.8 193.2,360.7 196.9,359.9 C200.7,359.1 203.3,358.2 208.2,357.7 C213.1,357.2 220.9,357.1 226.2,357.0 C231.5,356.9 233.6,356.6 240.0,356.8 C246.4,357.1 256.3,358.8 264.5,358.5 C272.7,358.2 280.9,356.1 289.1,355.1 C297.3,354.1 305.4,353.2 313.6,352.6 C321.8,352.0 329.9,351.6 338.1,351.4 C346.3,351.2 356.1,351.7 362.7,351.2 C369.2,350.7 372.5,349.5 377.4,348.2 C382.3,346.9 386.7,344.9 392.1,343.3 C397.5,341.7 404.8,339.7 409.8,338.4 C414.8,337.1 417.6,335.7 422.1,335.5 C426.6,335.3 431.9,335.9 436.8,337.2 C441.7,338.5 447.0,341.1 451.5,343.3 C456.0,345.6 459.3,348.2 463.8,350.7 C468.3,353.1 473.6,355.8 478.5,358.0 C483.4,360.2 488.7,363.1 493.2,364.2 C497.7,365.3 501.0,365.2 505.5,364.9 C510.0,364.6 515.3,363.8 520.2,362.2 C525.1,360.6 529.6,357.4 534.9,355.6 C540.2,353.8 545.5,352.5 552.1,351.4 C558.7,350.3 566.7,349.6 574.5,349.0 C582.3,348.4 590.9,348.0 599.1,347.7 C607.3,347.4 615.4,347.5 623.6,347.0 C631.8,346.5 642.0,344.9 648.1,344.5 C654.2,344.1 654.9,344.1 660.4,344.5 C665.9,344.9 674.1,345.9 680.9,347.2 C687.7,348.5 694.5,350.6 701.3,352.3 C708.1,354.0 714.9,355.5 721.7,357.4 C728.5,359.3 735.9,361.6 742.2,363.5 C748.5,365.4 756.7,367.8 759.6,368.6" fill="none" stroke="#cf0920" stroke-width="2.0" stroke-linecap="butt" stroke-linejoin="round"/>
<path d="M87.9,387.8 C92.2,387.5 103.8,386.7 113.7,386.2 C123.6,385.7 136.2,385.1 147.5,384.6 C158.8,384.2 171.8,383.9 181.2,383.5 C190.6,383.1 196.2,382.8 203.7,382.2 C211.2,381.6 218.5,380.5 226.2,379.9 C233.9,379.2 239.5,378.8 250.0,378.3 C260.5,377.8 274.4,377.4 289.1,376.9 C303.8,376.4 321.8,375.8 338.1,375.2 C354.5,374.6 375.2,374.2 387.2,373.5 C399.2,372.8 403.8,371.8 410.0,371.0 C416.2,370.2 418.0,369.3 424.5,368.6 C431.0,367.9 440.9,366.7 449.1,366.6 C457.3,366.5 465.4,366.6 473.6,367.8 C481.8,369.0 489.9,372.1 498.1,374.0 C506.3,375.9 514.5,377.5 522.7,378.9 C530.9,380.3 538.6,382.2 547.2,382.6 C555.8,383.0 565.9,382.0 574.5,381.3 C583.1,380.6 590.9,379.6 599.1,378.4 C607.3,377.2 615.4,375.1 623.6,374.0 C631.8,372.9 639.9,372.5 648.1,372.0 C656.3,371.5 664.5,371.0 672.7,370.8 C680.9,370.6 689.0,370.0 697.2,371.0 C705.4,372.0 714.2,375.0 721.7,376.8 C729.2,378.6 735.9,380.0 742.2,381.9 C748.5,383.8 756.7,387.0 759.6,388.0" fill="none" stroke="#ee5546" stroke-width="2.0" stroke-linecap="butt" stroke-linejoin="round"/>
<path d="M87.1,408.6 C89.5,409.5 96.6,412.5 101.8,414.1 C107.0,415.8 112.8,417.2 118.2,418.5 C123.7,419.8 129.1,420.8 134.5,421.7 C139.9,422.6 145.0,423.2 150.9,423.6 C156.8,424.0 161.8,424.2 170.0,424.3 C178.2,424.4 188.3,424.6 200.0,424.5 C211.7,424.4 225.2,424.0 240.0,423.5 C254.8,423.0 272.7,422.0 289.0,421.5 C305.3,421.0 321.7,420.8 338.0,420.5 C354.3,420.2 373.3,420.2 387.0,419.8 C400.7,419.4 410.2,418.3 420.0,417.9 C429.8,417.5 437.0,417.3 445.5,417.2 C454.0,417.1 462.4,417.6 470.9,417.5 C479.4,417.4 487.9,417.0 496.4,416.3 C504.9,415.6 514.4,414.4 521.8,413.3 C529.2,412.2 534.5,410.8 540.9,409.9 C547.3,408.9 552.7,407.9 560.0,407.6 C567.3,407.4 574.5,407.8 584.5,408.4 C594.5,409.0 609.1,409.9 620.0,411.0 C630.9,412.1 639.9,413.6 650.0,415.0 C660.1,416.4 668.9,418.4 680.9,419.5 C692.9,420.6 708.8,421.1 721.7,421.7 C734.6,422.2 752.4,422.6 758.5,422.8" fill="none" stroke="#88b86a" stroke-width="1.7" stroke-linecap="butt" stroke-linejoin="round"/>
<path d="M571.7,433.4 C575.9,433.1 588.5,432.0 596.8,431.5 C605.1,431.0 613.1,430.7 621.3,430.3 C629.5,429.9 636.1,429.6 645.9,429.4 C655.7,429.2 669.1,429.4 680.0,429.2 C690.9,428.9 702.8,428.5 711.5,427.9 C720.2,427.3 724.2,426.6 732.0,425.8 C739.8,425.0 754.1,423.3 758.5,422.8" fill="none" stroke="#0c8226" stroke-width="1.7" stroke-linecap="butt" stroke-linejoin="round"/>
<path d="M87.1,420.3 C89.5,419.7 95.7,418.3 101.8,416.8 C107.9,415.3 116.3,412.9 123.6,411.4 C130.9,409.9 138.2,408.8 145.5,407.9 C152.8,407.0 161.9,406.3 167.3,405.9 C172.8,405.5 174.6,405.6 178.2,405.7 C181.8,405.8 185.5,405.9 189.1,406.2 C192.7,406.5 195.7,407.0 200.0,407.5 C204.3,408.0 208.2,408.6 214.9,409.2 C221.6,409.8 228.9,410.9 240.0,410.8 C251.1,410.7 270.2,408.9 281.7,408.8 C293.1,408.7 299.3,409.9 308.7,410.3 C318.1,410.7 329.1,411.4 338.1,411.3 C347.1,411.2 354.5,410.3 362.7,409.5 C370.9,408.7 379.3,407.0 387.2,406.4 C395.1,405.8 404.5,405.8 410.0,405.9 C415.5,405.9 414.1,406.2 420.0,406.7 C425.9,407.1 437.0,408.3 445.5,408.6 C454.0,408.9 462.4,409.0 470.9,408.6 C479.4,408.2 489.0,407.2 496.4,406.1 C503.8,405.1 509.1,403.4 515.5,402.3 C521.9,401.2 527.1,399.9 534.5,399.7 C541.9,399.5 552.7,400.5 560.0,401.2 C567.3,401.9 572.3,403.2 578.4,403.9 C584.5,404.6 590.7,405.2 596.8,405.2 C602.9,405.2 609.1,404.6 615.2,403.9 C621.3,403.2 627.5,402.0 633.6,400.9 C639.7,399.8 645.9,398.6 652.0,397.2 C658.1,395.8 665.6,393.7 670.4,392.3 C675.2,390.9 675.8,390.1 680.9,389.0 C686.0,387.9 694.5,386.2 701.3,385.4 C708.1,384.5 714.9,384.2 721.7,383.9 C728.5,383.5 736.1,383.4 742.2,383.3 C748.3,383.2 755.8,383.3 758.5,383.3" fill="none" stroke="#7a5aa2" stroke-width="1.7" stroke-linecap="butt" stroke-linejoin="round"/>
<path d="M87.1,424.5 C89.5,424.1 95.7,423.1 101.8,422.3 C107.9,421.5 116.3,420.5 123.6,419.9 C130.9,419.3 138.2,418.9 145.5,418.7 C152.8,418.5 160.0,418.4 167.3,418.5 C174.6,418.6 181.2,419.2 189.1,419.5 C197.0,419.8 206.4,420.4 214.9,420.4 C223.4,420.4 227.6,420.1 240.0,419.4 C252.4,418.7 276.8,417.2 289.1,416.2 C301.4,415.2 305.4,413.8 313.6,413.2 C321.8,412.6 329.9,412.5 338.1,412.7 C346.3,412.9 354.5,414.2 362.7,414.5 C370.9,414.8 379.3,414.8 387.2,414.5 C395.1,414.2 404.5,413.4 410.0,412.7 C415.5,412.0 414.1,411.8 420.0,410.5 C425.9,409.2 437.0,406.4 445.5,404.8 C454.0,403.2 463.5,401.7 470.9,401.0 C478.3,400.3 483.6,400.3 490.0,400.7 C496.4,401.1 502.7,402.5 509.1,403.5 C515.5,404.5 521.8,405.8 528.2,406.7 C534.6,407.6 542.0,408.2 547.3,408.6 C552.6,409.0 553.8,409.1 560.0,409.3 C566.2,409.6 576.3,409.7 584.5,410.1 C592.7,410.5 600.9,411.2 609.1,411.7 C617.3,412.2 625.1,412.6 633.6,412.9 C642.1,413.1 652.5,413.0 660.4,413.2 C668.3,413.4 674.1,413.7 680.9,414.0 C687.7,414.3 694.5,415.1 701.3,415.2 C708.1,415.3 714.9,415.0 721.7,414.6 C728.5,414.2 736.1,413.3 742.2,412.6 C748.3,411.9 755.8,410.9 758.5,410.5" fill="none" stroke="#f39439" stroke-width="1.7" stroke-linecap="butt" stroke-linejoin="round"/>
<path d="M87.1,430.1 C91.4,429.8 103.0,428.9 112.7,428.3 C122.4,427.7 135.5,427.3 145.5,426.6 C155.5,425.9 163.6,424.5 172.7,423.9 C181.8,423.3 188.8,422.7 200.0,422.8 C211.2,422.9 225.2,424.6 240.0,424.3 C254.8,424.0 274.8,421.5 289.1,421.1 C303.4,420.7 315.7,421.2 325.9,421.8 C336.1,422.4 342.2,424.5 350.4,425.0 C358.6,425.5 367.9,425.6 374.9,425.0 C381.8,424.4 386.2,422.3 392.1,421.1 C398.0,419.9 404.6,418.7 410.0,417.6 C415.4,416.5 418.0,415.6 424.5,414.5 C431.0,413.4 440.9,411.6 449.1,410.8 C457.3,410.0 465.4,410.1 473.6,409.5 C481.8,408.9 492.2,407.4 498.1,407.1 C504.0,406.8 504.1,407.1 509.1,407.7 C514.1,408.3 522.9,409.4 528.2,410.5 C533.5,411.6 535.6,412.8 540.9,414.1 C546.2,415.4 553.8,417.4 560.0,418.5 C566.2,419.6 572.3,420.2 578.4,420.5 C584.5,420.8 590.7,420.7 596.8,420.5 C602.9,420.3 609.1,419.8 615.2,419.3 C621.3,418.8 628.5,417.8 633.6,417.4 C638.7,417.0 641.4,417.0 645.9,417.1 C650.4,417.2 654.6,417.6 660.4,417.9 C666.2,418.2 674.1,418.9 680.9,418.7 C687.7,418.5 694.5,417.5 701.3,416.6 C708.1,415.7 714.9,414.4 721.7,413.2 C728.5,411.9 736.1,410.5 742.2,409.1 C748.3,407.7 755.8,405.7 758.5,405.0" fill="none" stroke="#111111" stroke-width="1.7" stroke-linecap="butt" stroke-linejoin="round"/>
<path d="M87.1,426.6 C91.4,426.6 103.0,426.7 112.7,426.6 C122.4,426.5 136.4,426.1 145.5,425.8 C154.6,425.5 158.2,425.3 167.3,425.0 C176.4,424.7 187.9,424.7 200.0,424.2 C212.1,423.7 225.2,422.5 240.0,421.8 C254.8,421.1 272.8,420.3 289.1,420.1 C305.5,419.9 321.8,420.3 338.1,420.6 C354.5,420.9 375.2,421.5 387.2,421.8 C399.2,422.1 404.5,422.4 410.0,422.6 C415.5,422.9 414.1,423.7 420.0,423.3 C425.9,422.9 437.0,421.7 445.5,420.5 C454.0,419.3 462.4,418.2 470.9,416.3 C479.4,414.4 487.9,412.2 496.4,409.3 C504.9,406.4 514.4,401.9 521.8,399.1 C529.2,396.3 534.5,394.4 540.9,392.7 C547.3,391.0 552.7,389.5 560.0,389.2 C567.3,388.9 576.3,390.4 584.5,391.0 C592.7,391.6 600.9,392.3 609.1,392.9 C617.3,393.5 626.5,393.9 633.6,394.5 C640.8,395.1 646.9,395.9 652.0,396.6 C657.1,397.4 660.8,398.1 664.3,399.0 C667.8,399.9 668.4,401.1 672.9,402.1 C677.4,403.1 684.7,404.5 691.1,405.0 C697.5,405.5 704.7,405.3 711.5,405.0 C718.3,404.7 724.0,404.1 732.0,403.4 C740.0,402.7 755.0,401.3 759.6,400.9" fill="none" stroke="#1ca67c" stroke-width="1.7" stroke-linecap="butt" stroke-linejoin="round"/>
<path d="M618.9,402.7 C621.4,402.9 628.1,403.8 633.6,403.9 C639.1,404.0 646.9,403.9 652.0,403.3 C657.1,402.7 660.6,401.5 664.3,400.2 C668.0,398.9 669.5,397.3 674.0,395.5 C678.5,393.7 685.5,391.0 691.1,389.4 C696.7,387.8 702.3,387.0 707.4,386.0 C712.5,385.0 717.6,384.3 721.7,383.3 C725.8,382.3 728.6,381.6 732.0,380.0 C735.4,378.4 738.7,376.0 742.0,373.5 C745.3,371.0 748.9,368.0 752.0,365.0 C755.1,362.0 759.2,357.2 760.6,355.6" fill="none" stroke="#11125a" stroke-width="1.7" stroke-linecap="butt" stroke-linejoin="round"/>
<line x1="41.3" x2="44" y1="439.70" y2="439.70" stroke="#555" stroke-width="0.9"/>
<text transform="translate(40,443.20) scale(1.05,1)" font-size="9.8" fill="#4d4d4d" text-anchor="end">0%</text>
<line x1="41.3" x2="44" y1="347.60" y2="347.60" stroke="#555" stroke-width="0.9"/>
<text transform="translate(40,351.10) scale(1.05,1)" font-size="9.8" fill="#4d4d4d" text-anchor="end">10%</text>
<line x1="41.3" x2="44" y1="255.50" y2="255.50" stroke="#555" stroke-width="0.9"/>
<text transform="translate(40,259.00) scale(1.05,1)" font-size="9.8" fill="#4d4d4d" text-anchor="end">20%</text>
<line x1="41.3" x2="44" y1="163.40" y2="163.40" stroke="#555" stroke-width="0.9"/>
<text transform="translate(40,166.90) scale(1.05,1)" font-size="9.8" fill="#4d4d4d" text-anchor="end">30%</text>
<line x1="41.3" x2="44" y1="71.30" y2="71.30" stroke="#555" stroke-width="0.9"/>
<text transform="translate(40,74.80) scale(1.05,1)" font-size="9.8" fill="#4d4d4d" text-anchor="end">40%</text>
<line x1="91.30" x2="91.30" y1="460" y2="462.7" stroke="#555" stroke-width="0.9"/>
<text x="91.30" y="471.3" font-size="9.3" fill="#4d4d4d" text-anchor="middle">May 2022</text>
<line x1="145.43" x2="145.43" y1="460" y2="462.7" stroke="#555" stroke-width="0.9"/>
<text x="145.43" y="471.3" font-size="9.3" fill="#4d4d4d" text-anchor="middle">Aug 2022</text>
<line x1="199.57" x2="199.57" y1="460" y2="462.7" stroke="#555" stroke-width="0.9"/>
<text x="199.57" y="471.3" font-size="9.3" fill="#4d4d4d" text-anchor="middle">Nov 2022</text>
<line x1="253.70" x2="253.70" y1="460" y2="462.7" stroke="#555" stroke-width="0.9"/>
<text x="253.70" y="471.3" font-size="9.3" fill="#4d4d4d" text-anchor="middle">Feb 2023</text>
<line x1="306.07" x2="306.07" y1="460" y2="462.7" stroke="#555" stroke-width="0.9"/>
<text x="306.07" y="471.3" font-size="9.3" fill="#4d4d4d" text-anchor="middle">May 2023</text>
<line x1="360.20" x2="360.20" y1="460" y2="462.7" stroke="#555" stroke-width="0.9"/>
<text x="360.20" y="471.3" font-size="9.3" fill="#4d4d4d" text-anchor="middle">Aug 2023</text>
<line x1="414.33" x2="414.33" y1="460" y2="462.7" stroke="#555" stroke-width="0.9"/>
<text x="414.33" y="471.3" font-size="9.3" fill="#4d4d4d" text-anchor="middle">Nov 2023</text>
<line x1="468.46" x2="468.46" y1="460" y2="462.7" stroke="#555" stroke-width="0.9"/>
<text x="468.46" y="471.3" font-size="9.3" fill="#4d4d4d" text-anchor="middle">Feb 2024</text>
<line x1="521.42" x2="521.42" y1="460" y2="462.7" stroke="#555" stroke-width="0.9"/>
<text x="521.42" y="471.3" font-size="9.3" fill="#4d4d4d" text-anchor="middle">May 2024</text>
<line x1="575.55" x2="575.55" y1="460" y2="462.7" stroke="#555" stroke-width="0.9"/>
<text x="575.55" y="471.3" font-size="9.3" fill="#4d4d4d" text-anchor="middle">Aug 2024</text>
<line x1="629.69" x2="629.69" y1="460" y2="462.7" stroke="#555" stroke-width="0.9"/>
<text x="629.69" y="471.3" font-size="9.3" fill="#4d4d4d" text-anchor="middle">Nov 2024</text>
<line x1="683.82" x2="683.82" y1="460" y2="462.7" stroke="#555" stroke-width="0.9"/>
<text x="683.82" y="471.3" font-size="9.3" fill="#4d4d4d" text-anchor="middle">Feb 2025</text>
<line x1="736.19" x2="736.19" y1="460" y2="462.7" stroke="#555" stroke-width="0.9"/>
<text x="736.19" y="471.3" font-size="9.3" fill="#4d4d4d" text-anchor="middle">May 2025</text>
<line x1="790.32" x2="790.32" y1="460" y2="462.7" stroke="#555" stroke-width="0.9"/>
<text x="790.32" y="471.3" font-size="9.3" fill="#4d4d4d" text-anchor="middle">Aug 2025</text>
<line x1="844.45" x2="844.45" y1="460" y2="462.7" stroke="#555" stroke-width="0.9"/>
<text x="844.45" y="471.3" font-size="9.3" fill="#4d4d4d" text-anchor="middle">Nov 2025</text>
<line x1="898.58" x2="898.58" y1="460" y2="462.7" stroke="#555" stroke-width="0.9"/>
<text x="898.58" y="471.3" font-size="9.3" fill="#4d4d4d" text-anchor="middle">Feb 2026</text>
<line x1="950.95" x2="950.95" y1="460" y2="462.7" stroke="#555" stroke-width="0.9"/>
<text x="950.95" y="471.3" font-size="9.3" fill="#4d4d4d" text-anchor="middle">May 2026</text>
<rect x="1003.7" y="113.7" width="20.5" height="252.2" fill="#f2f2f2"/>
<line x1="1006.6" x2="1021.2" y1="123.4" y2="123.4" stroke="#0a58a0" stroke-width="2.7" stroke-linecap="round"/>
<text transform="translate(1029.3,128.1) scale(1.035,1)" font-size="12.9" fill="#000">GS</text>
<line x1="1006.6" x2="1021.2" y1="144.4" y2="144.4" stroke="#f4de0c" stroke-width="2.7" stroke-linecap="round"/>
<text transform="translate(1029.3,149.1) scale(1.035,1)" font-size="12.9" fill="#000">SDS</text>
<line x1="1006.6" x2="1021.2" y1="165.4" y2="165.4" stroke="#1a92c9" stroke-width="2.7" stroke-linecap="round"/>
<text transform="translate(1029.3,170.1) scale(1.035,1)" font-size="12.9" fill="#000">NSi</text>
<line x1="1006.6" x2="1021.2" y1="186.5" y2="186.5" stroke="#cf0920" stroke-width="2.7" stroke-linecap="round"/>
<text transform="translate(1029.3,191.2) scale(1.035,1)" font-size="12.9" fill="#000">SD</text>
<line x1="1006.6" x2="1021.2" y1="207.5" y2="207.5" stroke="#ee5546" stroke-width="2.7" stroke-linecap="round"/>
<text transform="translate(1029.3,212.2) scale(1.035,1)" font-size="12.9" fill="#000">Levica</text>
<line x1="1006.6" x2="1021.2" y1="228.5" y2="228.5" stroke="#88b86a" stroke-width="2.7" stroke-linecap="round"/>
<text transform="translate(1029.3,233.2) scale(1.035,1)" font-size="12.9" fill="#000">SLS</text>
<line x1="1006.6" x2="1021.2" y1="249.5" y2="249.5" stroke="#0c8226" stroke-width="2.7" stroke-linecap="round"/>
<text transform="translate(1029.3,254.2) scale(1.035,1)" font-size="12.9" fill="#000">ZS</text>
<line x1="1006.6" x2="1021.2" y1="270.5" y2="270.5" stroke="#7a5aa2" stroke-width="2.7" stroke-linecap="round"/>
<text transform="translate(1029.3,275.2) scale(1.035,1)" font-size="12.9" fill="#000">Resni.ca</text>
<line x1="1006.6" x2="1021.2" y1="291.6" y2="291.6" stroke="#f39439" stroke-width="2.7" stroke-linecap="round"/>
<text transform="translate(1029.3,296.3) scale(1.035,1)" font-size="12.9" fill="#000">Pirati</text>
<line x1="1006.6" x2="1021.2" y1="312.6" y2="312.6" stroke="#111111" stroke-width="2.7" stroke-linecap="round"/>
<text transform="translate(1029.3,317.3) scale(1.035,1)" font-size="12.9" fill="#000">SNS</text>
<line x1="1006.6" x2="1021.2" y1="333.6" y2="333.6" stroke="#1ca67c" stroke-width="2.7" stroke-linecap="round"/>
<text transform="translate(1029.3,338.3) scale(1.035,1)" font-size="12.9" fill="#000">Vesna</text>
<line x1="1006.6" x2="1021.2" y1="354.6" y2="354.6" stroke="#11125a" stroke-width="2.7" stroke-linecap="round"/>
<text transform="translate(1029.3,359.3) scale(1.035,1)" font-size="12.9" fill="#000">Demokrati</text>
</g></svg></div></body></html>
